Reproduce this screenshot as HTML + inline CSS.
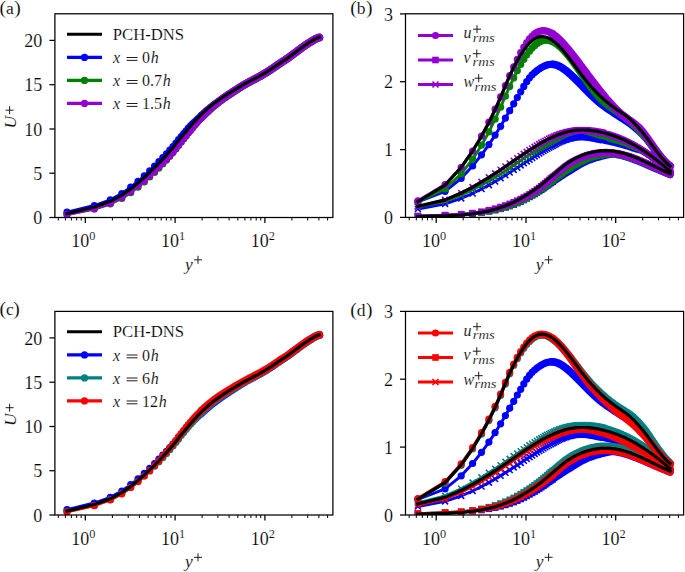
<!DOCTYPE html>
<html><head><meta charset="utf-8"><style>
html,body{margin:0;padding:0;background:#fff;}
svg{display:block;}

text { font-family: "Liberation Serif", serif; fill: #000; stroke: #fff; stroke-width: 0.15px; }
.tk { font-size: 18px; }
.sup { font-size: 12.3px; }
.sup2 { font-size: 12.5px; }
.sub { font-size: 12px; }
.it { font-style: italic; }
.lab { font-size: 17.5px; }
.lg { font-size: 16px; }
.pl { font-size: 17.5px; }
.pp { font-size: 19.6px; }

</style></head><body>
<svg width="685" height="572" viewBox="0 0 685 572">
<defs><clipPath id="ca"><rect x="54.9" y="13.8" width="278" height="203.7"/></clipPath>
<clipPath id="cb"><rect x="405.5" y="13.8" width="278.1" height="203.6"/></clipPath>
<clipPath id="cc"><rect x="54.9" y="311.4" width="278" height="203.7"/></clipPath>
<clipPath id="cd"><rect x="405.5" y="311.4" width="278.1" height="203.6"/></clipPath></defs>
<rect width="685" height="572" fill="#fff"/>
<g clip-path="url(#ca)">
<path d="M67 212.2l27.3 -6.7l16 -5.7l11.5 -6.3l8.9 -6.3l7.3 -5.9l6.3 -5.5l5.4 -5l4.9 -4.7l4.3 -4.4l3.9 -4l3.7 -3.9l3.3 -3.7l3.2 -3.6l2.9 -3.5l2.7 -3.3l2.6 -3.1l2.5 -3l2.4 -2.8l2.2 -2.6l2.2 -2.3l2 -2.1l2 -1.8l1.9 -1.7l1.8 -1.6l1.8 -1.7l1.7 -1.6l1.7 -1.5l1.6 -1.5l1.6 -1.4l1.5 -1.3l1.5 -1.2l1.4 -1.2l1.4 -1.1l1.4 -1.1l1.3 -1l1.4 -1l1.3 -0.9l1.2 -0.9l1.3 -0.9l1.2 -0.9l1.2 -0.8l1.1 -0.8l1.2 -0.8l1.1 -0.7l1.1 -0.8l1.1 -0.7l1.1 -0.7l1 -0.7l1.1 -0.7l1 -0.6l1 -0.7l1 -0.6l1 -0.7l1 -0.6l0.9 -0.6l1 -0.6l0.9 -0.6l0.9 -0.6l1 -0.6l0.9 -0.5l0.9 -0.6l0.8 -0.5l0.9 -0.5l0.9 -0.5l1.7 -1l1.7 -0.9l1.6 -0.8l1.6 -0.9l1.6 -0.8l1.6 -0.9l1.5 -0.8l1.5 -0.8l1.5 -0.8l1.5 -0.9l1.4 -0.8l1.5 -0.9l1.4 -0.8l1.4 -0.9l1.3 -0.9l1.4 -0.8l1.4 -0.9l1.3 -0.9l1.3 -0.9l1.3 -0.9l1.3 -0.9l1.3 -0.9l1.3 -0.8l1.2 -0.9l1.3 -0.9l1.2 -0.8l1.3 -0.8l1.2 -0.8l1.2 -0.8l1.2 -0.8l1.2 -0.8l1.2 -0.9l1.2 -0.9l1.1 -0.9l1.2 -0.8l1.2 -0.9l1.1 -0.9l1.2 -0.8l1.1 -0.9l1.1 -0.8l1.2 -0.9l1.1 -0.8l1.1 -0.8l1.1 -0.8l1.1 -0.8l1.1 -0.7l1.1 -0.8l1.1 -0.7l1.1 -0.7l1.1 -0.6l1.1 -0.7l1 -0.7l1.1 -0.6l1.1 -0.6l1 -0.6l1.1 -0.5l1 -0.4l1.1 -0.4l0.5 -0.1" fill="none" stroke="#0000ff" stroke-width="2.9" stroke-linejoin="round"/>
<circle cx="67" cy="212.2" r="3.6" fill="#0000ff"/>
<circle cx="94.3" cy="205.5" r="3.6" fill="#0000ff"/>
<circle cx="110.3" cy="199.8" r="3.6" fill="#0000ff"/>
<circle cx="121.8" cy="193.5" r="3.6" fill="#0000ff"/>
<circle cx="130.7" cy="187.2" r="3.6" fill="#0000ff"/>
<circle cx="138" cy="181.3" r="3.6" fill="#0000ff"/>
<circle cx="144.3" cy="175.8" r="3.6" fill="#0000ff"/>
<circle cx="149.7" cy="170.8" r="3.6" fill="#0000ff"/>
<circle cx="154.6" cy="166.1" r="3.6" fill="#0000ff"/>
<circle cx="158.9" cy="161.7" r="3.6" fill="#0000ff"/>
<circle cx="162.8" cy="157.7" r="3.6" fill="#0000ff"/>
<circle cx="166.5" cy="153.8" r="3.6" fill="#0000ff"/>
<circle cx="169.8" cy="150.1" r="3.6" fill="#0000ff"/>
<circle cx="173" cy="146.5" r="3.6" fill="#0000ff"/>
<circle cx="175.9" cy="143" r="3.6" fill="#0000ff"/>
<circle cx="178.6" cy="139.7" r="3.6" fill="#0000ff"/>
<circle cx="181.2" cy="136.6" r="3.6" fill="#0000ff"/>
<circle cx="183.7" cy="133.6" r="3.6" fill="#0000ff"/>
<circle cx="186.1" cy="130.8" r="3.6" fill="#0000ff"/>
<circle cx="188.3" cy="128.2" r="3.6" fill="#0000ff"/>
<circle cx="190.5" cy="125.9" r="3.6" fill="#0000ff"/>
<circle cx="192.5" cy="123.8" r="3.6" fill="#0000ff"/>
<circle cx="194.5" cy="122" r="3.6" fill="#0000ff"/>
<circle cx="196.4" cy="120.3" r="3.6" fill="#0000ff"/>
<circle cx="198.2" cy="118.7" r="3.6" fill="#0000ff"/>
<circle cx="200" cy="117" r="3.6" fill="#0000ff"/>
<circle cx="201.7" cy="115.4" r="3.6" fill="#0000ff"/>
<path d="M201.7 115.4l1.7 -1.5l1.6 -1.5l1.6 -1.4l1.5 -1.3l1.5 -1.2l1.4 -1.2l1.4 -1.1l1.4 -1.1l1.3 -1l1.4 -1l1.3 -0.9l1.2 -0.9l1.3 -0.9l1.2 -0.9l1.2 -0.8l1.1 -0.8l1.2 -0.8l1.1 -0.7l1.1 -0.8l1.1 -0.7l1.1 -0.7l1 -0.7l1.1 -0.7l1 -0.6l1 -0.7l1 -0.6l1 -0.7l1 -0.6l0.9 -0.6l1 -0.6l0.9 -0.6l0.9 -0.6l1 -0.6l0.9 -0.5l0.9 -0.6l0.8 -0.5l0.9 -0.5l0.9 -0.5l1.7 -1l1.7 -0.9l1.6 -0.8l1.6 -0.9l1.6 -0.8l1.6 -0.9l1.5 -0.8l1.5 -0.8l1.5 -0.8l1.5 -0.9l1.4 -0.8l1.5 -0.9l1.4 -0.8l1.4 -0.9l1.3 -0.9l1.4 -0.8l1.4 -0.9l1.3 -0.9l1.3 -0.9l1.3 -0.9l1.3 -0.9l1.3 -0.9l1.3 -0.8l1.2 -0.9l1.3 -0.9l1.2 -0.8l1.3 -0.8l1.2 -0.8l1.2 -0.8l1.2 -0.8l1.2 -0.8l1.2 -0.9l1.2 -0.9l1.1 -0.9l1.2 -0.8l1.2 -0.9l1.1 -0.9l1.2 -0.8l1.1 -0.9l1.1 -0.8l1.2 -0.9l1.1 -0.8l1.1 -0.8l1.1 -0.8l1.1 -0.8l1.1 -0.7l1.1 -0.8l1.1 -0.7l1.1 -0.7l1.1 -0.6l1.1 -0.7l1 -0.7l1.1 -0.6l1.1 -0.6l1 -0.6l1.1 -0.5l1 -0.4l1.1 -0.4l0.5 -0.1" fill="none" stroke="#0000ff" stroke-width="7.8" stroke-linejoin="round" stroke-linecap="round"/>
<path d="M67 214.6l27.3 -5.6l16 -5l11.5 -5.5l8.9 -5.8l7.3 -5.5l6.3 -5.3l5.4 -4.9l4.9 -4.6l4.3 -4.3l3.9 -4.1l3.7 -3.9l3.3 -3.8l3.2 -3.7l2.9 -3.6l2.7 -3.5l2.6 -3.3l2.5 -3.2l2.4 -3.1l2.2 -2.9l2.2 -2.6l2 -2.5l2 -2.4l1.9 -2.2l1.8 -2l1.8 -2l1.7 -1.8l1.7 -1.7l1.6 -1.6l1.6 -1.5l1.5 -1.4l1.5 -1.4l1.4 -1.3l1.4 -1.3l1.4 -1.1l1.3 -1.2l1.4 -1l1.3 -1.1l1.2 -0.9l1.3 -1l1.2 -0.9l1.2 -0.9l1.1 -0.8l1.2 -0.8l1.1 -0.8l1.1 -0.8l1.1 -0.7l1.1 -0.7l1 -0.7l1.1 -0.7l1 -0.7l1 -0.7l1 -0.7l1 -0.6l1 -0.7l0.9 -0.6l1 -0.6l0.9 -0.6l0.9 -0.6l1 -0.6l0.9 -0.6l0.9 -0.5l0.8 -0.5l0.9 -0.6l0.9 -0.5l1.7 -1l1.7 -0.9l1.6 -0.8l1.6 -0.9l1.6 -0.8l1.6 -0.8l1.5 -0.9l1.5 -0.8l1.5 -0.8l1.5 -0.9l1.4 -0.8l1.5 -0.8l1.4 -0.9l1.4 -0.8l1.3 -0.9l1.4 -0.9l1.4 -0.9l1.3 -0.9l1.3 -0.9l1.3 -0.9l1.3 -0.8l1.3 -0.9l1.3 -0.9l1.2 -0.9l1.3 -0.8l1.2 -0.9l1.3 -0.8l1.2 -0.8l1.2 -0.8l1.2 -0.8l1.2 -0.8l1.2 -0.9l1.2 -0.8l1.1 -0.9l1.2 -0.9l1.2 -0.9l1.1 -0.8l1.2 -0.9l1.1 -0.9l1.1 -0.8l1.2 -0.8l1.1 -0.9l1.1 -0.8l1.1 -0.8l1.1 -0.8l1.1 -0.7l1.1 -0.8l1.1 -0.7l1.1 -0.7l1.1 -0.6l1.1 -0.7l1 -0.7l1.1 -0.6l1.1 -0.6l1 -0.6l1.1 -0.5l1 -0.4l1.1 -0.4l0.5 -0.1" fill="none" stroke="#008000" stroke-width="2.9" stroke-linejoin="round"/>
<circle cx="67" cy="214.6" r="3.6" fill="#008000"/>
<circle cx="94.3" cy="209" r="3.6" fill="#008000"/>
<circle cx="110.3" cy="204" r="3.6" fill="#008000"/>
<circle cx="121.8" cy="198.5" r="3.6" fill="#008000"/>
<circle cx="130.7" cy="192.7" r="3.6" fill="#008000"/>
<circle cx="138" cy="187.2" r="3.6" fill="#008000"/>
<circle cx="144.3" cy="181.9" r="3.6" fill="#008000"/>
<circle cx="149.7" cy="177" r="3.6" fill="#008000"/>
<circle cx="154.6" cy="172.4" r="3.6" fill="#008000"/>
<circle cx="158.9" cy="168.1" r="3.6" fill="#008000"/>
<circle cx="162.8" cy="164" r="3.6" fill="#008000"/>
<circle cx="166.5" cy="160.1" r="3.6" fill="#008000"/>
<circle cx="169.8" cy="156.3" r="3.6" fill="#008000"/>
<circle cx="173" cy="152.6" r="3.6" fill="#008000"/>
<circle cx="175.9" cy="149" r="3.6" fill="#008000"/>
<circle cx="178.6" cy="145.5" r="3.6" fill="#008000"/>
<circle cx="181.2" cy="142.2" r="3.6" fill="#008000"/>
<circle cx="183.7" cy="139" r="3.6" fill="#008000"/>
<circle cx="186.1" cy="135.9" r="3.6" fill="#008000"/>
<circle cx="188.3" cy="133" r="3.6" fill="#008000"/>
<circle cx="190.5" cy="130.4" r="3.6" fill="#008000"/>
<circle cx="192.5" cy="127.9" r="3.6" fill="#008000"/>
<circle cx="194.5" cy="125.5" r="3.6" fill="#008000"/>
<circle cx="196.4" cy="123.3" r="3.6" fill="#008000"/>
<circle cx="198.2" cy="121.3" r="3.6" fill="#008000"/>
<circle cx="200" cy="119.3" r="3.6" fill="#008000"/>
<circle cx="201.7" cy="117.5" r="3.6" fill="#008000"/>
<path d="M201.7 117.5l1.7 -1.7l1.6 -1.6l1.6 -1.5l1.5 -1.4l1.5 -1.4l1.4 -1.3l1.4 -1.3l1.4 -1.1l1.3 -1.2l1.4 -1l1.3 -1.1l1.2 -0.9l1.3 -1l1.2 -0.9l1.2 -0.9l1.1 -0.8l1.2 -0.8l1.1 -0.8l1.1 -0.8l1.1 -0.7l1.1 -0.7l1 -0.7l1.1 -0.7l1 -0.7l1 -0.7l1 -0.7l1 -0.6l1 -0.7l0.9 -0.6l1 -0.6l0.9 -0.6l0.9 -0.6l1 -0.6l0.9 -0.6l0.9 -0.5l0.8 -0.5l0.9 -0.6l0.9 -0.5l1.7 -1l1.7 -0.9l1.6 -0.8l1.6 -0.9l1.6 -0.8l1.6 -0.8l1.5 -0.9l1.5 -0.8l1.5 -0.8l1.5 -0.9l1.4 -0.8l1.5 -0.8l1.4 -0.9l1.4 -0.8l1.3 -0.9l1.4 -0.9l1.4 -0.9l1.3 -0.9l1.3 -0.9l1.3 -0.9l1.3 -0.8l1.3 -0.9l1.3 -0.9l1.2 -0.9l1.3 -0.8l1.2 -0.9l1.3 -0.8l1.2 -0.8l1.2 -0.8l1.2 -0.8l1.2 -0.8l1.2 -0.9l1.2 -0.8l1.1 -0.9l1.2 -0.9l1.2 -0.9l1.1 -0.8l1.2 -0.9l1.1 -0.9l1.1 -0.8l1.2 -0.8l1.1 -0.9l1.1 -0.8l1.1 -0.8l1.1 -0.8l1.1 -0.7l1.1 -0.8l1.1 -0.7l1.1 -0.7l1.1 -0.6l1.1 -0.7l1 -0.7l1.1 -0.6l1.1 -0.6l1 -0.6l1.1 -0.5l1 -0.4l1.1 -0.4l0.5 -0.1" fill="none" stroke="#008000" stroke-width="7.8" stroke-linejoin="round" stroke-linecap="round"/>
<path d="M67 214.5l27.3 -5.7l16 -5.5l11.5 -5.7l8.9 -6l7.3 -5.6l6.3 -5.2l5.4 -5l4.9 -4.5l4.3 -4.3l3.9 -4l3.7 -3.7l3.3 -3.6l3.2 -3.6l2.9 -3.6l2.7 -3.5l2.6 -3.3l2.5 -3.2l2.4 -2.9l2.2 -2.9l2.2 -2.6l2 -2.5l2 -2.4l1.9 -2.3l1.8 -2.1l1.8 -2l1.7 -1.8l1.7 -1.7l1.6 -1.6l1.6 -1.5l1.5 -1.5l1.5 -1.3l1.4 -1.3l1.4 -1.2l1.4 -1.2l1.3 -1.1l1.4 -1.1l1.3 -1l1.2 -1l1.3 -1l1.2 -0.9l1.2 -0.9l1.1 -0.8l1.2 -0.8l1.1 -0.8l1.1 -0.8l1.1 -0.7l1.1 -0.7l1 -0.7l1.1 -0.7l1 -0.7l1 -0.6l1 -0.7l1 -0.6l1 -0.7l0.9 -0.6l1 -0.6l0.9 -0.6l0.9 -0.5l1 -0.6l0.9 -0.5l0.9 -0.6l0.8 -0.5l0.9 -0.5l1.7 -1l1.7 -0.9l1.7 -0.9l1.6 -0.9l1.6 -0.8l1.6 -0.8l1.5 -0.9l1.6 -0.8l1.5 -0.8l1.4 -0.8l1.5 -0.9l1.4 -0.8l1.5 -0.8l1.4 -0.9l1.4 -0.9l1.3 -0.8l1.4 -0.9l1.3 -0.9l1.4 -0.9l1.3 -0.9l1.3 -0.9l1.3 -0.9l1.2 -0.8l1.3 -0.9l1.3 -0.9l1.2 -0.8l1.2 -0.8l1.3 -0.8l1.2 -0.8l1.2 -0.8l1.2 -0.8l1.2 -0.9l1.2 -0.9l1.2 -0.8l1.1 -0.9l1.2 -0.9l1.1 -0.8l1.2 -0.9l1.1 -0.9l1.2 -0.8l1.1 -0.8l1.1 -0.9l1.1 -0.8l1.2 -0.8l1.1 -0.8l1.1 -0.8l1.1 -0.7l1.1 -0.7l1 -0.7l1.1 -0.7l1.1 -0.7l1.1 -0.6l1.1 -0.7l1 -0.6l1.1 -0.6l1.1 -0.6l1 -0.4l1.1 -0.4l1 -0.3" fill="none" stroke="#9400d3" stroke-width="2.9" stroke-linejoin="round"/>
<circle cx="67" cy="214.5" r="3.6" fill="#9400d3"/>
<circle cx="94.3" cy="208.8" r="3.6" fill="#9400d3"/>
<circle cx="110.3" cy="203.3" r="3.6" fill="#9400d3"/>
<circle cx="121.8" cy="197.6" r="3.6" fill="#9400d3"/>
<circle cx="130.7" cy="191.6" r="3.6" fill="#9400d3"/>
<circle cx="138" cy="186" r="3.6" fill="#9400d3"/>
<circle cx="144.3" cy="180.8" r="3.6" fill="#9400d3"/>
<circle cx="149.7" cy="175.8" r="3.6" fill="#9400d3"/>
<circle cx="154.6" cy="171.3" r="3.6" fill="#9400d3"/>
<circle cx="158.9" cy="167" r="3.6" fill="#9400d3"/>
<circle cx="162.8" cy="163" r="3.6" fill="#9400d3"/>
<circle cx="166.5" cy="159.3" r="3.6" fill="#9400d3"/>
<circle cx="169.8" cy="155.7" r="3.6" fill="#9400d3"/>
<circle cx="173" cy="152.1" r="3.6" fill="#9400d3"/>
<circle cx="175.9" cy="148.5" r="3.6" fill="#9400d3"/>
<circle cx="178.6" cy="145" r="3.6" fill="#9400d3"/>
<circle cx="181.2" cy="141.7" r="3.6" fill="#9400d3"/>
<circle cx="183.7" cy="138.5" r="3.6" fill="#9400d3"/>
<circle cx="186.1" cy="135.6" r="3.6" fill="#9400d3"/>
<circle cx="188.3" cy="132.7" r="3.6" fill="#9400d3"/>
<circle cx="190.5" cy="130.1" r="3.6" fill="#9400d3"/>
<circle cx="192.5" cy="127.6" r="3.6" fill="#9400d3"/>
<circle cx="194.5" cy="125.2" r="3.6" fill="#9400d3"/>
<circle cx="196.4" cy="122.9" r="3.6" fill="#9400d3"/>
<circle cx="198.2" cy="120.8" r="3.6" fill="#9400d3"/>
<circle cx="200" cy="118.8" r="3.6" fill="#9400d3"/>
<circle cx="201.7" cy="117" r="3.6" fill="#9400d3"/>
<path d="M201.7 117l1.7 -1.7l1.6 -1.6l1.6 -1.5l1.5 -1.5l1.5 -1.3l1.4 -1.3l1.4 -1.2l1.4 -1.2l1.3 -1.1l1.4 -1.1l1.3 -1l1.2 -1l1.3 -1l1.2 -0.9l1.2 -0.9l1.1 -0.8l1.2 -0.8l1.1 -0.8l1.1 -0.8l1.1 -0.7l1.1 -0.7l1 -0.7l1.1 -0.7l1 -0.7l1 -0.6l1 -0.7l1 -0.6l1 -0.7l0.9 -0.6l1 -0.6l0.9 -0.6l0.9 -0.5l1 -0.6l0.9 -0.5l0.9 -0.6l0.8 -0.5l0.9 -0.5l1.7 -1l1.7 -0.9l1.7 -0.9l1.6 -0.9l1.6 -0.8l1.6 -0.8l1.5 -0.9l1.6 -0.8l1.5 -0.8l1.4 -0.8l1.5 -0.9l1.4 -0.8l1.5 -0.8l1.4 -0.9l1.4 -0.9l1.3 -0.8l1.4 -0.9l1.3 -0.9l1.4 -0.9l1.3 -0.9l1.3 -0.9l1.3 -0.9l1.2 -0.8l1.3 -0.9l1.3 -0.9l1.2 -0.8l1.2 -0.8l1.3 -0.8l1.2 -0.8l1.2 -0.8l1.2 -0.8l1.2 -0.9l1.2 -0.9l1.2 -0.8l1.1 -0.9l1.2 -0.9l1.1 -0.8l1.2 -0.9l1.1 -0.9l1.2 -0.8l1.1 -0.8l1.1 -0.9l1.1 -0.8l1.2 -0.8l1.1 -0.8l1.1 -0.8l1.1 -0.7l1.1 -0.7l1 -0.7l1.1 -0.7l1.1 -0.7l1.1 -0.6l1.1 -0.7l1 -0.6l1.1 -0.6l1.1 -0.6l1 -0.4l1.1 -0.4l1 -0.3" fill="none" stroke="#9400d3" stroke-width="7.8" stroke-linejoin="round" stroke-linecap="round"/>
<path d="M67 213.5l27.3 -6.5l16 -5.7l11.5 -6.2l8.9 -6.2l7.3 -5.9l6.3 -5.5l5.4 -5.1l4.9 -4.7l4.3 -4.4l3.9 -4.2l3.7 -4l3.3 -3.8l3.2 -3.7l2.9 -3.6l2.7 -3.4l2.6 -3.3l2.5 -3.1l2.4 -2.8l2.2 -2.7l2.2 -2.5l2 -2.4l2 -2.2l1.9 -2l1.8 -2l1.8 -1.8l1.7 -1.7l1.7 -1.6l1.6 -1.4l1.6 -1.5l1.5 -1.3l1.5 -1.3l1.4 -1.2l1.4 -1.1l1.4 -1.1l1.3 -1l1.4 -1l1.3 -0.9l1.2 -0.9l1.3 -0.9l1.2 -0.8l1.2 -0.8l1.1 -0.8l1.2 -0.7l1.1 -0.7l1.1 -0.7l1.1 -0.7l1.1 -0.7l1 -0.6l1.1 -0.7l1 -0.6l1 -0.6l1 -0.6l1 -0.6l1 -0.6l0.9 -0.6l1 -0.5l0.9 -0.6l0.9 -0.5l1 -0.6l0.9 -0.5l0.9 -0.5l0.8 -0.5l0.9 -0.5l1.7 -0.9l1.7 -0.9l1.7 -0.9l1.6 -0.9l1.6 -0.8l1.6 -0.8l1.5 -0.8l1.6 -0.8l1.5 -0.8l1.4 -0.9l1.5 -0.8l1.4 -0.8l1.5 -0.8l1.4 -0.9l1.4 -0.9l1.3 -0.8l1.4 -0.9l1.3 -0.9l1.4 -0.9l1.3 -0.8l1.3 -0.9l1.3 -0.9l1.2 -0.9l1.3 -0.8l1.3 -0.9l1.2 -0.8l1.2 -0.9l1.3 -0.7l1.2 -0.8l1.2 -0.8l1.2 -0.8l1.2 -0.9l1.2 -0.9l1.2 -0.8l1.1 -0.9l1.2 -0.9l1.1 -0.8l1.2 -0.9l1.1 -0.9l1.2 -0.8l1.1 -0.8l1.1 -0.9l1.1 -0.8l1.2 -0.8l1.1 -0.8l1.1 -0.8l1.1 -0.7l1.1 -0.7l1 -0.7l1.1 -0.7l1.1 -0.7l1.1 -0.6l1.1 -0.7l1 -0.6l1.1 -0.6l1.1 -0.6l1 -0.4l1.1 -0.4l1 -0.3" fill="none" stroke="#000" stroke-width="3.2" stroke-linejoin="round" stroke-linecap="square"/>
</g>
<g clip-path="url(#cc)">
<path d="M67 509.7l27.3 -6.7l16 -5.7l11.5 -6.3l8.9 -6.3l7.3 -5.9l6.3 -5.5l5.4 -5l4.9 -4.7l4.3 -4.4l3.9 -4l3.7 -3.9l3.3 -3.7l3.2 -3.6l2.9 -3.5l2.7 -3.3l2.6 -3.1l2.5 -3l2.4 -2.8l2.2 -2.6l2.2 -2.3l2 -2.1l2 -1.8l1.9 -1.7l1.8 -1.6l1.8 -1.7l1.7 -1.6l1.7 -1.5l1.6 -1.5l1.6 -1.4l1.5 -1.3l1.5 -1.2l1.4 -1.2l1.4 -1.1l1.4 -1.1l1.3 -1l1.4 -1l1.3 -0.9l1.2 -0.9l1.3 -0.9l1.2 -0.9l1.2 -0.8l1.1 -0.8l1.2 -0.8l1.1 -0.7l1.1 -0.8l1.1 -0.7l1.1 -0.7l1 -0.7l1.1 -0.7l1 -0.6l1 -0.7l1 -0.6l1 -0.7l1 -0.6l0.9 -0.6l1 -0.6l0.9 -0.6l0.9 -0.6l1 -0.6l0.9 -0.5l0.9 -0.6l0.8 -0.5l0.9 -0.5l0.9 -0.5l1.7 -1l1.7 -0.9l1.6 -0.8l1.6 -0.9l1.6 -0.8l1.6 -0.9l1.5 -0.8l1.5 -0.8l1.5 -0.8l1.5 -0.9l1.4 -0.8l1.5 -0.9l1.4 -0.8l1.4 -0.9l1.3 -0.9l1.4 -0.8l1.4 -0.9l1.3 -0.9l1.3 -0.9l1.3 -0.9l1.3 -0.9l1.3 -0.9l1.3 -0.8l1.2 -0.9l1.3 -0.9l1.2 -0.8l1.3 -0.8l1.2 -0.8l1.2 -0.8l1.2 -0.8l1.2 -0.8l1.2 -0.9l1.2 -0.9l1.1 -0.9l1.2 -0.8l1.2 -0.9l1.1 -0.9l1.2 -0.8l1.1 -0.9l1.1 -0.8l1.2 -0.9l1.1 -0.8l1.1 -0.8l1.1 -0.8l1.1 -0.8l1.1 -0.7l1.1 -0.8l1.1 -0.7l1.1 -0.7l1.1 -0.6l1.1 -0.7l1 -0.7l1.1 -0.6l1.1 -0.6l1 -0.6l1.1 -0.5l1 -0.4l1.1 -0.4l0.5 -0.1" fill="none" stroke="#0000ff" stroke-width="2.9" stroke-linejoin="round"/>
<circle cx="67" cy="509.7" r="3.6" fill="#0000ff"/>
<circle cx="94.3" cy="503" r="3.6" fill="#0000ff"/>
<circle cx="110.3" cy="497.3" r="3.6" fill="#0000ff"/>
<circle cx="121.8" cy="491" r="3.6" fill="#0000ff"/>
<circle cx="130.7" cy="484.7" r="3.6" fill="#0000ff"/>
<circle cx="138" cy="478.8" r="3.6" fill="#0000ff"/>
<circle cx="144.3" cy="473.3" r="3.6" fill="#0000ff"/>
<circle cx="149.7" cy="468.3" r="3.6" fill="#0000ff"/>
<circle cx="154.6" cy="463.6" r="3.6" fill="#0000ff"/>
<circle cx="158.9" cy="459.2" r="3.6" fill="#0000ff"/>
<circle cx="162.8" cy="455.2" r="3.6" fill="#0000ff"/>
<circle cx="166.5" cy="451.3" r="3.6" fill="#0000ff"/>
<circle cx="169.8" cy="447.6" r="3.6" fill="#0000ff"/>
<circle cx="173" cy="444" r="3.6" fill="#0000ff"/>
<circle cx="175.9" cy="440.5" r="3.6" fill="#0000ff"/>
<circle cx="178.6" cy="437.2" r="3.6" fill="#0000ff"/>
<circle cx="181.2" cy="434.1" r="3.6" fill="#0000ff"/>
<circle cx="183.7" cy="431.1" r="3.6" fill="#0000ff"/>
<circle cx="186.1" cy="428.3" r="3.6" fill="#0000ff"/>
<circle cx="188.3" cy="425.7" r="3.6" fill="#0000ff"/>
<circle cx="190.5" cy="423.4" r="3.6" fill="#0000ff"/>
<circle cx="192.5" cy="421.3" r="3.6" fill="#0000ff"/>
<circle cx="194.5" cy="419.5" r="3.6" fill="#0000ff"/>
<circle cx="196.4" cy="417.8" r="3.6" fill="#0000ff"/>
<circle cx="198.2" cy="416.2" r="3.6" fill="#0000ff"/>
<circle cx="200" cy="414.5" r="3.6" fill="#0000ff"/>
<circle cx="201.7" cy="412.9" r="3.6" fill="#0000ff"/>
<path d="M201.7 412.9l1.7 -1.5l1.6 -1.5l1.6 -1.4l1.5 -1.3l1.5 -1.2l1.4 -1.2l1.4 -1.1l1.4 -1.1l1.3 -1l1.4 -1l1.3 -0.9l1.2 -0.9l1.3 -0.9l1.2 -0.9l1.2 -0.8l1.1 -0.8l1.2 -0.8l1.1 -0.7l1.1 -0.8l1.1 -0.7l1.1 -0.7l1 -0.7l1.1 -0.7l1 -0.6l1 -0.7l1 -0.6l1 -0.7l1 -0.6l0.9 -0.6l1 -0.6l0.9 -0.6l0.9 -0.6l1 -0.6l0.9 -0.5l0.9 -0.6l0.8 -0.5l0.9 -0.5l0.9 -0.5l1.7 -1l1.7 -0.9l1.6 -0.8l1.6 -0.9l1.6 -0.8l1.6 -0.9l1.5 -0.8l1.5 -0.8l1.5 -0.8l1.5 -0.9l1.4 -0.8l1.5 -0.9l1.4 -0.8l1.4 -0.9l1.3 -0.9l1.4 -0.8l1.4 -0.9l1.3 -0.9l1.3 -0.9l1.3 -0.9l1.3 -0.9l1.3 -0.9l1.3 -0.8l1.2 -0.9l1.3 -0.9l1.2 -0.8l1.3 -0.8l1.2 -0.8l1.2 -0.8l1.2 -0.8l1.2 -0.8l1.2 -0.9l1.2 -0.9l1.1 -0.9l1.2 -0.8l1.2 -0.9l1.1 -0.9l1.2 -0.8l1.1 -0.9l1.1 -0.8l1.2 -0.9l1.1 -0.8l1.1 -0.8l1.1 -0.8l1.1 -0.8l1.1 -0.7l1.1 -0.8l1.1 -0.7l1.1 -0.7l1.1 -0.6l1.1 -0.7l1 -0.7l1.1 -0.6l1.1 -0.6l1 -0.6l1.1 -0.5l1 -0.4l1.1 -0.4l0.5 -0.1" fill="none" stroke="#0000ff" stroke-width="7.8" stroke-linejoin="round" stroke-linecap="round"/>
<path d="M67 511.6l27.3 -6.2l16 -5.7l11.5 -6.1l8.9 -6.2l7.3 -5.9l6.3 -5.5l5.4 -5.1l4.9 -4.7l4.3 -4.4l3.9 -4.2l3.7 -4l3.3 -3.9l3.2 -3.7l2.9 -3.7l2.7 -3.4l2.6 -3.4l2.5 -3.1l2.4 -2.9l2.2 -2.7l2.2 -2.6l2 -2.3l2 -2.2l1.9 -2.1l1.8 -2l1.8 -1.8l1.7 -1.7l1.7 -1.6l1.6 -1.5l1.6 -1.4l1.5 -1.3l1.5 -1.3l1.4 -1.2l1.4 -1.1l1.4 -1.1l1.3 -1.1l1.4 -0.9l1.3 -1l1.2 -0.9l1.3 -0.8l1.2 -0.9l1.2 -0.8l1.1 -0.7l1.2 -0.8l1.1 -0.7l1.1 -0.7l1.1 -0.7l1.1 -0.7l1 -0.6l1.1 -0.6l1 -0.7l1 -0.6l1 -0.6l1 -0.6l1 -0.6l0.9 -0.6l1 -0.5l0.9 -0.6l0.9 -0.5l1 -0.6l0.9 -0.5l0.9 -0.5l0.8 -0.5l0.9 -0.5l1.7 -1l1.7 -0.9l1.7 -0.8l1.6 -0.9l1.6 -0.8l1.6 -0.8l1.5 -0.9l1.6 -0.8l1.5 -0.8l1.4 -0.8l1.5 -0.8l1.4 -0.9l1.5 -0.8l1.4 -0.8l1.4 -0.9l1.3 -0.9l1.4 -0.9l1.3 -0.9l1.4 -0.8l1.3 -0.9l1.3 -0.9l1.3 -0.9l1.2 -0.8l1.3 -0.9l1.3 -0.9l1.2 -0.8l1.2 -0.8l1.3 -0.8l1.2 -0.8l1.2 -0.8l1.2 -0.8l1.2 -0.9l1.2 -0.8l1.2 -0.9l1.1 -0.9l1.2 -0.9l1.1 -0.8l1.2 -0.9l1.1 -0.9l1.2 -0.8l1.1 -0.8l1.1 -0.9l1.1 -0.8l1.2 -0.8l1.1 -0.8l1.1 -0.8l1.1 -0.7l1.1 -0.7l1 -0.7l1.1 -0.7l1.1 -0.7l1.1 -0.6l1.1 -0.7l1 -0.6l1.1 -0.6l1.1 -0.6l1 -0.4l1.1 -0.4l1 -0.3" fill="none" stroke="#008080" stroke-width="2.9" stroke-linejoin="round"/>
<circle cx="67" cy="511.6" r="3.6" fill="#008080"/>
<circle cx="94.3" cy="505.4" r="3.6" fill="#008080"/>
<circle cx="110.3" cy="499.7" r="3.6" fill="#008080"/>
<circle cx="121.8" cy="493.6" r="3.6" fill="#008080"/>
<circle cx="130.7" cy="487.4" r="3.6" fill="#008080"/>
<circle cx="138" cy="481.5" r="3.6" fill="#008080"/>
<circle cx="144.3" cy="476" r="3.6" fill="#008080"/>
<circle cx="149.7" cy="470.9" r="3.6" fill="#008080"/>
<circle cx="154.6" cy="466.2" r="3.6" fill="#008080"/>
<circle cx="158.9" cy="461.8" r="3.6" fill="#008080"/>
<circle cx="162.8" cy="457.6" r="3.6" fill="#008080"/>
<circle cx="166.5" cy="453.6" r="3.6" fill="#008080"/>
<circle cx="169.8" cy="449.7" r="3.6" fill="#008080"/>
<circle cx="173" cy="446" r="3.6" fill="#008080"/>
<circle cx="175.9" cy="442.3" r="3.6" fill="#008080"/>
<circle cx="178.6" cy="438.9" r="3.6" fill="#008080"/>
<circle cx="181.2" cy="435.5" r="3.6" fill="#008080"/>
<circle cx="183.7" cy="432.4" r="3.6" fill="#008080"/>
<circle cx="186.1" cy="429.5" r="3.6" fill="#008080"/>
<circle cx="188.3" cy="426.8" r="3.6" fill="#008080"/>
<circle cx="190.5" cy="424.2" r="3.6" fill="#008080"/>
<circle cx="192.5" cy="421.9" r="3.6" fill="#008080"/>
<circle cx="194.5" cy="419.7" r="3.6" fill="#008080"/>
<circle cx="196.4" cy="417.6" r="3.6" fill="#008080"/>
<circle cx="198.2" cy="415.6" r="3.6" fill="#008080"/>
<circle cx="200" cy="413.8" r="3.6" fill="#008080"/>
<circle cx="201.7" cy="412.1" r="3.6" fill="#008080"/>
<path d="M201.7 412.1l1.7 -1.6l1.6 -1.5l1.6 -1.4l1.5 -1.3l1.5 -1.3l1.4 -1.2l1.4 -1.1l1.4 -1.1l1.3 -1.1l1.4 -0.9l1.3 -1l1.2 -0.9l1.3 -0.8l1.2 -0.9l1.2 -0.8l1.1 -0.7l1.2 -0.8l1.1 -0.7l1.1 -0.7l1.1 -0.7l1.1 -0.7l1 -0.6l1.1 -0.6l1 -0.7l1 -0.6l1 -0.6l1 -0.6l1 -0.6l0.9 -0.6l1 -0.5l0.9 -0.6l0.9 -0.5l1 -0.6l0.9 -0.5l0.9 -0.5l0.8 -0.5l0.9 -0.5l1.7 -1l1.7 -0.9l1.7 -0.8l1.6 -0.9l1.6 -0.8l1.6 -0.8l1.5 -0.9l1.6 -0.8l1.5 -0.8l1.4 -0.8l1.5 -0.8l1.4 -0.9l1.5 -0.8l1.4 -0.8l1.4 -0.9l1.3 -0.9l1.4 -0.9l1.3 -0.9l1.4 -0.8l1.3 -0.9l1.3 -0.9l1.3 -0.9l1.2 -0.8l1.3 -0.9l1.3 -0.9l1.2 -0.8l1.2 -0.8l1.3 -0.8l1.2 -0.8l1.2 -0.8l1.2 -0.8l1.2 -0.9l1.2 -0.8l1.2 -0.9l1.1 -0.9l1.2 -0.9l1.1 -0.8l1.2 -0.9l1.1 -0.9l1.2 -0.8l1.1 -0.8l1.1 -0.9l1.1 -0.8l1.2 -0.8l1.1 -0.8l1.1 -0.8l1.1 -0.7l1.1 -0.7l1 -0.7l1.1 -0.7l1.1 -0.7l1.1 -0.6l1.1 -0.7l1 -0.6l1.1 -0.6l1.1 -0.6l1 -0.4l1.1 -0.4l1 -0.3" fill="none" stroke="#008080" stroke-width="7.8" stroke-linejoin="round" stroke-linecap="round"/>
<path d="M67 511.9l27.3 -6.2l16 -5.7l11.5 -6.2l8.9 -6.3l7.3 -5.9l6.3 -5.6l5.4 -5.3l4.9 -5.1l4.3 -4.8l3.9 -4.4l3.7 -4.2l3.3 -4.1l3.2 -3.9l2.9 -3.7l2.7 -3.6l2.6 -3.4l2.5 -3.1l2.4 -3l2.2 -2.7l2.2 -2.5l2 -2.4l2 -2.1l1.9 -2l1.8 -1.9l1.8 -1.8l1.7 -1.6l1.7 -1.5l1.6 -1.5l1.6 -1.3l1.5 -1.3l1.5 -1.3l1.4 -1.1l1.4 -1.2l1.4 -1l1.3 -1l1.4 -1l1.3 -0.9l1.2 -0.9l1.3 -0.8l1.2 -0.8l1.2 -0.8l1.1 -0.7l1.2 -0.8l1.1 -0.7l1.1 -0.7l1.1 -0.6l1.1 -0.7l1 -0.6l1.1 -0.6l1 -0.7l1 -0.6l1 -0.6l1 -0.6l1 -0.5l0.9 -0.6l1 -0.5l0.9 -0.6l0.9 -0.5l1 -0.6l0.9 -0.5l0.9 -0.5l0.8 -0.5l1.8 -0.9l1.7 -0.9l1.7 -0.9l1.6 -0.8l1.6 -0.8l1.6 -0.9l1.6 -0.8l1.5 -0.8l1.5 -0.8l1.5 -0.8l1.5 -0.8l1.4 -0.8l1.5 -0.8l1.4 -0.8l1.4 -0.9l1.3 -0.8l1.4 -0.9l1.4 -0.9l1.3 -0.8l1.3 -0.9l1.3 -0.9l1.3 -0.8l1.3 -0.9l1.3 -0.9l1.2 -0.8l1.3 -0.9l1.2 -0.8l1.3 -0.8l1.2 -0.7l1.2 -0.8l1.2 -0.8l1.2 -0.8l1.2 -0.9l1.2 -0.9l1.1 -0.8l1.2 -0.9l1.2 -0.9l1.1 -0.8l1.2 -0.9l1.1 -0.8l1.1 -0.8l1.2 -0.9l1.1 -0.8l1.1 -0.8l1.1 -0.8l1.1 -0.8l1.1 -0.7l1.1 -0.8l1.1 -0.7l1.1 -0.6l1.1 -0.7l1.1 -0.6l1 -0.7l1.1 -0.7l1.1 -0.6l1 -0.5l1.1 -0.5l1 -0.5l1.1 -0.3l0.5 -0.1" fill="none" stroke="#ff0000" stroke-width="2.9" stroke-linejoin="round"/>
<circle cx="67" cy="511.9" r="3.6" fill="#ff0000"/>
<circle cx="94.3" cy="505.7" r="3.6" fill="#ff0000"/>
<circle cx="110.3" cy="500" r="3.6" fill="#ff0000"/>
<circle cx="121.8" cy="493.8" r="3.6" fill="#ff0000"/>
<circle cx="130.7" cy="487.5" r="3.6" fill="#ff0000"/>
<circle cx="138" cy="481.6" r="3.6" fill="#ff0000"/>
<circle cx="144.3" cy="476" r="3.6" fill="#ff0000"/>
<circle cx="149.7" cy="470.7" r="3.6" fill="#ff0000"/>
<circle cx="154.6" cy="465.6" r="3.6" fill="#ff0000"/>
<circle cx="158.9" cy="460.8" r="3.6" fill="#ff0000"/>
<circle cx="162.8" cy="456.4" r="3.6" fill="#ff0000"/>
<circle cx="166.5" cy="452.2" r="3.6" fill="#ff0000"/>
<circle cx="169.8" cy="448.1" r="3.6" fill="#ff0000"/>
<circle cx="173" cy="444.2" r="3.6" fill="#ff0000"/>
<circle cx="175.9" cy="440.5" r="3.6" fill="#ff0000"/>
<circle cx="178.6" cy="436.9" r="3.6" fill="#ff0000"/>
<circle cx="181.2" cy="433.5" r="3.6" fill="#ff0000"/>
<circle cx="183.7" cy="430.4" r="3.6" fill="#ff0000"/>
<circle cx="186.1" cy="427.4" r="3.6" fill="#ff0000"/>
<circle cx="188.3" cy="424.7" r="3.6" fill="#ff0000"/>
<circle cx="190.5" cy="422.2" r="3.6" fill="#ff0000"/>
<circle cx="192.5" cy="419.8" r="3.6" fill="#ff0000"/>
<circle cx="194.5" cy="417.7" r="3.6" fill="#ff0000"/>
<circle cx="196.4" cy="415.7" r="3.6" fill="#ff0000"/>
<circle cx="198.2" cy="413.8" r="3.6" fill="#ff0000"/>
<circle cx="200" cy="412" r="3.6" fill="#ff0000"/>
<circle cx="201.7" cy="410.4" r="3.6" fill="#ff0000"/>
<path d="M201.7 410.4l1.7 -1.5l1.6 -1.5l1.6 -1.3l1.5 -1.3l1.5 -1.3l1.4 -1.1l1.4 -1.2l1.4 -1l1.3 -1l1.4 -1l1.3 -0.9l1.2 -0.9l1.3 -0.8l1.2 -0.8l1.2 -0.8l1.1 -0.7l1.2 -0.8l1.1 -0.7l1.1 -0.7l1.1 -0.6l1.1 -0.7l1 -0.6l1.1 -0.6l1 -0.7l1 -0.6l1 -0.6l1 -0.6l1 -0.5l0.9 -0.6l1 -0.5l0.9 -0.6l0.9 -0.5l1 -0.6l0.9 -0.5l0.9 -0.5l0.8 -0.5l1.8 -0.9l1.7 -0.9l1.7 -0.9l1.6 -0.8l1.6 -0.8l1.6 -0.9l1.6 -0.8l1.5 -0.8l1.5 -0.8l1.5 -0.8l1.5 -0.8l1.4 -0.8l1.5 -0.8l1.4 -0.8l1.4 -0.9l1.3 -0.8l1.4 -0.9l1.4 -0.9l1.3 -0.8l1.3 -0.9l1.3 -0.9l1.3 -0.8l1.3 -0.9l1.3 -0.9l1.2 -0.8l1.3 -0.9l1.2 -0.8l1.3 -0.8l1.2 -0.7l1.2 -0.8l1.2 -0.8l1.2 -0.8l1.2 -0.9l1.2 -0.9l1.1 -0.8l1.2 -0.9l1.2 -0.9l1.1 -0.8l1.2 -0.9l1.1 -0.8l1.1 -0.8l1.2 -0.9l1.1 -0.8l1.1 -0.8l1.1 -0.8l1.1 -0.8l1.1 -0.7l1.1 -0.8l1.1 -0.7l1.1 -0.6l1.1 -0.7l1.1 -0.6l1 -0.7l1.1 -0.7l1.1 -0.6l1 -0.5l1.1 -0.5l1 -0.5l1.1 -0.3l0.5 -0.1" fill="none" stroke="#ff0000" stroke-width="7.8" stroke-linejoin="round" stroke-linecap="round"/>
<path d="M67 511l27.3 -6.5l16 -5.7l11.5 -6.2l8.9 -6.2l7.3 -5.9l6.3 -5.5l5.4 -5.1l4.9 -4.7l4.3 -4.4l3.9 -4.2l3.7 -4l3.3 -3.8l3.2 -3.7l2.9 -3.6l2.7 -3.4l2.6 -3.3l2.5 -3.1l2.4 -2.8l2.2 -2.7l2.2 -2.5l2 -2.4l2 -2.2l1.9 -2l1.8 -2l1.8 -1.8l1.7 -1.7l1.7 -1.6l1.6 -1.4l1.6 -1.5l1.5 -1.3l1.5 -1.3l1.4 -1.2l1.4 -1.1l1.4 -1.1l1.3 -1l1.4 -1l1.3 -0.9l1.2 -0.9l1.3 -0.9l1.2 -0.8l1.2 -0.8l1.1 -0.8l1.2 -0.7l1.1 -0.7l1.1 -0.7l1.1 -0.7l1.1 -0.7l1 -0.6l1.1 -0.7l1 -0.6l1 -0.6l1 -0.6l1 -0.6l1 -0.6l0.9 -0.6l1 -0.5l0.9 -0.6l0.9 -0.5l1 -0.6l0.9 -0.5l0.9 -0.5l0.8 -0.5l0.9 -0.5l1.7 -0.9l1.7 -0.9l1.7 -0.9l1.6 -0.9l1.6 -0.8l1.6 -0.8l1.5 -0.8l1.6 -0.8l1.5 -0.8l1.4 -0.9l1.5 -0.8l1.4 -0.8l1.5 -0.8l1.4 -0.9l1.4 -0.9l1.3 -0.8l1.4 -0.9l1.3 -0.9l1.4 -0.9l1.3 -0.8l1.3 -0.9l1.3 -0.9l1.2 -0.9l1.3 -0.8l1.3 -0.9l1.2 -0.8l1.2 -0.9l1.3 -0.7l1.2 -0.8l1.2 -0.8l1.2 -0.8l1.2 -0.9l1.2 -0.9l1.2 -0.8l1.1 -0.9l1.2 -0.9l1.1 -0.8l1.2 -0.9l1.1 -0.9l1.2 -0.8l1.1 -0.8l1.1 -0.9l1.1 -0.8l1.2 -0.8l1.1 -0.8l1.1 -0.8l1.1 -0.7l1.1 -0.7l1 -0.7l1.1 -0.7l1.1 -0.7l1.1 -0.6l1.1 -0.7l1 -0.6l1.1 -0.6l1.1 -0.6l1 -0.4l1.1 -0.4l1 -0.3" fill="none" stroke="#000" stroke-width="3.2" stroke-linejoin="round" stroke-linecap="square"/>
</g>
<g clip-path="url(#cb)">
<path d="M417.9 202l27.2 -10.7l16.1 -13l11.4 -12.3l8.9 -11.2l7.4 -10.2l6.2 -9.5l5.5 -8.8l4.8 -8.2l4.3 -7.4l4 -6.9l3.6 -6.3l3.4 -5.7l3.1 -5.4l2.9 -4.7l2.8 -3.9l2.6 -3l2.5 -2.3l2.3 -1.9l2.3 -1.6l2.1 -1.4l2.1 -1.1l1.9 -0.9l1.9 -0.7l1.9 -0.4l1.7 -0.2l1.8 0l1.6 0.2l1.6 0.4l1.6 0.5l1.5 0.7l1.5 0.7l1.5 0.9l1.4 0.9l1.3 1l1.4 1l1.3 1.1l1.3 1.1l1.3 1.1l1.2 1.1l1.2 1.2l1.2 1.1l1.2 1.1l1.1 1.2l1.2 1.1l1.1 1.1l1.1 1.1l1 1.1l1.1 1.1l1 1l1.1 1.1l1 1l1 1l1 1l0.9 1l1 0.9l0.9 1l1 0.9l0.9 0.9l0.9 0.9l0.9 0.8l0.9 0.9l0.9 0.8l0.9 0.8l0.8 0.8l0.9 0.7l0.8 0.8l0.9 0.7l0.8 0.7l0.8 0.7l0.9 0.6l0.8 0.7l0.8 0.6l0.8 0.6l1.5 1.1l1.6 1.2l1.5 1l1.5 1l1.5 1l1.5 1l1.4 0.9l1.4 0.9l1.4 0.9l1.4 0.9l1.4 0.9l1.3 0.9l1.4 0.8l1.3 0.9l1.3 0.9l1.3 0.8l1.3 0.9l1.3 0.9l1.3 0.9l1.2 1l1.3 0.9l1.2 1l1.2 1l1.2 1l1.2 1.1l1.2 1.1l1.2 1.1l1.2 1.2l1.2 1.1l1.2 1.3l1.1 1.2l1.2 1.3l1.1 1.4l1.2 1.4l1.1 1.4l1.1 1.5l1.2 1.6l1.1 1.5l1.1 1.6l1.1 1.6l1.1 1.5l1.1 1.6l1.1 1.5l1.1 1.5l1.1 1.4l1.1 1.3l1 1.3l1.1 1.2l1.1 1.2l1 1l1.1 0.9l1.1 0.7l1 0.7l1 0.5" fill="none" stroke="#0000ff" stroke-width="2.9" stroke-linejoin="round"/>
<circle cx="417.9" cy="202" r="3.6" fill="#0000ff"/>
<circle cx="445.1" cy="191.3" r="3.6" fill="#0000ff"/>
<circle cx="461.2" cy="178.3" r="3.6" fill="#0000ff"/>
<circle cx="472.6" cy="166" r="3.6" fill="#0000ff"/>
<circle cx="481.5" cy="154.8" r="3.6" fill="#0000ff"/>
<circle cx="488.9" cy="144.6" r="3.6" fill="#0000ff"/>
<circle cx="495.1" cy="135.1" r="3.6" fill="#0000ff"/>
<circle cx="500.6" cy="126.3" r="3.6" fill="#0000ff"/>
<circle cx="505.4" cy="118.1" r="3.6" fill="#0000ff"/>
<circle cx="509.7" cy="110.7" r="3.6" fill="#0000ff"/>
<circle cx="513.7" cy="103.8" r="3.6" fill="#0000ff"/>
<circle cx="517.3" cy="97.5" r="3.6" fill="#0000ff"/>
<circle cx="520.7" cy="91.8" r="3.6" fill="#0000ff"/>
<circle cx="523.8" cy="86.4" r="3.6" fill="#0000ff"/>
<circle cx="526.7" cy="81.7" r="3.6" fill="#0000ff"/>
<circle cx="529.5" cy="77.8" r="3.6" fill="#0000ff"/>
<circle cx="532.1" cy="74.8" r="3.6" fill="#0000ff"/>
<circle cx="534.6" cy="72.5" r="3.6" fill="#0000ff"/>
<circle cx="536.9" cy="70.6" r="3.6" fill="#0000ff"/>
<circle cx="539.2" cy="69" r="3.6" fill="#0000ff"/>
<circle cx="541.3" cy="67.6" r="3.6" fill="#0000ff"/>
<circle cx="543.4" cy="66.5" r="3.6" fill="#0000ff"/>
<circle cx="545.3" cy="65.6" r="3.6" fill="#0000ff"/>
<circle cx="547.2" cy="64.9" r="3.6" fill="#0000ff"/>
<circle cx="549.1" cy="64.5" r="3.6" fill="#0000ff"/>
<circle cx="550.8" cy="64.3" r="3.6" fill="#0000ff"/>
<circle cx="552.6" cy="64.3" r="3.6" fill="#0000ff"/>
<path d="M552.6 64.3l1.6 0.2l1.6 0.4l1.6 0.5l1.5 0.7l1.5 0.7l1.5 0.9l1.4 0.9l1.3 1l1.4 1l1.3 1.1l1.3 1.1l1.3 1.1l1.2 1.1l1.2 1.2l1.2 1.1l1.2 1.1l1.1 1.2l1.2 1.1l1.1 1.1l1.1 1.1l1 1.1l1.1 1.1l1 1l1.1 1.1l1 1l1 1l1 1l0.9 1l1 0.9l0.9 1l1 0.9l0.9 0.9l0.9 0.9l0.9 0.8l0.9 0.9l0.9 0.8l0.9 0.8l0.8 0.8l0.9 0.7l0.8 0.8l0.9 0.7l0.8 0.7l0.8 0.7l0.9 0.6l0.8 0.7l0.8 0.6l0.8 0.6l1.5 1.1l1.6 1.2l1.5 1l1.5 1l1.5 1l1.5 1l1.4 0.9l1.4 0.9l1.4 0.9l1.4 0.9l1.4 0.9l1.3 0.9l1.4 0.8l1.3 0.9l1.3 0.9l1.3 0.8l1.3 0.9l1.3 0.9l1.3 0.9l1.2 1l1.3 0.9l1.2 1l1.2 1l1.2 1l1.2 1.1l1.2 1.1l1.2 1.1l1.2 1.2l1.2 1.1l1.2 1.3l1.1 1.2l1.2 1.3l1.1 1.4l1.2 1.4l1.1 1.4l1.1 1.5l1.2 1.6l1.1 1.5l1.1 1.6l1.1 1.6l1.1 1.5l1.1 1.6l1.1 1.5l1.1 1.5l1.1 1.4l1.1 1.3l1 1.3l1.1 1.2l1.1 1.2l1 1l1.1 0.9l1.1 0.7l1 0.7l1 0.5" fill="none" stroke="#0000ff" stroke-width="7.8" stroke-linejoin="round" stroke-linecap="round"/>
<path d="M417.9 216.3l27.2 -0.8l16.1 -0.8l11.4 -1.1l8.9 -1.1l7.4 -1.2l6.2 -1.2l5.5 -1.3l4.8 -1.4l4.3 -1.4l4 -1.4l3.6 -1.5l3.4 -1.6l3.1 -1.5l2.9 -1.6l2.8 -1.5l2.6 -1.5l2.5 -1.4l2.3 -1.5l2.3 -1.4l2.1 -1.4l2.1 -1.4l1.9 -1.4l1.9 -1.4l1.9 -1.3l1.7 -1.3l1.8 -1.1l1.6 -1.2l1.6 -1.1l1.6 -1l1.5 -1l1.5 -1l1.5 -0.9l1.4 -0.9l1.3 -0.9l1.4 -0.8l1.3 -0.9l1.3 -0.8l1.3 -0.7l1.2 -0.8l1.2 -0.8l1.2 -0.7l1.2 -0.8l1.1 -0.7l1.2 -0.7l1.1 -0.6l1.1 -0.7l1 -0.6l1.1 -0.6l1 -0.5l1.1 -0.6l1 -0.5l1 -0.4l1 -0.5l0.9 -0.4l1 -0.4l0.9 -0.4l1 -0.3l1.8 -0.7l1.8 -0.6l1.8 -0.6l1.7 -0.5l1.7 -0.4l1.6 -0.5l1.7 -0.4l1.6 -0.4l1.5 -0.4l1.6 -0.4l1.5 -0.3l1.5 -0.3l1.5 -0.1l1.5 -0.1l1.4 0.1l1.4 0.2l1.4 0.2l1.4 0.3l1.4 0.3l1.3 0.3l1.4 0.3l1.3 0.4l1.3 0.4l1.3 0.4l1.3 0.4l1.3 0.4l1.3 0.4l1.2 0.5l1.3 0.4l1.2 0.5l1.2 0.5l1.2 0.4l1.2 0.5l1.2 0.5l1.2 0.5l1.2 0.5l1.2 0.5l1.2 0.5l1.1 0.5l1.2 0.5l1.1 0.5l1.2 0.4l1.1 0.5l1.1 0.5l1.2 0.5l1.1 0.5l1.1 0.5l1.1 0.5l1.1 0.5l1.1 0.4l1.1 0.5l1.1 0.5l1.1 0.4l1.1 0.5l1 0.4l1.1 0.5l1.1 0.4l1 0.4l1.1 0.5l1.1 0.4l1 0.4l1 0.4" fill="none" stroke="#0000ff" stroke-width="2.9" stroke-linejoin="round"/>
<rect x="414.6" y="213" width="6.6" height="6.6" fill="#0000ff"/>
<rect x="441.8" y="212.2" width="6.6" height="6.6" fill="#0000ff"/>
<rect x="457.9" y="211.4" width="6.6" height="6.6" fill="#0000ff"/>
<rect x="469.3" y="210.3" width="6.6" height="6.6" fill="#0000ff"/>
<rect x="478.2" y="209.2" width="6.6" height="6.6" fill="#0000ff"/>
<rect x="485.6" y="208" width="6.6" height="6.6" fill="#0000ff"/>
<rect x="491.8" y="206.8" width="6.6" height="6.6" fill="#0000ff"/>
<rect x="497.3" y="205.5" width="6.6" height="6.6" fill="#0000ff"/>
<rect x="502.1" y="204.1" width="6.6" height="6.6" fill="#0000ff"/>
<rect x="506.4" y="202.7" width="6.6" height="6.6" fill="#0000ff"/>
<rect x="510.4" y="201.3" width="6.6" height="6.6" fill="#0000ff"/>
<rect x="514" y="199.8" width="6.6" height="6.6" fill="#0000ff"/>
<rect x="517.4" y="198.2" width="6.6" height="6.6" fill="#0000ff"/>
<rect x="520.5" y="196.7" width="6.6" height="6.6" fill="#0000ff"/>
<rect x="523.4" y="195.1" width="6.6" height="6.6" fill="#0000ff"/>
<rect x="526.2" y="193.6" width="6.6" height="6.6" fill="#0000ff"/>
<rect x="528.8" y="192.1" width="6.6" height="6.6" fill="#0000ff"/>
<rect x="531.3" y="190.7" width="6.6" height="6.6" fill="#0000ff"/>
<rect x="533.6" y="189.2" width="6.6" height="6.6" fill="#0000ff"/>
<rect x="535.9" y="187.8" width="6.6" height="6.6" fill="#0000ff"/>
<rect x="538" y="186.4" width="6.6" height="6.6" fill="#0000ff"/>
<rect x="540.1" y="185" width="6.6" height="6.6" fill="#0000ff"/>
<rect x="542" y="183.6" width="6.6" height="6.6" fill="#0000ff"/>
<rect x="543.9" y="182.2" width="6.6" height="6.6" fill="#0000ff"/>
<rect x="545.8" y="180.9" width="6.6" height="6.6" fill="#0000ff"/>
<rect x="547.5" y="179.6" width="6.6" height="6.6" fill="#0000ff"/>
<rect x="549.3" y="178.5" width="6.6" height="6.6" fill="#0000ff"/>
<path d="M552.6 181.8l1.6 -1.2l1.6 -1.1l1.6 -1l1.5 -1l1.5 -1l1.5 -0.9l1.4 -0.9l1.3 -0.9l1.4 -0.8l1.3 -0.9l1.3 -0.8l1.3 -0.7l1.2 -0.8l1.2 -0.8l1.2 -0.7l1.2 -0.8l1.1 -0.7l1.2 -0.7l1.1 -0.6l1.1 -0.7l1 -0.6l1.1 -0.6l1 -0.5l1.1 -0.6l1 -0.5l1 -0.4l1 -0.5l0.9 -0.4l1 -0.4l0.9 -0.4l1 -0.3l1.8 -0.7l1.8 -0.6l1.8 -0.6l1.7 -0.5l1.7 -0.4l1.6 -0.5l1.7 -0.4l1.6 -0.4l1.5 -0.4l1.6 -0.4l1.5 -0.3l1.5 -0.3l1.5 -0.1l1.5 -0.1l1.4 0.1l1.4 0.2l1.4 0.2l1.4 0.3l1.4 0.3l1.3 0.3l1.4 0.3l1.3 0.4l1.3 0.4l1.3 0.4l1.3 0.4l1.3 0.4l1.3 0.4l1.2 0.5l1.3 0.4l1.2 0.5l1.2 0.5l1.2 0.4l1.2 0.5l1.2 0.5l1.2 0.5l1.2 0.5l1.2 0.5l1.2 0.5l1.1 0.5l1.2 0.5l1.1 0.5l1.2 0.4l1.1 0.5l1.1 0.5l1.2 0.5l1.1 0.5l1.1 0.5l1.1 0.5l1.1 0.5l1.1 0.4l1.1 0.5l1.1 0.5l1.1 0.4l1.1 0.5l1 0.4l1.1 0.5l1.1 0.4l1 0.4l1.1 0.5l1.1 0.4l1 0.4l1 0.4" fill="none" stroke="#0000ff" stroke-width="7.6" stroke-linejoin="round" stroke-linecap="round"/>
<path d="M417.9 209l27.2 -5.1l16.1 -5.5l11.4 -4.9l8.9 -4.5l7.4 -3.9l6.2 -3.6l5.5 -3.2l4.8 -3l4.3 -2.8l4 -2.6l3.6 -2.3l3.4 -2.2l3.1 -2.1l2.9 -1.9l2.8 -1.8l2.6 -1.6l2.5 -1.6l2.3 -1.5l2.3 -1.4l2.1 -1.3l2.1 -1.2l1.9 -1.2l1.9 -1l1.9 -1l1.7 -1l1.8 -0.9l1.6 -0.9l1.6 -0.9l1.6 -0.8l1.5 -0.8l1.5 -0.7l1.5 -0.7l1.4 -0.5l1.3 -0.6l1.4 -0.4l1.3 -0.4l1.3 -0.4l1.3 -0.3l1.2 -0.3l1.2 -0.3l1.2 -0.2l1.2 -0.2l1.1 -0.2l1.2 -0.1l1.1 -0.1l1.1 -0.1l1 0l1.1 0l1 0l1.1 0l1 0l1 0.1l1.9 0.2l1.9 0.2l1.9 0.3l1.8 0.3l1.8 0.3l1.7 0.3l1.7 0.4l1.7 0.3l1.7 0.4l1.6 0.3l1.6 0.3l1.5 0.3l1.6 0.3l1.5 0.4l1.5 0.3l1.4 0.3l1.5 0.4l1.4 0.3l1.4 0.4l1.4 0.4l1.4 0.3l1.4 0.4l1.3 0.3l1.3 0.4l1.4 0.4l1.3 0.4l1.3 0.3l1.3 0.5l1.2 0.4l1.3 0.4l1.2 0.5l1.3 0.4l1.2 0.4l1.2 0.4l1.2 0.4l1.3 0.2l1.1 0.3l1.2 0.3l1.2 0.5l1.2 0.7l1.2 0.6l1.1 0.7l1.2 0.7l1.1 0.7l1.1 0.8l1.2 0.8l1.1 0.8l1.1 0.8l1.1 0.9l1.2 0.8l1.1 0.8l1.1 0.9l1.1 0.8l1.1 0.9l1 0.8l1.1 0.9l1.1 0.8l1.1 0.9l1 0.9l1.1 0.9l1.1 0.8l1 0.9l1.1 0.9l1 0.9l0.5 0.4" fill="none" stroke="#0000ff" stroke-width="2.9" stroke-linejoin="round"/>
<path d="M414.9 206l6 6M414.9 212l6 -6" stroke="#0000ff" stroke-width="1.6"/>
<path d="M442.1 200.9l6 6M442.1 206.9l6 -6" stroke="#0000ff" stroke-width="1.6"/>
<path d="M458.2 195.4l6 6M458.2 201.4l6 -6" stroke="#0000ff" stroke-width="1.6"/>
<path d="M469.6 190.5l6 6M469.6 196.5l6 -6" stroke="#0000ff" stroke-width="1.6"/>
<path d="M478.5 186l6 6M478.5 192l6 -6" stroke="#0000ff" stroke-width="1.6"/>
<path d="M485.9 182.1l6 6M485.9 188.1l6 -6" stroke="#0000ff" stroke-width="1.6"/>
<path d="M492.1 178.5l6 6M492.1 184.5l6 -6" stroke="#0000ff" stroke-width="1.6"/>
<path d="M497.6 175.3l6 6M497.6 181.3l6 -6" stroke="#0000ff" stroke-width="1.6"/>
<path d="M502.4 172.3l6 6M502.4 178.3l6 -6" stroke="#0000ff" stroke-width="1.6"/>
<path d="M506.7 169.5l6 6M506.7 175.5l6 -6" stroke="#0000ff" stroke-width="1.6"/>
<path d="M510.7 166.9l6 6M510.7 172.9l6 -6" stroke="#0000ff" stroke-width="1.6"/>
<path d="M514.3 164.6l6 6M514.3 170.6l6 -6" stroke="#0000ff" stroke-width="1.6"/>
<path d="M517.7 162.4l6 6M517.7 168.4l6 -6" stroke="#0000ff" stroke-width="1.6"/>
<path d="M520.8 160.3l6 6M520.8 166.3l6 -6" stroke="#0000ff" stroke-width="1.6"/>
<path d="M523.7 158.4l6 6M523.7 164.4l6 -6" stroke="#0000ff" stroke-width="1.6"/>
<path d="M526.5 156.6l6 6M526.5 162.6l6 -6" stroke="#0000ff" stroke-width="1.6"/>
<path d="M529.1 155l6 6M529.1 161l6 -6" stroke="#0000ff" stroke-width="1.6"/>
<path d="M531.6 153.4l6 6M531.6 159.4l6 -6" stroke="#0000ff" stroke-width="1.6"/>
<path d="M533.9 151.9l6 6M533.9 157.9l6 -6" stroke="#0000ff" stroke-width="1.6"/>
<path d="M536.2 150.5l6 6M536.2 156.5l6 -6" stroke="#0000ff" stroke-width="1.6"/>
<path d="M538.3 149.2l6 6M538.3 155.2l6 -6" stroke="#0000ff" stroke-width="1.6"/>
<path d="M540.4 148l6 6M540.4 154l6 -6" stroke="#0000ff" stroke-width="1.6"/>
<path d="M542.3 146.8l6 6M542.3 152.8l6 -6" stroke="#0000ff" stroke-width="1.6"/>
<path d="M544.2 145.8l6 6M544.2 151.8l6 -6" stroke="#0000ff" stroke-width="1.6"/>
<path d="M546.1 144.8l6 6M546.1 150.8l6 -6" stroke="#0000ff" stroke-width="1.6"/>
<path d="M547.8 143.8l6 6M547.8 149.8l6 -6" stroke="#0000ff" stroke-width="1.6"/>
<path d="M549.6 142.9l6 6M549.6 148.9l6 -6" stroke="#0000ff" stroke-width="1.6"/>
<path d="M551.2 142l6 6M551.2 148l6 -6" stroke="#0000ff" stroke-width="1.6"/>
<path d="M552.8 141.1l6 6M552.8 147.1l6 -6" stroke="#0000ff" stroke-width="1.6"/>
<path d="M554.4 140.3l6 6M554.4 146.3l6 -6" stroke="#0000ff" stroke-width="1.6"/>
<path d="M555.9 139.5l6 6M555.9 145.5l6 -6" stroke="#0000ff" stroke-width="1.6"/>
<path d="M557.4 138.8l6 6M557.4 144.8l6 -6" stroke="#0000ff" stroke-width="1.6"/>
<path d="M558.9 138.1l6 6M558.9 144.1l6 -6" stroke="#0000ff" stroke-width="1.6"/>
<path d="M560.3 137.6l6 6M560.3 143.6l6 -6" stroke="#0000ff" stroke-width="1.6"/>
<path d="M561.6 137l6 6M561.6 143l6 -6" stroke="#0000ff" stroke-width="1.6"/>
<path d="M563 136.6l6 6M563 142.6l6 -6" stroke="#0000ff" stroke-width="1.6"/>
<path d="M564.3 136.2l6 6M564.3 142.2l6 -6" stroke="#0000ff" stroke-width="1.6"/>
<path d="M565.6 135.8l6 6M565.6 141.8l6 -6" stroke="#0000ff" stroke-width="1.6"/>
<path d="M566.9 135.5l6 6M566.9 141.5l6 -6" stroke="#0000ff" stroke-width="1.6"/>
<path d="M568.1 135.2l6 6M568.1 141.2l6 -6" stroke="#0000ff" stroke-width="1.6"/>
<path d="M569.3 134.9l6 6M569.3 140.9l6 -6" stroke="#0000ff" stroke-width="1.6"/>
<path d="M570.5 134.7l6 6M570.5 140.7l6 -6" stroke="#0000ff" stroke-width="1.6"/>
<path d="M571.7 134.5l6 6M571.7 140.5l6 -6" stroke="#0000ff" stroke-width="1.6"/>
<path d="M572.8 134.3l6 6M572.8 140.3l6 -6" stroke="#0000ff" stroke-width="1.6"/>
<path d="M574 134.2l6 6M574 140.2l6 -6" stroke="#0000ff" stroke-width="1.6"/>
<path d="M575.1 134.1l6 6M575.1 140.1l6 -6" stroke="#0000ff" stroke-width="1.6"/>
<path d="M576.2 134l6 6M576.2 140l6 -6" stroke="#0000ff" stroke-width="1.6"/>
<path d="M577.2 134l6 6M577.2 140l6 -6" stroke="#0000ff" stroke-width="1.6"/>
<path d="M578.3 134l6 6M578.3 140l6 -6" stroke="#0000ff" stroke-width="1.6"/>
<path d="M579.3 134l6 6M579.3 140l6 -6" stroke="#0000ff" stroke-width="1.6"/>
<path d="M580.4 134l6 6M580.4 140l6 -6" stroke="#0000ff" stroke-width="1.6"/>
<path d="M581.4 134l6 6M581.4 140l6 -6" stroke="#0000ff" stroke-width="1.6"/>
<path d="M582.4 134.1l6 6M582.4 140.1l6 -6" stroke="#0000ff" stroke-width="1.6"/>
<path d="M583.4 134.2l6 6M583.4 140.2l6 -6" stroke="#0000ff" stroke-width="1.6"/>
<path d="M584.3 134.3l6 6M584.3 140.3l6 -6" stroke="#0000ff" stroke-width="1.6"/>
<path d="M585.3 134.4l6 6M585.3 140.4l6 -6" stroke="#0000ff" stroke-width="1.6"/>
<path d="M586.2 134.5l6 6M586.2 140.5l6 -6" stroke="#0000ff" stroke-width="1.6"/>
<path d="M587.2 134.6l6 6M587.2 140.6l6 -6" stroke="#0000ff" stroke-width="1.6"/>
<path d="M588.1 134.8l6 6M588.1 140.8l6 -6" stroke="#0000ff" stroke-width="1.6"/>
<path d="M589 134.9l6 6M589 140.9l6 -6" stroke="#0000ff" stroke-width="1.6"/>
<path d="M589.9 135.1l6 6M589.9 141.1l6 -6" stroke="#0000ff" stroke-width="1.6"/>
<path d="M590.8 135.2l6 6M590.8 141.2l6 -6" stroke="#0000ff" stroke-width="1.6"/>
<path d="M591.7 135.4l6 6M591.7 141.4l6 -6" stroke="#0000ff" stroke-width="1.6"/>
<path d="M592.6 135.5l6 6M592.6 141.5l6 -6" stroke="#0000ff" stroke-width="1.6"/>
<path d="M593.4 135.7l6 6M593.4 141.7l6 -6" stroke="#0000ff" stroke-width="1.6"/>
<path d="M594.3 135.9l6 6M594.3 141.9l6 -6" stroke="#0000ff" stroke-width="1.6"/>
<path d="M595.1 136.1l6 6M595.1 142.1l6 -6" stroke="#0000ff" stroke-width="1.6"/>
<path d="M596 136.2l6 6M596 142.2l6 -6" stroke="#0000ff" stroke-width="1.6"/>
<path d="M596.8 136.4l6 6M596.8 142.4l6 -6" stroke="#0000ff" stroke-width="1.6"/>
<path d="M597.6 136.6l6 6M597.6 142.6l6 -6" stroke="#0000ff" stroke-width="1.6"/>
<path d="M598.5 136.8l6 6M598.5 142.8l6 -6" stroke="#0000ff" stroke-width="1.6"/>
<path d="M599.3 136.9l6 6M599.3 142.9l6 -6" stroke="#0000ff" stroke-width="1.6"/>
<path d="M600.1 137.1l6 6M600.1 143.1l6 -6" stroke="#0000ff" stroke-width="1.6"/>
<path d="M603.1 140.1l1.6 0.3l1.5 0.3l1.6 0.3l1.5 0.4l1.5 0.3l1.4 0.3l1.5 0.4l1.4 0.3l1.4 0.4l1.4 0.4l1.4 0.3l1.4 0.4l1.3 0.3l1.3 0.4l1.4 0.4l1.3 0.4l1.3 0.3l1.3 0.5l1.2 0.4l1.3 0.4l1.2 0.5l1.3 0.4l1.2 0.4l1.2 0.4l1.2 0.4l1.3 0.2l1.1 0.3l1.2 0.3l1.2 0.5l1.2 0.7l1.2 0.6l1.1 0.7l1.2 0.7l1.1 0.7l1.1 0.8l1.2 0.8l1.1 0.8l1.1 0.8l1.1 0.9l1.2 0.8l1.1 0.8l1.1 0.9l1.1 0.8l1.1 0.9l1 0.8l1.1 0.9l1.1 0.8l1.1 0.9l1 0.9l1.1 0.9l1.1 0.8l1 0.9l1.1 0.9l1 0.9l0.5 0.4" fill="none" stroke="#0000ff" stroke-width="7.0" stroke-linejoin="round" stroke-linecap="round"/>
<path d="M417.9 201.8l27.2 -12.9l16.1 -15l11.4 -14.7l8.9 -14l7.4 -13.3l6.2 -12.7l5.5 -12l4.8 -11l4.3 -9.8l4 -8.5l3.6 -7.2l3.4 -6.2l3.1 -5.2l2.9 -4.5l2.8 -3.6l2.6 -3.1l2.5 -2.4l2.3 -2l2.3 -1.5l2.1 -1l2.1 -0.7l1.9 -0.4l1.9 0l1.9 0.3l1.7 0.4l1.8 0.7l1.6 0.8l1.6 1l1.6 1.1l1.5 1.2l1.5 1.3l1.5 1.3l1.4 1.5l1.3 1.4l1.4 1.5l1.3 1.6l1.3 1.5l1.3 1.6l1.2 1.6l1.2 1.6l1.2 1.6l1.2 1.7l1.1 1.6l1.2 1.6l1.1 1.5l1.1 1.6l1 1.6l1.1 1.5l1 1.5l1.1 1.5l1 1.5l1 1.4l1 1.4l0.9 1.4l1 1.4l0.9 1.3l1 1.3l0.9 1.2l0.9 1.2l0.9 1.2l0.9 1.2l0.9 1.1l0.9 1.1l0.8 1l0.9 1l0.8 1l0.9 1l0.8 0.9l0.8 0.8l0.9 0.8l0.8 0.8l0.8 0.8l0.8 0.7l0.8 0.7l0.7 0.7l0.8 0.6l1.6 1.3l1.5 1.1l1.5 1.1l1.4 1.1l1.5 1l1.4 1l1.4 0.9l1.4 1l1.4 0.9l1.4 1l1.3 0.9l1.3 1l1.4 0.9l1.3 1l1.3 1l1.3 1.1l1.2 1.1l1.3 1.1l1.2 1.1l1.3 1.1l1.2 1.2l1.2 1.2l1.2 1.2l1.3 1.2l1.1 1.3l1.2 1.2l1.2 1.3l1.2 1.4l1.2 1.3l1.1 1.4l1.2 1.4l1.1 1.4l1.1 1.4l1.2 1.4l1.1 1.5l1.1 1.5l1.1 1.5l1.2 1.5l1.1 1.4l1.1 1.5l1.1 1.5l1.1 1.4l1 1.3l1.1 1.4l1.1 1.3l1.1 1.2l1 1.2l1.1 1.1l1.1 1.1l1 0.9l1.1 0.9l1 0.8l0.5 0.4" fill="none" stroke="#008000" stroke-width="2.9" stroke-linejoin="round"/>
<circle cx="417.9" cy="201.8" r="3.6" fill="#008000"/>
<circle cx="445.1" cy="188.9" r="3.6" fill="#008000"/>
<circle cx="461.2" cy="173.9" r="3.6" fill="#008000"/>
<circle cx="472.6" cy="159.2" r="3.6" fill="#008000"/>
<circle cx="481.5" cy="145.2" r="3.6" fill="#008000"/>
<circle cx="488.9" cy="131.9" r="3.6" fill="#008000"/>
<circle cx="495.1" cy="119.2" r="3.6" fill="#008000"/>
<circle cx="500.6" cy="107.2" r="3.6" fill="#008000"/>
<circle cx="505.4" cy="96.2" r="3.6" fill="#008000"/>
<circle cx="509.7" cy="86.4" r="3.6" fill="#008000"/>
<circle cx="513.7" cy="77.9" r="3.6" fill="#008000"/>
<circle cx="517.3" cy="70.7" r="3.6" fill="#008000"/>
<circle cx="520.7" cy="64.5" r="3.6" fill="#008000"/>
<circle cx="523.8" cy="59.3" r="3.6" fill="#008000"/>
<circle cx="526.7" cy="54.8" r="3.6" fill="#008000"/>
<circle cx="529.5" cy="51.2" r="3.6" fill="#008000"/>
<circle cx="532.1" cy="48.1" r="3.6" fill="#008000"/>
<circle cx="534.6" cy="45.7" r="3.6" fill="#008000"/>
<circle cx="536.9" cy="43.7" r="3.6" fill="#008000"/>
<circle cx="539.2" cy="42.2" r="3.6" fill="#008000"/>
<circle cx="541.3" cy="41.2" r="3.6" fill="#008000"/>
<circle cx="543.4" cy="40.5" r="3.6" fill="#008000"/>
<circle cx="545.3" cy="40.1" r="3.6" fill="#008000"/>
<circle cx="547.2" cy="40.1" r="3.6" fill="#008000"/>
<circle cx="549.1" cy="40.4" r="3.6" fill="#008000"/>
<circle cx="550.8" cy="40.8" r="3.6" fill="#008000"/>
<circle cx="552.6" cy="41.5" r="3.6" fill="#008000"/>
<path d="M552.6 41.5l1.6 0.8l1.6 1l1.6 1.1l1.5 1.2l1.5 1.3l1.5 1.3l1.4 1.5l1.3 1.4l1.4 1.5l1.3 1.6l1.3 1.5l1.3 1.6l1.2 1.6l1.2 1.6l1.2 1.6l1.2 1.7l1.1 1.6l1.2 1.6l1.1 1.5l1.1 1.6l1 1.6l1.1 1.5l1 1.5l1.1 1.5l1 1.5l1 1.4l1 1.4l0.9 1.4l1 1.4l0.9 1.3l1 1.3l0.9 1.2l0.9 1.2l0.9 1.2l0.9 1.2l0.9 1.1l0.9 1.1l0.8 1l0.9 1l0.8 1l0.9 1l0.8 0.9l0.8 0.8l0.9 0.8l0.8 0.8l0.8 0.8l0.8 0.7l0.8 0.7l0.7 0.7l0.8 0.6l1.6 1.3l1.5 1.1l1.5 1.1l1.4 1.1l1.5 1l1.4 1l1.4 0.9l1.4 1l1.4 0.9l1.4 1l1.3 0.9l1.3 1l1.4 0.9l1.3 1l1.3 1l1.3 1.1l1.2 1.1l1.3 1.1l1.2 1.1l1.3 1.1l1.2 1.2l1.2 1.2l1.2 1.2l1.3 1.2l1.1 1.3l1.2 1.2l1.2 1.3l1.2 1.4l1.2 1.3l1.1 1.4l1.2 1.4l1.1 1.4l1.1 1.4l1.2 1.4l1.1 1.5l1.1 1.5l1.1 1.5l1.2 1.5l1.1 1.4l1.1 1.5l1.1 1.5l1.1 1.4l1 1.3l1.1 1.4l1.1 1.3l1.1 1.2l1 1.2l1.1 1.1l1.1 1.1l1 0.9l1.1 0.9l1 0.8l0.5 0.4" fill="none" stroke="#008000" stroke-width="7.8" stroke-linejoin="round" stroke-linecap="round"/>
<path d="M417.9 216.1l27.2 -0.8l16.1 -0.8l11.4 -1.1l8.9 -1.1l7.4 -1.2l6.2 -1.2l5.5 -1.3l4.8 -1.4l4.3 -1.4l4 -1.5l3.6 -1.6l3.4 -1.6l3.1 -1.6l2.9 -1.6l2.8 -1.6l2.6 -1.5l2.5 -1.5l2.3 -1.5l2.3 -1.5l2.1 -1.5l2.1 -1.5l1.9 -1.4l1.9 -1.5l1.9 -1.4l1.7 -1.3l1.8 -1.3l1.6 -1.3l1.6 -1.2l1.6 -1.1l1.5 -1.2l1.5 -1.1l1.5 -1l1.4 -1l1.3 -1l1.4 -0.9l1.3 -0.9l1.3 -0.8l1.3 -0.8l1.2 -0.8l1.2 -0.8l1.2 -0.7l1.2 -0.7l1.1 -0.7l1.2 -0.6l1.1 -0.6l1.1 -0.6l1 -0.6l1.1 -0.5l1 -0.5l1.1 -0.5l1 -0.5l1 -0.4l1 -0.4l0.9 -0.4l1 -0.4l0.9 -0.4l1.9 -0.6l1.8 -0.6l1.8 -0.5l1.7 -0.5l1.7 -0.4l1.7 -0.4l1.7 -0.3l1.6 -0.2l1.6 -0.3l1.5 -0.1l1.6 -0.2l1.5 -0.1l1.5 0l1.4 0l1.5 0.1l1.4 0.1l1.4 0.2l1.4 0.2l1.4 0.2l1.4 0.3l1.3 0.3l1.3 0.3l1.4 0.3l1.3 0.4l1.3 0.3l1.3 0.4l1.2 0.4l1.3 0.4l1.2 0.5l1.3 0.4l1.2 0.4l1.2 0.5l1.2 0.4l1.3 0.5l1.1 0.5l1.2 0.5l1.2 0.5l1.2 0.5l1.2 0.5l1.1 0.5l1.2 0.5l1.1 0.5l1.1 0.5l1.2 0.5l1.1 0.5l1.1 0.5l1.1 0.5l1.2 0.5l1.1 0.5l1.1 0.5l1.1 0.5l1.1 0.5l1 0.5l1.1 0.5l1.1 0.5l1.1 0.5l1 0.4l1.1 0.5l1.1 0.5l1 0.4l1.1 0.4l1 0.5l0.5 0.2" fill="none" stroke="#008000" stroke-width="2.9" stroke-linejoin="round"/>
<rect x="414.6" y="212.8" width="6.6" height="6.6" fill="#008000"/>
<rect x="441.8" y="212" width="6.6" height="6.6" fill="#008000"/>
<rect x="457.9" y="211.2" width="6.6" height="6.6" fill="#008000"/>
<rect x="469.3" y="210.1" width="6.6" height="6.6" fill="#008000"/>
<rect x="478.2" y="209" width="6.6" height="6.6" fill="#008000"/>
<rect x="485.6" y="207.8" width="6.6" height="6.6" fill="#008000"/>
<rect x="491.8" y="206.6" width="6.6" height="6.6" fill="#008000"/>
<rect x="497.3" y="205.3" width="6.6" height="6.6" fill="#008000"/>
<rect x="502.1" y="203.9" width="6.6" height="6.6" fill="#008000"/>
<rect x="506.4" y="202.5" width="6.6" height="6.6" fill="#008000"/>
<rect x="510.4" y="201" width="6.6" height="6.6" fill="#008000"/>
<rect x="514" y="199.4" width="6.6" height="6.6" fill="#008000"/>
<rect x="517.4" y="197.8" width="6.6" height="6.6" fill="#008000"/>
<rect x="520.5" y="196.2" width="6.6" height="6.6" fill="#008000"/>
<rect x="523.4" y="194.6" width="6.6" height="6.6" fill="#008000"/>
<rect x="526.2" y="193" width="6.6" height="6.6" fill="#008000"/>
<rect x="528.8" y="191.5" width="6.6" height="6.6" fill="#008000"/>
<rect x="531.3" y="190" width="6.6" height="6.6" fill="#008000"/>
<rect x="533.6" y="188.5" width="6.6" height="6.6" fill="#008000"/>
<rect x="535.9" y="187" width="6.6" height="6.6" fill="#008000"/>
<rect x="538" y="185.5" width="6.6" height="6.6" fill="#008000"/>
<rect x="540.1" y="184" width="6.6" height="6.6" fill="#008000"/>
<rect x="542" y="182.6" width="6.6" height="6.6" fill="#008000"/>
<rect x="543.9" y="181.1" width="6.6" height="6.6" fill="#008000"/>
<rect x="545.8" y="179.7" width="6.6" height="6.6" fill="#008000"/>
<rect x="547.5" y="178.4" width="6.6" height="6.6" fill="#008000"/>
<rect x="549.3" y="177.1" width="6.6" height="6.6" fill="#008000"/>
<path d="M552.6 180.4l1.6 -1.3l1.6 -1.2l1.6 -1.1l1.5 -1.2l1.5 -1.1l1.5 -1l1.4 -1l1.3 -1l1.4 -0.9l1.3 -0.9l1.3 -0.8l1.3 -0.8l1.2 -0.8l1.2 -0.8l1.2 -0.7l1.2 -0.7l1.1 -0.7l1.2 -0.6l1.1 -0.6l1.1 -0.6l1 -0.6l1.1 -0.5l1 -0.5l1.1 -0.5l1 -0.5l1 -0.4l1 -0.4l0.9 -0.4l1 -0.4l0.9 -0.4l1.9 -0.6l1.8 -0.6l1.8 -0.5l1.7 -0.5l1.7 -0.4l1.7 -0.4l1.7 -0.3l1.6 -0.2l1.6 -0.3l1.5 -0.1l1.6 -0.2l1.5 -0.1l1.5 0l1.4 0l1.5 0.1l1.4 0.1l1.4 0.2l1.4 0.2l1.4 0.2l1.4 0.3l1.3 0.3l1.3 0.3l1.4 0.3l1.3 0.4l1.3 0.3l1.3 0.4l1.2 0.4l1.3 0.4l1.2 0.5l1.3 0.4l1.2 0.4l1.2 0.5l1.2 0.4l1.3 0.5l1.1 0.5l1.2 0.5l1.2 0.5l1.2 0.5l1.2 0.5l1.1 0.5l1.2 0.5l1.1 0.5l1.1 0.5l1.2 0.5l1.1 0.5l1.1 0.5l1.1 0.5l1.2 0.5l1.1 0.5l1.1 0.5l1.1 0.5l1.1 0.5l1 0.5l1.1 0.5l1.1 0.5l1.1 0.5l1 0.4l1.1 0.5l1.1 0.5l1 0.4l1.1 0.4l1 0.5l0.5 0.2" fill="none" stroke="#008000" stroke-width="7.6" stroke-linejoin="round" stroke-linecap="round"/>
<path d="M417.9 207l27.2 -5.6l16.1 -6.2l11.4 -5.5l8.9 -4.7l7.4 -4.1l6.2 -3.6l5.5 -3.3l4.8 -3.1l4.3 -2.9l4 -2.7l3.6 -2.5l3.4 -2.3l3.1 -2.2l2.9 -1.9l2.8 -1.9l2.6 -1.7l2.5 -1.6l2.3 -1.4l2.3 -1.4l2.1 -1.3l2.1 -1.2l1.9 -1.1l1.9 -1.1l1.9 -0.9l1.7 -1l1.8 -0.9l1.6 -1l1.6 -1l1.6 -1l1.5 -0.9l1.5 -0.8l1.5 -0.8l1.4 -0.7l1.3 -0.6l1.4 -0.6l1.3 -0.5l1.3 -0.4l1.3 -0.4l1.2 -0.4l1.2 -0.3l1.2 -0.3l1.2 -0.3l1.1 -0.2l1.2 -0.1l1.1 -0.2l1.1 -0.1l1 0l1.1 0l1 0l1.1 0.1l1 0.2l1 0.1l1 0.2l1.9 0.4l1.9 0.5l1.8 0.6l1.8 0.6l1.8 0.5l1.7 0.6l1.7 0.5l1.6 0.5l1.7 0.6l1.6 0.5l1.5 0.5l1.6 0.6l1.5 0.5l1.5 0.5l1.5 0.5l1.5 0.5l1.4 0.4l1.4 0.4l1.4 0.3l1.4 0.4l1.4 0.4l1.3 0.4l1.4 0.5l1.3 0.5l1.3 0.5l1.3 0.6l1.3 0.5l1.3 0.6l1.3 0.5l1.2 0.6l1.3 0.5l1.2 0.4l1.2 0.5l1.2 0.4l1.2 0.5l1.2 0.5l1.2 0.7l1.2 0.7l1.2 0.7l1.2 0.7l1.1 0.7l1.2 0.8l1.1 0.7l1.2 0.8l1.1 0.8l1.1 0.8l1.2 0.8l1.1 0.8l1.1 0.9l1.1 0.8l1.1 0.8l1.1 0.9l1.1 0.8l1.1 0.9l1.1 0.9l1.1 0.8l1 0.9l1.1 0.9l1.1 0.8l1 0.9l1.1 0.9l1.1 0.9l1 0.9l1 0.8" fill="none" stroke="#008000" stroke-width="2.9" stroke-linejoin="round"/>
<path d="M414.9 204l6 6M414.9 210l6 -6" stroke="#008000" stroke-width="1.6"/>
<path d="M442.1 198.4l6 6M442.1 204.4l6 -6" stroke="#008000" stroke-width="1.6"/>
<path d="M458.2 192.2l6 6M458.2 198.2l6 -6" stroke="#008000" stroke-width="1.6"/>
<path d="M469.6 186.7l6 6M469.6 192.7l6 -6" stroke="#008000" stroke-width="1.6"/>
<path d="M478.5 182l6 6M478.5 188l6 -6" stroke="#008000" stroke-width="1.6"/>
<path d="M485.9 177.9l6 6M485.9 183.9l6 -6" stroke="#008000" stroke-width="1.6"/>
<path d="M492.1 174.3l6 6M492.1 180.3l6 -6" stroke="#008000" stroke-width="1.6"/>
<path d="M497.6 171l6 6M497.6 177l6 -6" stroke="#008000" stroke-width="1.6"/>
<path d="M502.4 167.9l6 6M502.4 173.9l6 -6" stroke="#008000" stroke-width="1.6"/>
<path d="M506.7 165l6 6M506.7 171l6 -6" stroke="#008000" stroke-width="1.6"/>
<path d="M510.7 162.3l6 6M510.7 168.3l6 -6" stroke="#008000" stroke-width="1.6"/>
<path d="M514.3 159.8l6 6M514.3 165.8l6 -6" stroke="#008000" stroke-width="1.6"/>
<path d="M517.7 157.5l6 6M517.7 163.5l6 -6" stroke="#008000" stroke-width="1.6"/>
<path d="M520.8 155.3l6 6M520.8 161.3l6 -6" stroke="#008000" stroke-width="1.6"/>
<path d="M523.7 153.4l6 6M523.7 159.4l6 -6" stroke="#008000" stroke-width="1.6"/>
<path d="M526.5 151.5l6 6M526.5 157.5l6 -6" stroke="#008000" stroke-width="1.6"/>
<path d="M529.1 149.8l6 6M529.1 155.8l6 -6" stroke="#008000" stroke-width="1.6"/>
<path d="M531.6 148.2l6 6M531.6 154.2l6 -6" stroke="#008000" stroke-width="1.6"/>
<path d="M533.9 146.8l6 6M533.9 152.8l6 -6" stroke="#008000" stroke-width="1.6"/>
<path d="M536.2 145.4l6 6M536.2 151.4l6 -6" stroke="#008000" stroke-width="1.6"/>
<path d="M538.3 144.1l6 6M538.3 150.1l6 -6" stroke="#008000" stroke-width="1.6"/>
<path d="M540.4 142.9l6 6M540.4 148.9l6 -6" stroke="#008000" stroke-width="1.6"/>
<path d="M542.3 141.8l6 6M542.3 147.8l6 -6" stroke="#008000" stroke-width="1.6"/>
<path d="M544.2 140.7l6 6M544.2 146.7l6 -6" stroke="#008000" stroke-width="1.6"/>
<path d="M546.1 139.8l6 6M546.1 145.8l6 -6" stroke="#008000" stroke-width="1.6"/>
<path d="M547.8 138.8l6 6M547.8 144.8l6 -6" stroke="#008000" stroke-width="1.6"/>
<path d="M549.6 137.9l6 6M549.6 143.9l6 -6" stroke="#008000" stroke-width="1.6"/>
<path d="M551.2 136.9l6 6M551.2 142.9l6 -6" stroke="#008000" stroke-width="1.6"/>
<path d="M552.8 135.9l6 6M552.8 141.9l6 -6" stroke="#008000" stroke-width="1.6"/>
<path d="M554.4 134.9l6 6M554.4 140.9l6 -6" stroke="#008000" stroke-width="1.6"/>
<path d="M555.9 134l6 6M555.9 140l6 -6" stroke="#008000" stroke-width="1.6"/>
<path d="M557.4 133.2l6 6M557.4 139.2l6 -6" stroke="#008000" stroke-width="1.6"/>
<path d="M558.9 132.4l6 6M558.9 138.4l6 -6" stroke="#008000" stroke-width="1.6"/>
<path d="M560.3 131.7l6 6M560.3 137.7l6 -6" stroke="#008000" stroke-width="1.6"/>
<path d="M561.6 131.1l6 6M561.6 137.1l6 -6" stroke="#008000" stroke-width="1.6"/>
<path d="M563 130.5l6 6M563 136.5l6 -6" stroke="#008000" stroke-width="1.6"/>
<path d="M564.3 130l6 6M564.3 136l6 -6" stroke="#008000" stroke-width="1.6"/>
<path d="M565.6 129.6l6 6M565.6 135.6l6 -6" stroke="#008000" stroke-width="1.6"/>
<path d="M566.9 129.2l6 6M566.9 135.2l6 -6" stroke="#008000" stroke-width="1.6"/>
<path d="M568.1 128.8l6 6M568.1 134.8l6 -6" stroke="#008000" stroke-width="1.6"/>
<path d="M569.3 128.5l6 6M569.3 134.5l6 -6" stroke="#008000" stroke-width="1.6"/>
<path d="M570.5 128.2l6 6M570.5 134.2l6 -6" stroke="#008000" stroke-width="1.6"/>
<path d="M571.7 127.9l6 6M571.7 133.9l6 -6" stroke="#008000" stroke-width="1.6"/>
<path d="M572.8 127.7l6 6M572.8 133.7l6 -6" stroke="#008000" stroke-width="1.6"/>
<path d="M574 127.6l6 6M574 133.6l6 -6" stroke="#008000" stroke-width="1.6"/>
<path d="M575.1 127.4l6 6M575.1 133.4l6 -6" stroke="#008000" stroke-width="1.6"/>
<path d="M576.2 127.3l6 6M576.2 133.3l6 -6" stroke="#008000" stroke-width="1.6"/>
<path d="M577.2 127.3l6 6M577.2 133.3l6 -6" stroke="#008000" stroke-width="1.6"/>
<path d="M578.3 127.3l6 6M578.3 133.3l6 -6" stroke="#008000" stroke-width="1.6"/>
<path d="M579.3 127.3l6 6M579.3 133.3l6 -6" stroke="#008000" stroke-width="1.6"/>
<path d="M580.4 127.4l6 6M580.4 133.4l6 -6" stroke="#008000" stroke-width="1.6"/>
<path d="M581.4 127.6l6 6M581.4 133.6l6 -6" stroke="#008000" stroke-width="1.6"/>
<path d="M582.4 127.7l6 6M582.4 133.7l6 -6" stroke="#008000" stroke-width="1.6"/>
<path d="M583.4 127.9l6 6M583.4 133.9l6 -6" stroke="#008000" stroke-width="1.6"/>
<path d="M584.3 128.1l6 6M584.3 134.1l6 -6" stroke="#008000" stroke-width="1.6"/>
<path d="M585.3 128.3l6 6M585.3 134.3l6 -6" stroke="#008000" stroke-width="1.6"/>
<path d="M586.2 128.6l6 6M586.2 134.6l6 -6" stroke="#008000" stroke-width="1.6"/>
<path d="M587.2 128.8l6 6M587.2 134.8l6 -6" stroke="#008000" stroke-width="1.6"/>
<path d="M588.1 129.1l6 6M588.1 135.1l6 -6" stroke="#008000" stroke-width="1.6"/>
<path d="M589 129.4l6 6M589 135.4l6 -6" stroke="#008000" stroke-width="1.6"/>
<path d="M589.9 129.7l6 6M589.9 135.7l6 -6" stroke="#008000" stroke-width="1.6"/>
<path d="M590.8 130l6 6M590.8 136l6 -6" stroke="#008000" stroke-width="1.6"/>
<path d="M591.7 130.3l6 6M591.7 136.3l6 -6" stroke="#008000" stroke-width="1.6"/>
<path d="M592.6 130.5l6 6M592.6 136.5l6 -6" stroke="#008000" stroke-width="1.6"/>
<path d="M593.4 130.8l6 6M593.4 136.8l6 -6" stroke="#008000" stroke-width="1.6"/>
<path d="M594.3 131.1l6 6M594.3 137.1l6 -6" stroke="#008000" stroke-width="1.6"/>
<path d="M595.1 131.4l6 6M595.1 137.4l6 -6" stroke="#008000" stroke-width="1.6"/>
<path d="M596 131.6l6 6M596 137.6l6 -6" stroke="#008000" stroke-width="1.6"/>
<path d="M596.8 131.9l6 6M596.8 137.9l6 -6" stroke="#008000" stroke-width="1.6"/>
<path d="M597.6 132.1l6 6M597.6 138.1l6 -6" stroke="#008000" stroke-width="1.6"/>
<path d="M598.5 132.4l6 6M598.5 138.4l6 -6" stroke="#008000" stroke-width="1.6"/>
<path d="M599.3 132.7l6 6M599.3 138.7l6 -6" stroke="#008000" stroke-width="1.6"/>
<path d="M600.1 132.9l6 6M600.1 138.9l6 -6" stroke="#008000" stroke-width="1.6"/>
<path d="M603.1 135.9l1.6 0.6l1.5 0.5l1.6 0.5l1.5 0.6l1.5 0.5l1.4 0.5l1.5 0.4l1.4 0.4l1.4 0.4l1.4 0.3l1.4 0.4l1.4 0.4l1.3 0.5l1.3 0.4l1.4 0.5l1.3 0.6l1.3 0.5l1.3 0.6l1.2 0.5l1.3 0.6l1.2 0.5l1.3 0.5l1.2 0.5l1.2 0.4l1.2 0.5l1.3 0.5l1.1 0.6l1.2 0.6l1.2 0.7l1.2 0.7l1.2 0.8l1.1 0.7l1.2 0.8l1.1 0.7l1.1 0.8l1.2 0.8l1.1 0.8l1.1 0.8l1.1 0.9l1.2 0.8l1.1 0.8l1.1 0.9l1.1 0.8l1.1 0.9l1 0.8l1.1 0.9l1.1 0.8l1.1 0.9l1 0.9l1.1 0.9l1.1 0.8l1 0.9l1.1 0.9l1 0.9l0.5 0.4" fill="none" stroke="#008000" stroke-width="7.0" stroke-linejoin="round" stroke-linecap="round"/>
<path d="M417.9 200.8l27.2 -16.2l16.1 -17.2l11.4 -16.2l8.9 -15l7.4 -14l6.2 -13.1l5.5 -12.2l4.8 -11.2l4.3 -10l4 -8.8l3.6 -7.6l3.4 -6.6l3.1 -5.5l2.9 -4.6l2.8 -3.7l2.6 -2.9l2.5 -2.1l2.3 -1.6l2.3 -0.9l2.1 -0.5l2.1 -0.2l1.9 0.2l1.9 0.4l1.9 0.7l1.7 0.9l1.8 1l1.6 1.2l1.6 1.2l1.6 1.4l1.5 1.4l1.5 1.4l1.5 1.5l1.4 1.6l1.3 1.5l1.4 1.6l1.3 1.6l1.3 1.5l1.3 1.6l1.2 1.5l1.2 1.6l1.2 1.5l1.2 1.5l1.1 1.5l1.2 1.5l1.1 1.4l1.1 1.5l1 1.4l1.1 1.4l1 1.4l1.1 1.4l1 1.3l1 1.4l1 1.3l0.9 1.3l1 1.3l0.9 1.2l1 1.3l0.9 1.2l0.9 1.2l0.9 1.2l0.9 1.2l0.9 1.1l0.9 1.2l0.8 1.1l0.9 1.1l0.8 1.1l0.9 1.1l0.8 1l0.8 1.1l0.9 1l0.8 1l0.8 1l0.8 0.9l0.8 1l0.7 0.9l0.8 1l0.8 0.9l0.8 0.8l0.7 0.9l0.8 0.9l0.7 0.8l0.8 0.8l0.7 0.8l0.7 0.8l0.8 0.8l0.7 0.7l0.7 0.8l0.7 0.7l0.7 0.7l1.4 1.4l1.4 1.3l1.4 1.2l1.3 1.2l1.4 1.2l1.3 1l1.3 1l1.3 1l1.3 0.9l1.3 0.9l1.3 0.8l1.2 0.9l1.3 0.9l1.2 0.9l1.2 1l1.2 1l1.2 1.1l1.2 1.1l1.2 1.3l1.2 1.3l1.2 1.4l1.2 1.5l1.1 1.5l1.2 1.6l1.1 1.6l1.2 1.6l1.1 1.7l1.1 1.6l1.2 1.6l1.1 1.7l1.1 1.6l1.1 1.5l1.1 1.6l1.1 1.5l1.1 1.5l1.1 1.4l1.1 1.4l1.1 1.3l1 1.3l1.1 1.2l1.1 1.1l1 1l1.1 1l1.1 0.9l1 0.8l1 0.7" fill="none" stroke="#9400d3" stroke-width="2.9" stroke-linejoin="round"/>
<circle cx="417.9" cy="200.8" r="3.6" fill="#9400d3"/>
<circle cx="445.1" cy="184.6" r="3.6" fill="#9400d3"/>
<circle cx="461.2" cy="167.4" r="3.6" fill="#9400d3"/>
<circle cx="472.6" cy="151.2" r="3.6" fill="#9400d3"/>
<circle cx="481.5" cy="136.2" r="3.6" fill="#9400d3"/>
<circle cx="488.9" cy="122.2" r="3.6" fill="#9400d3"/>
<circle cx="495.1" cy="109.1" r="3.6" fill="#9400d3"/>
<circle cx="500.6" cy="96.9" r="3.6" fill="#9400d3"/>
<circle cx="505.4" cy="85.7" r="3.6" fill="#9400d3"/>
<circle cx="509.7" cy="75.7" r="3.6" fill="#9400d3"/>
<circle cx="513.7" cy="66.9" r="3.6" fill="#9400d3"/>
<circle cx="517.3" cy="59.3" r="3.6" fill="#9400d3"/>
<circle cx="520.7" cy="52.7" r="3.6" fill="#9400d3"/>
<circle cx="523.8" cy="47.2" r="3.6" fill="#9400d3"/>
<circle cx="526.7" cy="42.6" r="3.6" fill="#9400d3"/>
<circle cx="529.5" cy="38.9" r="3.6" fill="#9400d3"/>
<circle cx="532.1" cy="36" r="3.6" fill="#9400d3"/>
<circle cx="534.6" cy="33.9" r="3.6" fill="#9400d3"/>
<circle cx="536.9" cy="32.3" r="3.6" fill="#9400d3"/>
<circle cx="539.2" cy="31.4" r="3.6" fill="#9400d3"/>
<circle cx="541.3" cy="30.9" r="3.6" fill="#9400d3"/>
<circle cx="543.4" cy="30.7" r="3.6" fill="#9400d3"/>
<circle cx="545.3" cy="30.9" r="3.6" fill="#9400d3"/>
<circle cx="547.2" cy="31.3" r="3.6" fill="#9400d3"/>
<circle cx="549.1" cy="32" r="3.6" fill="#9400d3"/>
<circle cx="550.8" cy="32.9" r="3.6" fill="#9400d3"/>
<circle cx="552.6" cy="33.9" r="3.6" fill="#9400d3"/>
<path d="M552.6 33.9l1.6 1.2l1.6 1.2l1.6 1.4l1.5 1.4l1.5 1.4l1.5 1.5l1.4 1.6l1.3 1.5l1.4 1.6l1.3 1.6l1.3 1.5l1.3 1.6l1.2 1.5l1.2 1.6l1.2 1.5l1.2 1.5l1.1 1.5l1.2 1.5l1.1 1.4l1.1 1.5l1 1.4l1.1 1.4l1 1.4l1.1 1.4l1 1.3l1 1.4l1 1.3l0.9 1.3l1 1.3l0.9 1.2l1 1.3l0.9 1.2l0.9 1.2l0.9 1.2l0.9 1.2l0.9 1.1l0.9 1.2l0.8 1.1l0.9 1.1l0.8 1.1l0.9 1.1l0.8 1l0.8 1.1l0.9 1l0.8 1l0.8 1l0.8 0.9l0.8 1l0.7 0.9l0.8 1l0.8 0.9l0.8 0.8l0.7 0.9l0.8 0.9l0.7 0.8l0.8 0.8l0.7 0.8l0.7 0.8l0.8 0.8l0.7 0.7l0.7 0.8l0.7 0.7l0.7 0.7l1.4 1.4l1.4 1.3l1.4 1.2l1.3 1.2l1.4 1.2l1.3 1l1.3 1l1.3 1l1.3 0.9l1.3 0.9l1.3 0.8l1.2 0.9l1.3 0.9l1.2 0.9l1.2 1l1.2 1l1.2 1.1l1.2 1.1l1.2 1.3l1.2 1.3l1.2 1.4l1.2 1.5l1.1 1.5l1.2 1.6l1.1 1.6l1.2 1.6l1.1 1.7l1.1 1.6l1.2 1.6l1.1 1.7l1.1 1.6l1.1 1.5l1.1 1.6l1.1 1.5l1.1 1.5l1.1 1.4l1.1 1.4l1.1 1.3l1 1.3l1.1 1.2l1.1 1.1l1 1l1.1 1l1.1 0.9l1 0.8l1 0.7" fill="none" stroke="#9400d3" stroke-width="7.8" stroke-linejoin="round" stroke-linecap="round"/>
<path d="M417.9 216.1l27.2 -1l16.1 -0.9l11.4 -1.1l8.9 -1.4l7.4 -1.5l6.2 -1.5l5.5 -1.7l4.8 -1.5l4.3 -1.6l4 -1.6l3.6 -1.6l3.4 -1.6l3.1 -1.6l2.9 -1.5l2.8 -1.6l2.6 -1.7l2.5 -1.5l2.3 -1.6l2.3 -1.6l2.1 -1.7l2.1 -1.6l1.9 -1.6l1.9 -1.6l1.9 -1.5l1.7 -1.5l1.8 -1.5l1.6 -1.4l1.6 -1.4l1.6 -1.3l1.5 -1.3l1.5 -1.3l1.5 -1.2l1.4 -1.1l1.3 -1.1l1.4 -1l1.3 -0.9l1.3 -0.9l1.3 -0.8l1.2 -0.7l1.2 -0.7l1.2 -0.7l1.2 -0.6l1.1 -0.6l1.2 -0.6l1.1 -0.5l1.1 -0.5l1 -0.5l1.1 -0.4l1 -0.4l1.1 -0.4l1 -0.4l1 -0.3l1 -0.4l0.9 -0.3l1 -0.2l1.9 -0.5l1.8 -0.5l1.8 -0.3l1.8 -0.4l1.7 -0.2l1.7 -0.2l1.6 -0.2l1.7 -0.1l1.6 0l1.5 -0.1l1.6 0l1.5 0.1l1.5 0.1l1.5 0.1l1.5 0.1l1.4 0.2l1.4 0.2l1.4 0.2l1.4 0.2l1.4 0.3l1.3 0.3l1.4 0.3l1.3 0.4l1.3 0.3l1.3 0.4l1.3 0.4l1.3 0.4l1.3 0.4l1.2 0.5l1.3 0.4l1.2 0.5l1.2 0.4l1.2 0.5l1.2 0.5l1.2 0.5l1.2 0.5l1.2 0.4l1.2 0.5l1.2 0.6l1.1 0.5l1.2 0.5l1.1 0.5l1.2 0.5l1.1 0.5l1.1 0.6l1.2 0.5l1.1 0.5l1.1 0.5l1.1 0.5l1.1 0.5l1.1 0.6l1.1 0.5l1.1 0.5l1.1 0.5l1.1 0.5l1 0.5l1.1 0.5l1.1 0.5l1 0.4l1.1 0.5l1.1 0.5l1 0.4l1 0.4" fill="none" stroke="#9400d3" stroke-width="2.9" stroke-linejoin="round"/>
<rect x="414.6" y="212.8" width="6.6" height="6.6" fill="#9400d3"/>
<rect x="441.8" y="211.8" width="6.6" height="6.6" fill="#9400d3"/>
<rect x="457.9" y="210.9" width="6.6" height="6.6" fill="#9400d3"/>
<rect x="469.3" y="209.8" width="6.6" height="6.6" fill="#9400d3"/>
<rect x="478.2" y="208.4" width="6.6" height="6.6" fill="#9400d3"/>
<rect x="485.6" y="206.9" width="6.6" height="6.6" fill="#9400d3"/>
<rect x="491.8" y="205.4" width="6.6" height="6.6" fill="#9400d3"/>
<rect x="497.3" y="203.7" width="6.6" height="6.6" fill="#9400d3"/>
<rect x="502.1" y="202.2" width="6.6" height="6.6" fill="#9400d3"/>
<rect x="506.4" y="200.6" width="6.6" height="6.6" fill="#9400d3"/>
<rect x="510.4" y="199" width="6.6" height="6.6" fill="#9400d3"/>
<rect x="514" y="197.4" width="6.6" height="6.6" fill="#9400d3"/>
<rect x="517.4" y="195.8" width="6.6" height="6.6" fill="#9400d3"/>
<rect x="520.5" y="194.2" width="6.6" height="6.6" fill="#9400d3"/>
<rect x="523.4" y="192.7" width="6.6" height="6.6" fill="#9400d3"/>
<rect x="526.2" y="191.1" width="6.6" height="6.6" fill="#9400d3"/>
<rect x="528.8" y="189.4" width="6.6" height="6.6" fill="#9400d3"/>
<rect x="531.3" y="187.9" width="6.6" height="6.6" fill="#9400d3"/>
<rect x="533.6" y="186.3" width="6.6" height="6.6" fill="#9400d3"/>
<rect x="535.9" y="184.7" width="6.6" height="6.6" fill="#9400d3"/>
<rect x="538" y="183" width="6.6" height="6.6" fill="#9400d3"/>
<rect x="540.1" y="181.4" width="6.6" height="6.6" fill="#9400d3"/>
<rect x="542" y="179.8" width="6.6" height="6.6" fill="#9400d3"/>
<rect x="543.9" y="178.2" width="6.6" height="6.6" fill="#9400d3"/>
<rect x="545.8" y="176.7" width="6.6" height="6.6" fill="#9400d3"/>
<rect x="547.5" y="175.2" width="6.6" height="6.6" fill="#9400d3"/>
<rect x="549.3" y="173.7" width="6.6" height="6.6" fill="#9400d3"/>
<path d="M552.6 177l1.6 -1.4l1.6 -1.4l1.6 -1.3l1.5 -1.3l1.5 -1.3l1.5 -1.2l1.4 -1.1l1.3 -1.1l1.4 -1l1.3 -0.9l1.3 -0.9l1.3 -0.8l1.2 -0.7l1.2 -0.7l1.2 -0.7l1.2 -0.6l1.1 -0.6l1.2 -0.6l1.1 -0.5l1.1 -0.5l1 -0.5l1.1 -0.4l1 -0.4l1.1 -0.4l1 -0.4l1 -0.3l1 -0.4l0.9 -0.3l1 -0.2l1.9 -0.5l1.8 -0.5l1.8 -0.3l1.8 -0.4l1.7 -0.2l1.7 -0.2l1.6 -0.2l1.7 -0.1l1.6 0l1.5 -0.1l1.6 0l1.5 0.1l1.5 0.1l1.5 0.1l1.5 0.1l1.4 0.2l1.4 0.2l1.4 0.2l1.4 0.2l1.4 0.3l1.3 0.3l1.4 0.3l1.3 0.4l1.3 0.3l1.3 0.4l1.3 0.4l1.3 0.4l1.3 0.4l1.2 0.5l1.3 0.4l1.2 0.5l1.2 0.4l1.2 0.5l1.2 0.5l1.2 0.5l1.2 0.5l1.2 0.4l1.2 0.5l1.2 0.6l1.1 0.5l1.2 0.5l1.1 0.5l1.2 0.5l1.1 0.5l1.1 0.6l1.2 0.5l1.1 0.5l1.1 0.5l1.1 0.5l1.1 0.5l1.1 0.6l1.1 0.5l1.1 0.5l1.1 0.5l1.1 0.5l1 0.5l1.1 0.5l1.1 0.5l1 0.4l1.1 0.5l1.1 0.5l1 0.4l1 0.4" fill="none" stroke="#9400d3" stroke-width="7.6" stroke-linejoin="round" stroke-linecap="round"/>
<path d="M417.9 206.4l27.2 -6.5l16.1 -6.9l11.4 -5.9l8.9 -5.2l7.4 -4.5l6.2 -4l5.5 -3.6l4.8 -3.3l4.3 -3l4 -2.7l3.6 -2.5l3.4 -2.3l3.1 -2.1l2.9 -2l2.8 -1.8l2.6 -1.6l2.5 -1.6l2.3 -1.4l2.3 -1.4l2.1 -1.2l2.1 -1.2l1.9 -1l1.9 -1l1.9 -0.9l1.7 -0.9l1.8 -0.7l1.6 -0.8l1.6 -0.6l1.6 -0.7l1.5 -0.5l1.5 -0.6l1.5 -0.4l1.4 -0.5l1.3 -0.4l1.4 -0.3l1.3 -0.4l1.3 -0.3l1.3 -0.2l1.2 -0.3l1.2 -0.2l1.2 -0.1l1.2 -0.2l1.1 -0.1l1.2 -0.1l1.1 -0.1l1.1 -0.1l1 0l1.1 0l1 0l1.1 0l1 0l2 0.1l1.9 0.1l1.9 0.2l1.8 0.2l1.8 0.2l1.8 0.3l1.7 0.3l1.7 0.3l1.6 0.4l1.7 0.4l1.6 0.3l1.5 0.5l1.6 0.4l1.5 0.4l1.5 0.5l1.5 0.4l1.5 0.5l1.4 0.5l1.4 0.5l1.4 0.5l1.4 0.6l1.4 0.5l1.3 0.6l1.4 0.5l1.3 0.6l1.3 0.6l1.3 0.6l1.3 0.7l1.3 0.6l1.3 0.7l1.2 0.6l1.3 0.7l1.2 0.7l1.2 0.7l1.2 0.7l1.2 0.7l1.2 0.7l1.2 0.7l1.2 0.8l1.2 0.7l1.2 0.8l1.1 0.8l1.2 0.7l1.1 0.8l1.2 0.8l1.1 0.8l1.1 0.8l1.2 0.8l1.1 0.8l1.1 0.8l1.1 0.9l1.1 0.8l1.1 0.8l1.1 0.9l1.1 0.8l1.1 0.9l1.1 0.8l1 0.9l1.1 0.8l1.1 0.9l1 0.9l1.1 0.8l1.1 0.9l1 0.9l1 0.8" fill="none" stroke="#9400d3" stroke-width="2.9" stroke-linejoin="round"/>
<path d="M414.9 203.4l6 6M414.9 209.4l6 -6" stroke="#9400d3" stroke-width="1.6"/>
<path d="M442.1 196.9l6 6M442.1 202.9l6 -6" stroke="#9400d3" stroke-width="1.6"/>
<path d="M458.2 190l6 6M458.2 196l6 -6" stroke="#9400d3" stroke-width="1.6"/>
<path d="M469.6 184.1l6 6M469.6 190.1l6 -6" stroke="#9400d3" stroke-width="1.6"/>
<path d="M478.5 178.9l6 6M478.5 184.9l6 -6" stroke="#9400d3" stroke-width="1.6"/>
<path d="M485.9 174.4l6 6M485.9 180.4l6 -6" stroke="#9400d3" stroke-width="1.6"/>
<path d="M492.1 170.4l6 6M492.1 176.4l6 -6" stroke="#9400d3" stroke-width="1.6"/>
<path d="M497.6 166.8l6 6M497.6 172.8l6 -6" stroke="#9400d3" stroke-width="1.6"/>
<path d="M502.4 163.5l6 6M502.4 169.5l6 -6" stroke="#9400d3" stroke-width="1.6"/>
<path d="M506.7 160.5l6 6M506.7 166.5l6 -6" stroke="#9400d3" stroke-width="1.6"/>
<path d="M510.7 157.8l6 6M510.7 163.8l6 -6" stroke="#9400d3" stroke-width="1.6"/>
<path d="M514.3 155.3l6 6M514.3 161.3l6 -6" stroke="#9400d3" stroke-width="1.6"/>
<path d="M517.7 153l6 6M517.7 159l6 -6" stroke="#9400d3" stroke-width="1.6"/>
<path d="M520.8 150.9l6 6M520.8 156.9l6 -6" stroke="#9400d3" stroke-width="1.6"/>
<path d="M523.7 148.9l6 6M523.7 154.9l6 -6" stroke="#9400d3" stroke-width="1.6"/>
<path d="M526.5 147.1l6 6M526.5 153.1l6 -6" stroke="#9400d3" stroke-width="1.6"/>
<path d="M529.1 145.5l6 6M529.1 151.5l6 -6" stroke="#9400d3" stroke-width="1.6"/>
<path d="M531.6 143.9l6 6M531.6 149.9l6 -6" stroke="#9400d3" stroke-width="1.6"/>
<path d="M533.9 142.5l6 6M533.9 148.5l6 -6" stroke="#9400d3" stroke-width="1.6"/>
<path d="M536.2 141.1l6 6M536.2 147.1l6 -6" stroke="#9400d3" stroke-width="1.6"/>
<path d="M538.3 139.9l6 6M538.3 145.9l6 -6" stroke="#9400d3" stroke-width="1.6"/>
<path d="M540.4 138.7l6 6M540.4 144.7l6 -6" stroke="#9400d3" stroke-width="1.6"/>
<path d="M542.3 137.7l6 6M542.3 143.7l6 -6" stroke="#9400d3" stroke-width="1.6"/>
<path d="M544.2 136.7l6 6M544.2 142.7l6 -6" stroke="#9400d3" stroke-width="1.6"/>
<path d="M546.1 135.8l6 6M546.1 141.8l6 -6" stroke="#9400d3" stroke-width="1.6"/>
<path d="M547.8 134.9l6 6M547.8 140.9l6 -6" stroke="#9400d3" stroke-width="1.6"/>
<path d="M549.6 134.2l6 6M549.6 140.2l6 -6" stroke="#9400d3" stroke-width="1.6"/>
<path d="M551.2 133.4l6 6M551.2 139.4l6 -6" stroke="#9400d3" stroke-width="1.6"/>
<path d="M552.8 132.8l6 6M552.8 138.8l6 -6" stroke="#9400d3" stroke-width="1.6"/>
<path d="M554.4 132.1l6 6M554.4 138.1l6 -6" stroke="#9400d3" stroke-width="1.6"/>
<path d="M555.9 131.6l6 6M555.9 137.6l6 -6" stroke="#9400d3" stroke-width="1.6"/>
<path d="M557.4 131l6 6M557.4 137l6 -6" stroke="#9400d3" stroke-width="1.6"/>
<path d="M558.9 130.6l6 6M558.9 136.6l6 -6" stroke="#9400d3" stroke-width="1.6"/>
<path d="M560.3 130.1l6 6M560.3 136.1l6 -6" stroke="#9400d3" stroke-width="1.6"/>
<path d="M561.6 129.7l6 6M561.6 135.7l6 -6" stroke="#9400d3" stroke-width="1.6"/>
<path d="M563 129.4l6 6M563 135.4l6 -6" stroke="#9400d3" stroke-width="1.6"/>
<path d="M564.3 129l6 6M564.3 135l6 -6" stroke="#9400d3" stroke-width="1.6"/>
<path d="M565.6 128.7l6 6M565.6 134.7l6 -6" stroke="#9400d3" stroke-width="1.6"/>
<path d="M566.9 128.5l6 6M566.9 134.5l6 -6" stroke="#9400d3" stroke-width="1.6"/>
<path d="M568.1 128.2l6 6M568.1 134.2l6 -6" stroke="#9400d3" stroke-width="1.6"/>
<path d="M569.3 128l6 6M569.3 134l6 -6" stroke="#9400d3" stroke-width="1.6"/>
<path d="M570.5 127.9l6 6M570.5 133.9l6 -6" stroke="#9400d3" stroke-width="1.6"/>
<path d="M571.7 127.7l6 6M571.7 133.7l6 -6" stroke="#9400d3" stroke-width="1.6"/>
<path d="M572.8 127.6l6 6M572.8 133.6l6 -6" stroke="#9400d3" stroke-width="1.6"/>
<path d="M574 127.5l6 6M574 133.5l6 -6" stroke="#9400d3" stroke-width="1.6"/>
<path d="M575.1 127.4l6 6M575.1 133.4l6 -6" stroke="#9400d3" stroke-width="1.6"/>
<path d="M576.2 127.3l6 6M576.2 133.3l6 -6" stroke="#9400d3" stroke-width="1.6"/>
<path d="M577.2 127.3l6 6M577.2 133.3l6 -6" stroke="#9400d3" stroke-width="1.6"/>
<path d="M578.3 127.3l6 6M578.3 133.3l6 -6" stroke="#9400d3" stroke-width="1.6"/>
<path d="M579.3 127.3l6 6M579.3 133.3l6 -6" stroke="#9400d3" stroke-width="1.6"/>
<path d="M580.4 127.3l6 6M580.4 133.3l6 -6" stroke="#9400d3" stroke-width="1.6"/>
<path d="M581.4 127.3l6 6M581.4 133.3l6 -6" stroke="#9400d3" stroke-width="1.6"/>
<path d="M582.4 127.3l6 6M582.4 133.3l6 -6" stroke="#9400d3" stroke-width="1.6"/>
<path d="M583.4 127.4l6 6M583.4 133.4l6 -6" stroke="#9400d3" stroke-width="1.6"/>
<path d="M584.3 127.4l6 6M584.3 133.4l6 -6" stroke="#9400d3" stroke-width="1.6"/>
<path d="M585.3 127.5l6 6M585.3 133.5l6 -6" stroke="#9400d3" stroke-width="1.6"/>
<path d="M586.2 127.6l6 6M586.2 133.6l6 -6" stroke="#9400d3" stroke-width="1.6"/>
<path d="M587.2 127.7l6 6M587.2 133.7l6 -6" stroke="#9400d3" stroke-width="1.6"/>
<path d="M588.1 127.8l6 6M588.1 133.8l6 -6" stroke="#9400d3" stroke-width="1.6"/>
<path d="M589 127.9l6 6M589 133.9l6 -6" stroke="#9400d3" stroke-width="1.6"/>
<path d="M589.9 128l6 6M589.9 134l6 -6" stroke="#9400d3" stroke-width="1.6"/>
<path d="M590.8 128.1l6 6M590.8 134.1l6 -6" stroke="#9400d3" stroke-width="1.6"/>
<path d="M591.7 128.3l6 6M591.7 134.3l6 -6" stroke="#9400d3" stroke-width="1.6"/>
<path d="M592.6 128.4l6 6M592.6 134.4l6 -6" stroke="#9400d3" stroke-width="1.6"/>
<path d="M593.4 128.6l6 6M593.4 134.6l6 -6" stroke="#9400d3" stroke-width="1.6"/>
<path d="M594.3 128.7l6 6M594.3 134.7l6 -6" stroke="#9400d3" stroke-width="1.6"/>
<path d="M595.1 128.9l6 6M595.1 134.9l6 -6" stroke="#9400d3" stroke-width="1.6"/>
<path d="M596 129l6 6M596 135l6 -6" stroke="#9400d3" stroke-width="1.6"/>
<path d="M596.8 129.2l6 6M596.8 135.2l6 -6" stroke="#9400d3" stroke-width="1.6"/>
<path d="M597.6 129.4l6 6M597.6 135.4l6 -6" stroke="#9400d3" stroke-width="1.6"/>
<path d="M598.5 129.6l6 6M598.5 135.6l6 -6" stroke="#9400d3" stroke-width="1.6"/>
<path d="M599.3 129.8l6 6M599.3 135.8l6 -6" stroke="#9400d3" stroke-width="1.6"/>
<path d="M600.1 130l6 6M600.1 136l6 -6" stroke="#9400d3" stroke-width="1.6"/>
<path d="M603.1 133l1.6 0.3l1.5 0.5l1.6 0.4l1.5 0.4l1.5 0.5l1.4 0.5l1.5 0.4l1.4 0.5l1.4 0.6l1.4 0.5l1.4 0.5l1.4 0.6l1.3 0.6l1.3 0.5l1.4 0.6l1.3 0.6l1.3 0.7l1.3 0.6l1.2 0.6l1.3 0.7l1.2 0.6l1.3 0.7l1.2 0.7l1.2 0.7l1.2 0.7l1.3 0.7l1.1 0.8l1.2 0.7l1.2 0.8l1.2 0.7l1.2 0.8l1.1 0.7l1.2 0.8l1.1 0.8l1.1 0.8l1.2 0.8l1.1 0.8l1.1 0.8l1.1 0.8l1.2 0.8l1.1 0.9l1.1 0.8l1.1 0.8l1.1 0.9l1 0.8l1.1 0.9l1.1 0.8l1.1 0.9l1 0.9l1.1 0.8l1.1 0.9l1 0.9l1.1 0.9l1 0.8l0.5 0.4" fill="none" stroke="#9400d3" stroke-width="7.0" stroke-linejoin="round" stroke-linecap="round"/>
<path d="M417.9 201.6l27.2 -16.5l16.1 -17.8l11.4 -16.3l8.9 -14.8l7.4 -13.6l6.2 -12.8l5.5 -12.3l4.8 -11.7l4.3 -10.1l4 -8.3l3.6 -6.9l3.4 -5.7l3.1 -4.8l2.9 -3.9l2.8 -3.1l2.6 -2.4l2.5 -1.8l2.3 -1.2l2.3 -0.7l2.1 -0.3l2.1 0.1l1.9 0.3l1.9 0.6l1.9 0.8l1.7 1l1.8 1.1l1.6 1.3l1.6 1.3l1.6 1.4l1.5 1.5l1.5 1.6l1.5 1.5l1.4 1.6l1.3 1.7l1.4 1.6l1.3 1.7l1.3 1.6l1.3 1.7l1.2 1.6l1.2 1.6l1.2 1.6l1.2 1.6l1.1 1.6l1.2 1.5l1.1 1.5l1.1 1.5l1 1.4l1.1 1.5l1 1.3l1.1 1.4l1 1.3l1 1.2l1 1.3l0.9 1.1l1 1.2l0.9 1.1l1 1.1l0.9 1.1l0.9 1l0.9 1l0.9 1l0.9 0.9l0.9 0.9l0.8 0.9l0.9 0.9l0.8 0.9l0.9 0.8l0.8 0.8l0.8 0.8l0.9 0.8l0.8 0.7l0.8 0.8l0.8 0.7l0.8 0.7l0.7 0.6l0.8 0.7l0.8 0.7l1.5 1.2l1.5 1.2l1.5 1.2l1.5 1.1l1.4 1l1.4 1l1.4 1l1.4 0.9l1.4 0.9l1.3 1l1.4 0.9l1.3 0.9l1.3 0.9l1.3 1l1.3 1l1.3 1.1l1.3 1.1l1.2 1.1l1.3 1.2l1.2 1.2l1.2 1.3l1.2 1.3l1.2 1.3l1.2 1.4l1.2 1.4l1.2 1.4l1.2 1.4l1.2 1.5l1.1 1.5l1.2 1.5l1.1 1.5l1.2 1.6l1.1 1.5l1.1 1.6l1.2 1.5l1.1 1.5l1.1 1.6l1.1 1.5l1.1 1.4l1.1 1.5l1.1 1.4l1.1 1.4l1.1 1.3l1.1 1.3l1 1.3l1.1 1.2l1.1 1.1l1 1.1l1.1 1l1.1 1l1 0.9l1 0.8" fill="none" stroke="#000" stroke-width="3.2" stroke-linejoin="round" stroke-linecap="square"/>
<path d="M417.9 216.6l27.2 -0.8l16.1 -0.8l11.4 -1.1l8.9 -1.5l7.4 -1.5l6.2 -1.7l5.5 -1.7l4.8 -1.7l4.3 -1.8l4 -1.8l3.6 -1.8l3.4 -1.9l3.1 -1.8l2.9 -1.8l2.8 -1.7l2.6 -1.8l2.5 -1.7l2.3 -1.7l2.3 -1.6l2.1 -1.7l2.1 -1.6l1.9 -1.6l1.9 -1.6l1.9 -1.6l1.7 -1.5l1.8 -1.4l1.6 -1.5l1.6 -1.4l1.6 -1.3l1.5 -1.3l1.5 -1.3l1.5 -1.2l1.4 -1.1l1.3 -1.1l1.4 -1l1.3 -0.9l1.3 -0.9l1.3 -0.8l1.2 -0.8l1.2 -0.7l1.2 -0.7l1.2 -0.6l1.1 -0.6l1.2 -0.6l1.1 -0.5l1.1 -0.5l1 -0.5l1.1 -0.5l1 -0.4l1.1 -0.4l1 -0.3l1 -0.4l1 -0.3l0.9 -0.3l1 -0.3l1.9 -0.5l1.8 -0.5l1.8 -0.3l1.8 -0.3l1.7 -0.3l1.7 -0.2l1.6 -0.2l1.7 -0.1l1.6 0l1.5 0l1.6 0l1.5 0l1.5 0.1l1.5 0.2l1.5 0.1l1.4 0.2l1.4 0.2l1.4 0.3l1.4 0.2l1.4 0.3l1.3 0.3l1.4 0.4l1.3 0.4l1.3 0.3l1.3 0.4l1.3 0.5l1.3 0.4l1.3 0.4l1.2 0.5l1.3 0.5l1.2 0.5l1.2 0.4l1.2 0.5l1.2 0.6l1.2 0.5l1.2 0.5l1.2 0.5l1.2 0.6l1.2 0.5l1.1 0.5l1.2 0.6l1.1 0.5l1.2 0.6l1.1 0.5l1.1 0.6l1.2 0.5l1.1 0.6l1.1 0.5l1.1 0.6l1.1 0.5l1.1 0.5l1.1 0.6l1.1 0.5l1.1 0.5l1.1 0.6l1 0.5l1.1 0.5l1.1 0.5l1 0.5l1.1 0.5l1.1 0.5l1 0.5l1 0.4" fill="none" stroke="#000" stroke-width="3.2" stroke-linejoin="round" stroke-linecap="square"/>
<path d="M417.9 206.4l27.2 -6.5l16.1 -6.9l11.4 -5.9l8.9 -5.2l7.4 -4.5l6.2 -4l5.5 -3.6l4.8 -3.3l4.3 -3l4 -2.7l3.6 -2.5l3.4 -2.3l3.1 -2.1l2.9 -2l2.8 -1.8l2.6 -1.6l2.5 -1.6l2.3 -1.4l2.3 -1.4l2.1 -1.2l2.1 -1.2l1.9 -1l1.9 -1l1.9 -1l1.7 -0.8l1.8 -0.8l1.6 -0.8l1.6 -0.6l1.6 -0.7l1.5 -0.6l1.5 -0.5l1.5 -0.5l1.4 -0.5l1.3 -0.4l1.4 -0.4l1.3 -0.3l1.3 -0.3l1.3 -0.3l1.2 -0.2l1.2 -0.2l1.2 -0.2l1.2 -0.2l1.1 -0.1l1.2 -0.1l1.1 -0.1l1.1 -0.1l1 0l1.1 0l1 0l1.1 0l1 0l2 0.1l1.9 0.1l1.9 0.2l1.8 0.2l1.8 0.2l1.8 0.3l1.7 0.3l1.7 0.3l1.6 0.4l1.7 0.4l1.6 0.3l1.5 0.5l1.6 0.4l1.5 0.4l1.5 0.5l1.5 0.4l1.5 0.5l1.4 0.5l1.4 0.5l1.4 0.5l1.4 0.6l1.4 0.5l1.3 0.6l1.4 0.5l1.3 0.6l1.3 0.6l1.3 0.6l1.3 0.7l1.3 0.6l1.3 0.7l1.2 0.6l1.3 0.7l1.2 0.7l1.2 0.7l1.2 0.7l1.2 0.7l1.2 0.8l1.2 0.7l1.2 0.7l1.2 0.8l1.2 0.8l1.1 0.7l1.2 0.8l1.1 0.8l1.2 0.8l1.1 0.8l1.1 0.8l1.2 0.8l1.1 0.8l1.1 0.9l1.1 0.8l1.1 0.8l1.1 0.9l1.1 0.8l1.1 0.9l1.1 0.9l1.1 0.8l1 0.9l1.1 0.9l1.1 0.8l1 0.9l1.1 0.9l1.1 0.9l1 0.9l1 0.8" fill="none" stroke="#000" stroke-width="3.2" stroke-linejoin="round" stroke-linecap="square"/>
</g>
<g clip-path="url(#cd)">
<path d="M417.9 499.5l27.2 -10.7l16.1 -13l11.4 -12.3l8.9 -11.2l7.4 -10.2l6.2 -9.5l5.5 -8.8l4.8 -8.2l4.3 -7.4l4 -6.9l3.6 -6.3l3.4 -5.7l3.1 -5.4l2.9 -4.7l2.8 -3.9l2.6 -3l2.5 -2.3l2.3 -1.9l2.3 -1.6l2.1 -1.4l2.1 -1.1l1.9 -0.9l1.9 -0.7l1.9 -0.4l1.7 -0.2l1.8 0l1.6 0.2l1.6 0.4l1.6 0.5l1.5 0.7l1.5 0.7l1.5 0.9l1.4 0.9l1.3 1l1.4 1l1.3 1.1l1.3 1.1l1.3 1.1l1.2 1.1l1.2 1.2l1.2 1.1l1.2 1.1l1.1 1.2l1.2 1.1l1.1 1.1l1.1 1.1l1 1.1l1.1 1.1l1 1l1.1 1.1l1 1l1 1l1 1l0.9 1l1 0.9l0.9 1l1 0.9l0.9 0.9l0.9 0.9l0.9 0.8l0.9 0.9l0.9 0.8l0.9 0.8l0.8 0.8l0.9 0.7l0.8 0.8l0.9 0.7l0.8 0.7l0.8 0.7l0.9 0.6l0.8 0.7l0.8 0.6l0.8 0.6l1.5 1.1l1.6 1.2l1.5 1l1.5 1l1.5 1l1.5 1l1.4 0.9l1.4 0.9l1.4 0.9l1.4 0.9l1.4 0.9l1.3 0.9l1.4 0.8l1.3 0.9l1.3 0.9l1.3 0.8l1.3 0.9l1.3 0.9l1.3 0.9l1.2 1l1.3 0.9l1.2 1l1.2 1l1.2 1l1.2 1.1l1.2 1.1l1.2 1.1l1.2 1.2l1.2 1.1l1.2 1.3l1.1 1.2l1.2 1.3l1.1 1.4l1.2 1.4l1.1 1.4l1.1 1.5l1.2 1.6l1.1 1.5l1.1 1.6l1.1 1.6l1.1 1.5l1.1 1.6l1.1 1.5l1.1 1.5l1.1 1.4l1.1 1.3l1 1.3l1.1 1.2l1.1 1.2l1 1l1.1 0.9l1.1 0.7l1 0.7l1 0.5" fill="none" stroke="#0000ff" stroke-width="2.9" stroke-linejoin="round"/>
<circle cx="417.9" cy="499.5" r="3.6" fill="#0000ff"/>
<circle cx="445.1" cy="488.8" r="3.6" fill="#0000ff"/>
<circle cx="461.2" cy="475.8" r="3.6" fill="#0000ff"/>
<circle cx="472.6" cy="463.5" r="3.6" fill="#0000ff"/>
<circle cx="481.5" cy="452.3" r="3.6" fill="#0000ff"/>
<circle cx="488.9" cy="442.1" r="3.6" fill="#0000ff"/>
<circle cx="495.1" cy="432.6" r="3.6" fill="#0000ff"/>
<circle cx="500.6" cy="423.8" r="3.6" fill="#0000ff"/>
<circle cx="505.4" cy="415.6" r="3.6" fill="#0000ff"/>
<circle cx="509.7" cy="408.2" r="3.6" fill="#0000ff"/>
<circle cx="513.7" cy="401.3" r="3.6" fill="#0000ff"/>
<circle cx="517.3" cy="395" r="3.6" fill="#0000ff"/>
<circle cx="520.7" cy="389.3" r="3.6" fill="#0000ff"/>
<circle cx="523.8" cy="383.9" r="3.6" fill="#0000ff"/>
<circle cx="526.7" cy="379.2" r="3.6" fill="#0000ff"/>
<circle cx="529.5" cy="375.3" r="3.6" fill="#0000ff"/>
<circle cx="532.1" cy="372.3" r="3.6" fill="#0000ff"/>
<circle cx="534.6" cy="370" r="3.6" fill="#0000ff"/>
<circle cx="536.9" cy="368.1" r="3.6" fill="#0000ff"/>
<circle cx="539.2" cy="366.5" r="3.6" fill="#0000ff"/>
<circle cx="541.3" cy="365.1" r="3.6" fill="#0000ff"/>
<circle cx="543.4" cy="364" r="3.6" fill="#0000ff"/>
<circle cx="545.3" cy="363.1" r="3.6" fill="#0000ff"/>
<circle cx="547.2" cy="362.4" r="3.6" fill="#0000ff"/>
<circle cx="549.1" cy="362" r="3.6" fill="#0000ff"/>
<circle cx="550.8" cy="361.8" r="3.6" fill="#0000ff"/>
<circle cx="552.6" cy="361.8" r="3.6" fill="#0000ff"/>
<path d="M552.6 361.8l1.6 0.2l1.6 0.4l1.6 0.5l1.5 0.7l1.5 0.7l1.5 0.9l1.4 0.9l1.3 1l1.4 1l1.3 1.1l1.3 1.1l1.3 1.1l1.2 1.1l1.2 1.2l1.2 1.1l1.2 1.1l1.1 1.2l1.2 1.1l1.1 1.1l1.1 1.1l1 1.1l1.1 1.1l1 1l1.1 1.1l1 1l1 1l1 1l0.9 1l1 0.9l0.9 1l1 0.9l0.9 0.9l0.9 0.9l0.9 0.8l0.9 0.9l0.9 0.8l0.9 0.8l0.8 0.8l0.9 0.7l0.8 0.8l0.9 0.7l0.8 0.7l0.8 0.7l0.9 0.6l0.8 0.7l0.8 0.6l0.8 0.6l1.5 1.1l1.6 1.2l1.5 1l1.5 1l1.5 1l1.5 1l1.4 0.9l1.4 0.9l1.4 0.9l1.4 0.9l1.4 0.9l1.3 0.9l1.4 0.8l1.3 0.9l1.3 0.9l1.3 0.8l1.3 0.9l1.3 0.9l1.3 0.9l1.2 1l1.3 0.9l1.2 1l1.2 1l1.2 1l1.2 1.1l1.2 1.1l1.2 1.1l1.2 1.2l1.2 1.1l1.2 1.3l1.1 1.2l1.2 1.3l1.1 1.4l1.2 1.4l1.1 1.4l1.1 1.5l1.2 1.6l1.1 1.5l1.1 1.6l1.1 1.6l1.1 1.5l1.1 1.6l1.1 1.5l1.1 1.5l1.1 1.4l1.1 1.3l1 1.3l1.1 1.2l1.1 1.2l1 1l1.1 0.9l1.1 0.7l1 0.7l1 0.5" fill="none" stroke="#0000ff" stroke-width="7.8" stroke-linejoin="round" stroke-linecap="round"/>
<path d="M417.9 513.8l27.2 -0.8l16.1 -0.8l11.4 -1.1l8.9 -1.1l7.4 -1.2l6.2 -1.2l5.5 -1.3l4.8 -1.4l4.3 -1.4l4 -1.4l3.6 -1.5l3.4 -1.6l3.1 -1.5l2.9 -1.6l2.8 -1.5l2.6 -1.5l2.5 -1.4l2.3 -1.5l2.3 -1.4l2.1 -1.4l2.1 -1.4l1.9 -1.4l1.9 -1.4l1.9 -1.3l1.7 -1.3l1.8 -1.1l1.6 -1.2l1.6 -1.1l1.6 -1l1.5 -1l1.5 -1l1.5 -0.9l1.4 -0.9l1.3 -0.9l1.4 -0.8l1.3 -0.9l1.3 -0.8l1.3 -0.7l1.2 -0.8l1.2 -0.8l1.2 -0.7l1.2 -0.8l1.1 -0.7l1.2 -0.7l1.1 -0.6l1.1 -0.7l1 -0.6l1.1 -0.6l1 -0.5l1.1 -0.6l1 -0.5l1 -0.4l1 -0.5l0.9 -0.4l1 -0.4l0.9 -0.4l1 -0.3l1.8 -0.7l1.8 -0.6l1.8 -0.6l1.7 -0.5l1.7 -0.4l1.6 -0.5l1.7 -0.4l1.6 -0.4l1.5 -0.4l1.6 -0.4l1.5 -0.3l1.5 -0.3l1.5 -0.1l1.5 -0.1l1.4 0.1l1.4 0.2l1.4 0.2l1.4 0.3l1.4 0.3l1.3 0.3l1.4 0.3l1.3 0.4l1.3 0.4l1.3 0.4l1.3 0.4l1.3 0.4l1.3 0.4l1.2 0.5l1.3 0.4l1.2 0.5l1.2 0.5l1.2 0.4l1.2 0.5l1.2 0.5l1.2 0.5l1.2 0.5l1.2 0.5l1.2 0.5l1.1 0.5l1.2 0.5l1.1 0.5l1.2 0.4l1.1 0.5l1.1 0.5l1.2 0.5l1.1 0.5l1.1 0.5l1.1 0.5l1.1 0.5l1.1 0.4l1.1 0.5l1.1 0.5l1.1 0.4l1.1 0.5l1 0.4l1.1 0.5l1.1 0.4l1 0.4l1.1 0.5l1.1 0.4l1 0.4l1 0.4" fill="none" stroke="#0000ff" stroke-width="2.9" stroke-linejoin="round"/>
<rect x="414.6" y="510.5" width="6.6" height="6.6" fill="#0000ff"/>
<rect x="441.8" y="509.7" width="6.6" height="6.6" fill="#0000ff"/>
<rect x="457.9" y="508.9" width="6.6" height="6.6" fill="#0000ff"/>
<rect x="469.3" y="507.8" width="6.6" height="6.6" fill="#0000ff"/>
<rect x="478.2" y="506.7" width="6.6" height="6.6" fill="#0000ff"/>
<rect x="485.6" y="505.5" width="6.6" height="6.6" fill="#0000ff"/>
<rect x="491.8" y="504.3" width="6.6" height="6.6" fill="#0000ff"/>
<rect x="497.3" y="503" width="6.6" height="6.6" fill="#0000ff"/>
<rect x="502.1" y="501.6" width="6.6" height="6.6" fill="#0000ff"/>
<rect x="506.4" y="500.2" width="6.6" height="6.6" fill="#0000ff"/>
<rect x="510.4" y="498.8" width="6.6" height="6.6" fill="#0000ff"/>
<rect x="514" y="497.3" width="6.6" height="6.6" fill="#0000ff"/>
<rect x="517.4" y="495.7" width="6.6" height="6.6" fill="#0000ff"/>
<rect x="520.5" y="494.2" width="6.6" height="6.6" fill="#0000ff"/>
<rect x="523.4" y="492.6" width="6.6" height="6.6" fill="#0000ff"/>
<rect x="526.2" y="491.1" width="6.6" height="6.6" fill="#0000ff"/>
<rect x="528.8" y="489.6" width="6.6" height="6.6" fill="#0000ff"/>
<rect x="531.3" y="488.2" width="6.6" height="6.6" fill="#0000ff"/>
<rect x="533.6" y="486.7" width="6.6" height="6.6" fill="#0000ff"/>
<rect x="535.9" y="485.3" width="6.6" height="6.6" fill="#0000ff"/>
<rect x="538" y="483.9" width="6.6" height="6.6" fill="#0000ff"/>
<rect x="540.1" y="482.5" width="6.6" height="6.6" fill="#0000ff"/>
<rect x="542" y="481.1" width="6.6" height="6.6" fill="#0000ff"/>
<rect x="543.9" y="479.7" width="6.6" height="6.6" fill="#0000ff"/>
<rect x="545.8" y="478.4" width="6.6" height="6.6" fill="#0000ff"/>
<rect x="547.5" y="477.1" width="6.6" height="6.6" fill="#0000ff"/>
<rect x="549.3" y="476" width="6.6" height="6.6" fill="#0000ff"/>
<path d="M552.6 479.3l1.6 -1.2l1.6 -1.1l1.6 -1l1.5 -1l1.5 -1l1.5 -0.9l1.4 -0.9l1.3 -0.9l1.4 -0.8l1.3 -0.9l1.3 -0.8l1.3 -0.7l1.2 -0.8l1.2 -0.8l1.2 -0.7l1.2 -0.8l1.1 -0.7l1.2 -0.7l1.1 -0.6l1.1 -0.7l1 -0.6l1.1 -0.6l1 -0.5l1.1 -0.6l1 -0.5l1 -0.4l1 -0.5l0.9 -0.4l1 -0.4l0.9 -0.4l1 -0.3l1.8 -0.7l1.8 -0.6l1.8 -0.6l1.7 -0.5l1.7 -0.4l1.6 -0.5l1.7 -0.4l1.6 -0.4l1.5 -0.4l1.6 -0.4l1.5 -0.3l1.5 -0.3l1.5 -0.1l1.5 -0.1l1.4 0.1l1.4 0.2l1.4 0.2l1.4 0.3l1.4 0.3l1.3 0.3l1.4 0.3l1.3 0.4l1.3 0.4l1.3 0.4l1.3 0.4l1.3 0.4l1.3 0.4l1.2 0.5l1.3 0.4l1.2 0.5l1.2 0.5l1.2 0.4l1.2 0.5l1.2 0.5l1.2 0.5l1.2 0.5l1.2 0.5l1.2 0.5l1.1 0.5l1.2 0.5l1.1 0.5l1.2 0.4l1.1 0.5l1.1 0.5l1.2 0.5l1.1 0.5l1.1 0.5l1.1 0.5l1.1 0.5l1.1 0.4l1.1 0.5l1.1 0.5l1.1 0.4l1.1 0.5l1 0.4l1.1 0.5l1.1 0.4l1 0.4l1.1 0.5l1.1 0.4l1 0.4l1 0.4" fill="none" stroke="#0000ff" stroke-width="7.6" stroke-linejoin="round" stroke-linecap="round"/>
<path d="M417.9 506.5l27.2 -5.1l16.1 -5.5l11.4 -4.9l8.9 -4.5l7.4 -3.9l6.2 -3.6l5.5 -3.2l4.8 -3l4.3 -2.8l4 -2.6l3.6 -2.3l3.4 -2.2l3.1 -2.1l2.9 -1.9l2.8 -1.8l2.6 -1.6l2.5 -1.6l2.3 -1.5l2.3 -1.4l2.1 -1.3l2.1 -1.2l1.9 -1.2l1.9 -1l1.9 -1l1.7 -1l1.8 -0.9l1.6 -0.9l1.6 -0.9l1.6 -0.8l1.5 -0.8l1.5 -0.7l1.5 -0.7l1.4 -0.5l1.3 -0.6l1.4 -0.4l1.3 -0.4l1.3 -0.4l1.3 -0.3l1.2 -0.3l1.2 -0.3l1.2 -0.2l1.2 -0.2l1.1 -0.2l1.2 -0.1l1.1 -0.1l1.1 -0.1l1 0l1.1 0l1 0l1.1 0l1 0l1 0.1l1.9 0.2l1.9 0.2l1.9 0.3l1.8 0.3l1.8 0.3l1.7 0.3l1.7 0.4l1.7 0.3l1.7 0.4l1.6 0.3l1.6 0.3l1.5 0.3l1.6 0.3l1.5 0.4l1.5 0.3l1.4 0.3l1.5 0.4l1.4 0.3l1.4 0.4l1.4 0.4l1.4 0.3l1.4 0.4l1.3 0.3l1.3 0.4l1.4 0.4l1.3 0.4l1.3 0.3l1.3 0.5l1.2 0.4l1.3 0.4l1.2 0.5l1.3 0.4l1.2 0.4l1.2 0.4l1.2 0.4l1.3 0.2l1.1 0.3l1.2 0.3l1.2 0.5l1.2 0.7l1.2 0.6l1.1 0.7l1.2 0.7l1.1 0.7l1.1 0.8l1.2 0.8l1.1 0.8l1.1 0.8l1.1 0.9l1.2 0.8l1.1 0.8l1.1 0.9l1.1 0.8l1.1 0.9l1 0.8l1.1 0.9l1.1 0.8l1.1 0.9l1 0.9l1.1 0.9l1.1 0.8l1 0.9l1.1 0.9l1 0.9l0.5 0.4" fill="none" stroke="#0000ff" stroke-width="2.9" stroke-linejoin="round"/>
<path d="M414.9 503.5l6 6M414.9 509.5l6 -6" stroke="#0000ff" stroke-width="1.6"/>
<path d="M442.1 498.4l6 6M442.1 504.4l6 -6" stroke="#0000ff" stroke-width="1.6"/>
<path d="M458.2 492.9l6 6M458.2 498.9l6 -6" stroke="#0000ff" stroke-width="1.6"/>
<path d="M469.6 488l6 6M469.6 494l6 -6" stroke="#0000ff" stroke-width="1.6"/>
<path d="M478.5 483.5l6 6M478.5 489.5l6 -6" stroke="#0000ff" stroke-width="1.6"/>
<path d="M485.9 479.6l6 6M485.9 485.6l6 -6" stroke="#0000ff" stroke-width="1.6"/>
<path d="M492.1 476l6 6M492.1 482l6 -6" stroke="#0000ff" stroke-width="1.6"/>
<path d="M497.6 472.8l6 6M497.6 478.8l6 -6" stroke="#0000ff" stroke-width="1.6"/>
<path d="M502.4 469.8l6 6M502.4 475.8l6 -6" stroke="#0000ff" stroke-width="1.6"/>
<path d="M506.7 467l6 6M506.7 473l6 -6" stroke="#0000ff" stroke-width="1.6"/>
<path d="M510.7 464.4l6 6M510.7 470.4l6 -6" stroke="#0000ff" stroke-width="1.6"/>
<path d="M514.3 462.1l6 6M514.3 468.1l6 -6" stroke="#0000ff" stroke-width="1.6"/>
<path d="M517.7 459.9l6 6M517.7 465.9l6 -6" stroke="#0000ff" stroke-width="1.6"/>
<path d="M520.8 457.8l6 6M520.8 463.8l6 -6" stroke="#0000ff" stroke-width="1.6"/>
<path d="M523.7 455.9l6 6M523.7 461.9l6 -6" stroke="#0000ff" stroke-width="1.6"/>
<path d="M526.5 454.1l6 6M526.5 460.1l6 -6" stroke="#0000ff" stroke-width="1.6"/>
<path d="M529.1 452.5l6 6M529.1 458.5l6 -6" stroke="#0000ff" stroke-width="1.6"/>
<path d="M531.6 450.9l6 6M531.6 456.9l6 -6" stroke="#0000ff" stroke-width="1.6"/>
<path d="M533.9 449.4l6 6M533.9 455.4l6 -6" stroke="#0000ff" stroke-width="1.6"/>
<path d="M536.2 448l6 6M536.2 454l6 -6" stroke="#0000ff" stroke-width="1.6"/>
<path d="M538.3 446.7l6 6M538.3 452.7l6 -6" stroke="#0000ff" stroke-width="1.6"/>
<path d="M540.4 445.5l6 6M540.4 451.5l6 -6" stroke="#0000ff" stroke-width="1.6"/>
<path d="M542.3 444.3l6 6M542.3 450.3l6 -6" stroke="#0000ff" stroke-width="1.6"/>
<path d="M544.2 443.3l6 6M544.2 449.3l6 -6" stroke="#0000ff" stroke-width="1.6"/>
<path d="M546.1 442.3l6 6M546.1 448.3l6 -6" stroke="#0000ff" stroke-width="1.6"/>
<path d="M547.8 441.3l6 6M547.8 447.3l6 -6" stroke="#0000ff" stroke-width="1.6"/>
<path d="M549.6 440.4l6 6M549.6 446.4l6 -6" stroke="#0000ff" stroke-width="1.6"/>
<path d="M551.2 439.5l6 6M551.2 445.5l6 -6" stroke="#0000ff" stroke-width="1.6"/>
<path d="M552.8 438.6l6 6M552.8 444.6l6 -6" stroke="#0000ff" stroke-width="1.6"/>
<path d="M554.4 437.8l6 6M554.4 443.8l6 -6" stroke="#0000ff" stroke-width="1.6"/>
<path d="M555.9 437l6 6M555.9 443l6 -6" stroke="#0000ff" stroke-width="1.6"/>
<path d="M557.4 436.3l6 6M557.4 442.3l6 -6" stroke="#0000ff" stroke-width="1.6"/>
<path d="M558.9 435.6l6 6M558.9 441.6l6 -6" stroke="#0000ff" stroke-width="1.6"/>
<path d="M560.3 435.1l6 6M560.3 441.1l6 -6" stroke="#0000ff" stroke-width="1.6"/>
<path d="M561.6 434.5l6 6M561.6 440.5l6 -6" stroke="#0000ff" stroke-width="1.6"/>
<path d="M563 434.1l6 6M563 440.1l6 -6" stroke="#0000ff" stroke-width="1.6"/>
<path d="M564.3 433.7l6 6M564.3 439.7l6 -6" stroke="#0000ff" stroke-width="1.6"/>
<path d="M565.6 433.3l6 6M565.6 439.3l6 -6" stroke="#0000ff" stroke-width="1.6"/>
<path d="M566.9 433l6 6M566.9 439l6 -6" stroke="#0000ff" stroke-width="1.6"/>
<path d="M568.1 432.7l6 6M568.1 438.7l6 -6" stroke="#0000ff" stroke-width="1.6"/>
<path d="M569.3 432.4l6 6M569.3 438.4l6 -6" stroke="#0000ff" stroke-width="1.6"/>
<path d="M570.5 432.2l6 6M570.5 438.2l6 -6" stroke="#0000ff" stroke-width="1.6"/>
<path d="M571.7 432l6 6M571.7 438l6 -6" stroke="#0000ff" stroke-width="1.6"/>
<path d="M572.8 431.8l6 6M572.8 437.8l6 -6" stroke="#0000ff" stroke-width="1.6"/>
<path d="M574 431.7l6 6M574 437.7l6 -6" stroke="#0000ff" stroke-width="1.6"/>
<path d="M575.1 431.6l6 6M575.1 437.6l6 -6" stroke="#0000ff" stroke-width="1.6"/>
<path d="M576.2 431.5l6 6M576.2 437.5l6 -6" stroke="#0000ff" stroke-width="1.6"/>
<path d="M577.2 431.5l6 6M577.2 437.5l6 -6" stroke="#0000ff" stroke-width="1.6"/>
<path d="M578.3 431.5l6 6M578.3 437.5l6 -6" stroke="#0000ff" stroke-width="1.6"/>
<path d="M579.3 431.5l6 6M579.3 437.5l6 -6" stroke="#0000ff" stroke-width="1.6"/>
<path d="M580.4 431.5l6 6M580.4 437.5l6 -6" stroke="#0000ff" stroke-width="1.6"/>
<path d="M581.4 431.5l6 6M581.4 437.5l6 -6" stroke="#0000ff" stroke-width="1.6"/>
<path d="M582.4 431.6l6 6M582.4 437.6l6 -6" stroke="#0000ff" stroke-width="1.6"/>
<path d="M583.4 431.7l6 6M583.4 437.7l6 -6" stroke="#0000ff" stroke-width="1.6"/>
<path d="M584.3 431.8l6 6M584.3 437.8l6 -6" stroke="#0000ff" stroke-width="1.6"/>
<path d="M585.3 431.9l6 6M585.3 437.9l6 -6" stroke="#0000ff" stroke-width="1.6"/>
<path d="M586.2 432l6 6M586.2 438l6 -6" stroke="#0000ff" stroke-width="1.6"/>
<path d="M587.2 432.1l6 6M587.2 438.1l6 -6" stroke="#0000ff" stroke-width="1.6"/>
<path d="M588.1 432.3l6 6M588.1 438.3l6 -6" stroke="#0000ff" stroke-width="1.6"/>
<path d="M589 432.4l6 6M589 438.4l6 -6" stroke="#0000ff" stroke-width="1.6"/>
<path d="M589.9 432.6l6 6M589.9 438.6l6 -6" stroke="#0000ff" stroke-width="1.6"/>
<path d="M590.8 432.7l6 6M590.8 438.7l6 -6" stroke="#0000ff" stroke-width="1.6"/>
<path d="M591.7 432.9l6 6M591.7 438.9l6 -6" stroke="#0000ff" stroke-width="1.6"/>
<path d="M592.6 433l6 6M592.6 439l6 -6" stroke="#0000ff" stroke-width="1.6"/>
<path d="M593.4 433.2l6 6M593.4 439.2l6 -6" stroke="#0000ff" stroke-width="1.6"/>
<path d="M594.3 433.4l6 6M594.3 439.4l6 -6" stroke="#0000ff" stroke-width="1.6"/>
<path d="M595.1 433.6l6 6M595.1 439.6l6 -6" stroke="#0000ff" stroke-width="1.6"/>
<path d="M596 433.7l6 6M596 439.7l6 -6" stroke="#0000ff" stroke-width="1.6"/>
<path d="M596.8 433.9l6 6M596.8 439.9l6 -6" stroke="#0000ff" stroke-width="1.6"/>
<path d="M597.6 434.1l6 6M597.6 440.1l6 -6" stroke="#0000ff" stroke-width="1.6"/>
<path d="M598.5 434.3l6 6M598.5 440.3l6 -6" stroke="#0000ff" stroke-width="1.6"/>
<path d="M599.3 434.4l6 6M599.3 440.4l6 -6" stroke="#0000ff" stroke-width="1.6"/>
<path d="M600.1 434.6l6 6M600.1 440.6l6 -6" stroke="#0000ff" stroke-width="1.6"/>
<path d="M603.1 437.6l1.6 0.3l1.5 0.3l1.6 0.3l1.5 0.4l1.5 0.3l1.4 0.3l1.5 0.4l1.4 0.3l1.4 0.4l1.4 0.4l1.4 0.3l1.4 0.4l1.3 0.3l1.3 0.4l1.4 0.4l1.3 0.4l1.3 0.3l1.3 0.5l1.2 0.4l1.3 0.4l1.2 0.5l1.3 0.4l1.2 0.4l1.2 0.4l1.2 0.4l1.3 0.2l1.1 0.3l1.2 0.3l1.2 0.5l1.2 0.7l1.2 0.6l1.1 0.7l1.2 0.7l1.1 0.7l1.1 0.8l1.2 0.8l1.1 0.8l1.1 0.8l1.1 0.9l1.2 0.8l1.1 0.8l1.1 0.9l1.1 0.8l1.1 0.9l1 0.8l1.1 0.9l1.1 0.8l1.1 0.9l1 0.9l1.1 0.9l1.1 0.8l1 0.9l1.1 0.9l1 0.9l0.5 0.4" fill="none" stroke="#0000ff" stroke-width="7.0" stroke-linejoin="round" stroke-linecap="round"/>
<path d="M417.9 499.6l27.2 -16.5l16.1 -17.8l11.4 -16.3l8.9 -14.8l7.4 -13.6l6.2 -12.8l5.5 -12.3l4.8 -11.6l4.3 -10.1l4 -8.3l3.6 -6.8l3.4 -5.7l3.1 -4.7l2.9 -3.8l2.8 -3.1l2.6 -2.3l2.5 -1.8l2.3 -1.2l2.3 -0.7l2.1 -0.3l2.1 0.1l1.9 0.3l1.9 0.6l1.9 0.8l1.7 0.9l1.8 1.1l1.6 1.2l1.6 1.3l1.6 1.4l1.5 1.4l1.5 1.5l1.5 1.5l1.4 1.6l1.3 1.6l1.4 1.6l1.3 1.6l1.3 1.6l1.3 1.6l1.2 1.6l1.2 1.6l1.2 1.6l1.2 1.5l1.1 1.5l1.2 1.5l1.1 1.5l1.1 1.4l1 1.4l1.1 1.4l1 1.3l1.1 1.3l1 1.3l1 1.2l1 1.2l0.9 1.1l1 1.1l0.9 1.1l1 1.1l0.9 1l0.9 1l0.9 0.9l0.9 1l0.9 0.9l0.9 0.9l0.8 0.8l0.9 0.9l0.8 0.8l0.9 0.8l0.8 0.8l0.8 0.8l0.9 0.7l0.8 0.8l0.8 0.7l0.8 0.7l0.8 0.7l0.7 0.7l0.8 0.6l0.8 0.7l1.5 1.2l1.5 1.2l1.5 1.2l1.5 1l1.4 1.1l1.4 1l1.4 0.9l1.4 0.9l1.4 0.9l1.3 0.9l1.4 0.8l1.3 0.8l1.3 0.9l1.3 0.8l1.3 0.8l1.3 0.9l1.3 0.9l1.2 1l1.3 1l1.2 1.2l1.2 1.1l1.2 1.2l1.2 1.3l1.2 1.3l1.2 1.3l1.2 1.4l1.2 1.4l1.2 1.4l1.1 1.5l1.2 1.5l1.1 1.6l1.2 1.7l0.5 0.8l0.6 0.8l0.6 0.9l0.5 0.8l0.6 0.9l0.6 0.8l0.5 0.9l0.6 0.8l0.5 0.8l1.2 1.7l1.1 1.6l1.1 1.5l1.1 1.6l1.1 1.5l1 1.4l1.1 1.5l1.1 1.3l1.1 1.4l1 1.3l1.1 1.2l1.1 1.2l1 1.2l1.1 1l1 1.1l0.5 0.4" fill="none" stroke="#008080" stroke-width="2.9" stroke-linejoin="round"/>
<circle cx="417.9" cy="499.6" r="3.6" fill="#008080"/>
<circle cx="445.1" cy="483.1" r="3.6" fill="#008080"/>
<circle cx="461.2" cy="465.3" r="3.6" fill="#008080"/>
<circle cx="472.6" cy="449" r="3.6" fill="#008080"/>
<circle cx="481.5" cy="434.2" r="3.6" fill="#008080"/>
<circle cx="488.9" cy="420.6" r="3.6" fill="#008080"/>
<circle cx="495.1" cy="407.8" r="3.6" fill="#008080"/>
<circle cx="500.6" cy="395.5" r="3.6" fill="#008080"/>
<circle cx="505.4" cy="383.9" r="3.6" fill="#008080"/>
<circle cx="509.7" cy="373.8" r="3.6" fill="#008080"/>
<circle cx="513.7" cy="365.5" r="3.6" fill="#008080"/>
<circle cx="517.3" cy="358.7" r="3.6" fill="#008080"/>
<circle cx="520.7" cy="353" r="3.6" fill="#008080"/>
<circle cx="523.8" cy="348.3" r="3.6" fill="#008080"/>
<circle cx="526.7" cy="344.5" r="3.6" fill="#008080"/>
<circle cx="529.5" cy="341.4" r="3.6" fill="#008080"/>
<circle cx="532.1" cy="339.1" r="3.6" fill="#008080"/>
<circle cx="534.6" cy="337.3" r="3.6" fill="#008080"/>
<circle cx="536.9" cy="336.1" r="3.6" fill="#008080"/>
<circle cx="539.2" cy="335.4" r="3.6" fill="#008080"/>
<circle cx="541.3" cy="335.1" r="3.6" fill="#008080"/>
<circle cx="543.4" cy="335.2" r="3.6" fill="#008080"/>
<circle cx="545.3" cy="335.5" r="3.6" fill="#008080"/>
<circle cx="547.2" cy="336.1" r="3.6" fill="#008080"/>
<circle cx="549.1" cy="336.9" r="3.6" fill="#008080"/>
<circle cx="550.8" cy="337.8" r="3.6" fill="#008080"/>
<circle cx="552.6" cy="338.9" r="3.6" fill="#008080"/>
<path d="M552.6 338.9l1.6 1.2l1.6 1.3l1.6 1.4l1.5 1.4l1.5 1.5l1.5 1.5l1.4 1.6l1.3 1.6l1.4 1.6l1.3 1.6l1.3 1.6l1.3 1.6l1.2 1.6l1.2 1.6l1.2 1.6l1.2 1.5l1.1 1.5l1.2 1.5l1.1 1.5l1.1 1.4l1 1.4l1.1 1.4l1 1.3l1.1 1.3l1 1.3l1 1.2l1 1.2l0.9 1.1l1 1.1l0.9 1.1l1 1.1l0.9 1l0.9 1l0.9 0.9l0.9 1l0.9 0.9l0.9 0.9l0.8 0.8l0.9 0.9l0.8 0.8l0.9 0.8l0.8 0.8l0.8 0.8l0.9 0.7l0.8 0.8l0.8 0.7l0.8 0.7l0.8 0.7l0.7 0.7l0.8 0.6l0.8 0.7l1.5 1.2l1.5 1.2l1.5 1.2l1.5 1l1.4 1.1l1.4 1l1.4 0.9l1.4 0.9l1.4 0.9l1.3 0.9l1.4 0.8l1.3 0.8l1.3 0.9l1.3 0.8l1.3 0.8l1.3 0.9l1.3 0.9l1.2 1l1.3 1l1.2 1.2l1.2 1.1l1.2 1.2l1.2 1.3l1.2 1.3l1.2 1.3l1.2 1.4l1.2 1.4l1.2 1.4l1.1 1.5l1.2 1.5l1.1 1.6l1.2 1.7l0.5 0.8l0.6 0.8l0.6 0.9l0.5 0.8l0.6 0.9l0.6 0.8l0.5 0.9l0.6 0.8l0.5 0.8l1.2 1.7l1.1 1.6l1.1 1.5l1.1 1.6l1.1 1.5l1 1.4l1.1 1.5l1.1 1.3l1.1 1.4l1 1.3l1.1 1.2l1.1 1.2l1 1.2l1.1 1l1 1.1l0.5 0.4" fill="none" stroke="#008080" stroke-width="7.8" stroke-linejoin="round" stroke-linecap="round"/>
<path d="M417.9 513.6l27.2 -0.9l16.1 -0.9l11.4 -1.3l8.9 -1.6l7.4 -1.7l6.2 -1.8l5.5 -1.9l4.8 -1.8l4.3 -1.9l4 -1.9l3.6 -1.9l3.4 -1.9l3.1 -1.8l2.9 -1.8l2.8 -1.8l2.6 -1.8l2.5 -1.7l2.3 -1.7l2.3 -1.6l2.1 -1.7l2.1 -1.6l1.9 -1.6l1.9 -1.6l1.9 -1.6l1.7 -1.5l1.8 -1.4l1.6 -1.5l1.6 -1.4l1.6 -1.3l1.5 -1.3l1.5 -1.3l1.5 -1.2l1.4 -1.1l1.3 -1.1l1.4 -1l1.3 -0.9l1.3 -0.9l1.3 -0.8l1.2 -0.8l1.2 -0.7l1.2 -0.7l1.2 -0.6l1.1 -0.6l1.2 -0.6l1.1 -0.5l1.1 -0.5l1 -0.5l1.1 -0.5l1 -0.4l1.1 -0.4l1 -0.3l1 -0.4l1 -0.3l0.9 -0.3l1 -0.3l1.9 -0.5l1.8 -0.5l1.8 -0.3l1.8 -0.3l1.7 -0.3l1.7 -0.2l1.6 -0.2l1.7 -0.1l1.6 0l1.5 0l1.6 0l1.5 0l1.5 0.1l1.5 0.2l1.5 0.1l1.4 0.2l1.4 0.2l1.4 0.3l1.4 0.2l1.4 0.3l1.3 0.3l1.4 0.4l1.3 0.4l1.3 0.3l1.3 0.4l1.3 0.5l1.3 0.4l1.3 0.4l1.2 0.5l1.3 0.5l1.2 0.5l1.2 0.4l1.2 0.5l1.2 0.6l1.2 0.5l1.2 0.5l1.2 0.5l1.2 0.6l1.2 0.5l1.1 0.6l1.2 0.6l1.1 0.5l1.2 0.6l1.1 0.6l1.1 0.6l1.2 0.6l1.1 0.6l1.1 0.6l1.1 0.6l1.1 0.6l1.1 0.6l1.1 0.6l1.1 0.6l1.1 0.6l1.1 0.6l1 0.6l1.1 0.5l1.1 0.6l1 0.6l1.1 0.6l1.1 0.5l1 0.6l1 0.5" fill="none" stroke="#008080" stroke-width="2.9" stroke-linejoin="round"/>
<rect x="414.6" y="510.3" width="6.6" height="6.6" fill="#008080"/>
<rect x="441.8" y="509.4" width="6.6" height="6.6" fill="#008080"/>
<rect x="457.9" y="508.5" width="6.6" height="6.6" fill="#008080"/>
<rect x="469.3" y="507.2" width="6.6" height="6.6" fill="#008080"/>
<rect x="478.2" y="505.6" width="6.6" height="6.6" fill="#008080"/>
<rect x="485.6" y="503.9" width="6.6" height="6.6" fill="#008080"/>
<rect x="491.8" y="502.1" width="6.6" height="6.6" fill="#008080"/>
<rect x="497.3" y="500.2" width="6.6" height="6.6" fill="#008080"/>
<rect x="502.1" y="498.4" width="6.6" height="6.6" fill="#008080"/>
<rect x="506.4" y="496.5" width="6.6" height="6.6" fill="#008080"/>
<rect x="510.4" y="494.6" width="6.6" height="6.6" fill="#008080"/>
<rect x="514" y="492.7" width="6.6" height="6.6" fill="#008080"/>
<rect x="517.4" y="490.8" width="6.6" height="6.6" fill="#008080"/>
<rect x="520.5" y="489" width="6.6" height="6.6" fill="#008080"/>
<rect x="523.4" y="487.2" width="6.6" height="6.6" fill="#008080"/>
<rect x="526.2" y="485.4" width="6.6" height="6.6" fill="#008080"/>
<rect x="528.8" y="483.6" width="6.6" height="6.6" fill="#008080"/>
<rect x="531.3" y="481.9" width="6.6" height="6.6" fill="#008080"/>
<rect x="533.6" y="480.2" width="6.6" height="6.6" fill="#008080"/>
<rect x="535.9" y="478.6" width="6.6" height="6.6" fill="#008080"/>
<rect x="538" y="476.9" width="6.6" height="6.6" fill="#008080"/>
<rect x="540.1" y="475.3" width="6.6" height="6.6" fill="#008080"/>
<rect x="542" y="473.7" width="6.6" height="6.6" fill="#008080"/>
<rect x="543.9" y="472.1" width="6.6" height="6.6" fill="#008080"/>
<rect x="545.8" y="470.5" width="6.6" height="6.6" fill="#008080"/>
<rect x="547.5" y="469" width="6.6" height="6.6" fill="#008080"/>
<rect x="549.3" y="467.6" width="6.6" height="6.6" fill="#008080"/>
<path d="M552.6 470.9l1.6 -1.5l1.6 -1.4l1.6 -1.3l1.5 -1.3l1.5 -1.3l1.5 -1.2l1.4 -1.1l1.3 -1.1l1.4 -1l1.3 -0.9l1.3 -0.9l1.3 -0.8l1.2 -0.8l1.2 -0.7l1.2 -0.7l1.2 -0.6l1.1 -0.6l1.2 -0.6l1.1 -0.5l1.1 -0.5l1 -0.5l1.1 -0.5l1 -0.4l1.1 -0.4l1 -0.3l1 -0.4l1 -0.3l0.9 -0.3l1 -0.3l1.9 -0.5l1.8 -0.5l1.8 -0.3l1.8 -0.3l1.7 -0.3l1.7 -0.2l1.6 -0.2l1.7 -0.1l1.6 0l1.5 0l1.6 0l1.5 0l1.5 0.1l1.5 0.2l1.5 0.1l1.4 0.2l1.4 0.2l1.4 0.3l1.4 0.2l1.4 0.3l1.3 0.3l1.4 0.4l1.3 0.4l1.3 0.3l1.3 0.4l1.3 0.5l1.3 0.4l1.3 0.4l1.2 0.5l1.3 0.5l1.2 0.5l1.2 0.4l1.2 0.5l1.2 0.6l1.2 0.5l1.2 0.5l1.2 0.5l1.2 0.6l1.2 0.5l1.1 0.6l1.2 0.6l1.1 0.5l1.2 0.6l1.1 0.6l1.1 0.6l1.2 0.6l1.1 0.6l1.1 0.6l1.1 0.6l1.1 0.6l1.1 0.6l1.1 0.6l1.1 0.6l1.1 0.6l1.1 0.6l1 0.6l1.1 0.5l1.1 0.6l1 0.6l1.1 0.6l1.1 0.5l1 0.6l1 0.5" fill="none" stroke="#008080" stroke-width="7.6" stroke-linejoin="round" stroke-linecap="round"/>
<path d="M417.9 502.9l27.2 -7l16.1 -7.1l11.4 -6.2l8.9 -5.2l7.4 -4.6l6.2 -4l5.5 -3.6l4.8 -3.3l4.3 -3l4 -2.8l3.6 -2.5l3.4 -2.3l3.1 -2.1l2.9 -2l2.8 -1.8l2.6 -1.7l2.5 -1.5l2.3 -1.5l2.3 -1.3l2.1 -1.3l2.1 -1.1l1.9 -1.1l1.9 -1l1.9 -0.9l1.7 -0.9l1.8 -0.8l1.6 -0.8l1.6 -0.6l1.6 -0.7l1.5 -0.6l1.5 -0.5l1.5 -0.5l1.4 -0.5l1.3 -0.4l1.4 -0.4l1.3 -0.3l1.3 -0.3l1.3 -0.3l1.2 -0.2l1.2 -0.2l1.2 -0.2l1.2 -0.2l1.1 -0.1l1.2 -0.1l1.1 -0.1l1.1 -0.1l1 0l1.1 0l1 0l1.1 0l1 0l2 0.1l1.9 0.1l1.9 0.2l1.8 0.2l1.8 0.2l1.8 0.3l1.7 0.3l1.7 0.3l1.6 0.4l1.7 0.4l1.6 0.4l1.5 0.4l1.6 0.4l1.5 0.4l1.5 0.5l1.5 0.4l1.5 0.5l1.4 0.5l1.4 0.6l1.4 0.5l1.4 0.5l1.4 0.6l1.3 0.6l1.4 0.6l1.3 0.6l1.3 0.6l1.3 0.6l1.3 0.6l1.3 0.7l1.3 0.7l1.2 0.6l1.3 0.7l1.2 0.7l1.2 0.7l1.2 0.8l1.2 0.7l1.2 0.7l1.2 0.8l1.2 0.8l1.2 0.7l1.2 0.8l1.1 0.8l1.2 0.8l1.1 0.8l1.2 0.8l1.1 0.9l1.1 0.8l1.2 0.9l1.1 0.8l1.1 0.9l1.1 0.8l1.1 0.9l1.1 0.9l1.1 0.9l1.1 0.9l1.1 0.9l1.1 0.9l1 0.9l1.1 1l1.1 0.9l1 1l1.1 1l1.1 1l1 1l1 0.9" fill="none" stroke="#008080" stroke-width="2.9" stroke-linejoin="round"/>
<path d="M414.9 499.9l6 6M414.9 505.9l6 -6" stroke="#008080" stroke-width="1.6"/>
<path d="M442.1 492.9l6 6M442.1 498.9l6 -6" stroke="#008080" stroke-width="1.6"/>
<path d="M458.2 485.8l6 6M458.2 491.8l6 -6" stroke="#008080" stroke-width="1.6"/>
<path d="M469.6 479.6l6 6M469.6 485.6l6 -6" stroke="#008080" stroke-width="1.6"/>
<path d="M478.5 474.4l6 6M478.5 480.4l6 -6" stroke="#008080" stroke-width="1.6"/>
<path d="M485.9 469.8l6 6M485.9 475.8l6 -6" stroke="#008080" stroke-width="1.6"/>
<path d="M492.1 465.8l6 6M492.1 471.8l6 -6" stroke="#008080" stroke-width="1.6"/>
<path d="M497.6 462.2l6 6M497.6 468.2l6 -6" stroke="#008080" stroke-width="1.6"/>
<path d="M502.4 458.9l6 6M502.4 464.9l6 -6" stroke="#008080" stroke-width="1.6"/>
<path d="M506.7 455.9l6 6M506.7 461.9l6 -6" stroke="#008080" stroke-width="1.6"/>
<path d="M510.7 453.1l6 6M510.7 459.1l6 -6" stroke="#008080" stroke-width="1.6"/>
<path d="M514.3 450.6l6 6M514.3 456.6l6 -6" stroke="#008080" stroke-width="1.6"/>
<path d="M517.7 448.3l6 6M517.7 454.3l6 -6" stroke="#008080" stroke-width="1.6"/>
<path d="M520.8 446.2l6 6M520.8 452.2l6 -6" stroke="#008080" stroke-width="1.6"/>
<path d="M523.7 444.2l6 6M523.7 450.2l6 -6" stroke="#008080" stroke-width="1.6"/>
<path d="M526.5 442.4l6 6M526.5 448.4l6 -6" stroke="#008080" stroke-width="1.6"/>
<path d="M529.1 440.7l6 6M529.1 446.7l6 -6" stroke="#008080" stroke-width="1.6"/>
<path d="M531.6 439.2l6 6M531.6 445.2l6 -6" stroke="#008080" stroke-width="1.6"/>
<path d="M533.9 437.7l6 6M533.9 443.7l6 -6" stroke="#008080" stroke-width="1.6"/>
<path d="M536.2 436.4l6 6M536.2 442.4l6 -6" stroke="#008080" stroke-width="1.6"/>
<path d="M538.3 435.1l6 6M538.3 441.1l6 -6" stroke="#008080" stroke-width="1.6"/>
<path d="M540.4 434l6 6M540.4 440l6 -6" stroke="#008080" stroke-width="1.6"/>
<path d="M542.3 432.9l6 6M542.3 438.9l6 -6" stroke="#008080" stroke-width="1.6"/>
<path d="M544.2 431.9l6 6M544.2 437.9l6 -6" stroke="#008080" stroke-width="1.6"/>
<path d="M546.1 431l6 6M546.1 437l6 -6" stroke="#008080" stroke-width="1.6"/>
<path d="M547.8 430.1l6 6M547.8 436.1l6 -6" stroke="#008080" stroke-width="1.6"/>
<path d="M549.6 429.3l6 6M549.6 435.3l6 -6" stroke="#008080" stroke-width="1.6"/>
<path d="M551.2 428.5l6 6M551.2 434.5l6 -6" stroke="#008080" stroke-width="1.6"/>
<path d="M552.8 427.9l6 6M552.8 433.9l6 -6" stroke="#008080" stroke-width="1.6"/>
<path d="M554.4 427.2l6 6M554.4 433.2l6 -6" stroke="#008080" stroke-width="1.6"/>
<path d="M555.9 426.6l6 6M555.9 432.6l6 -6" stroke="#008080" stroke-width="1.6"/>
<path d="M557.4 426.1l6 6M557.4 432.1l6 -6" stroke="#008080" stroke-width="1.6"/>
<path d="M558.9 425.6l6 6M558.9 431.6l6 -6" stroke="#008080" stroke-width="1.6"/>
<path d="M560.3 425.1l6 6M560.3 431.1l6 -6" stroke="#008080" stroke-width="1.6"/>
<path d="M561.6 424.7l6 6M561.6 430.7l6 -6" stroke="#008080" stroke-width="1.6"/>
<path d="M563 424.3l6 6M563 430.3l6 -6" stroke="#008080" stroke-width="1.6"/>
<path d="M564.3 424l6 6M564.3 430l6 -6" stroke="#008080" stroke-width="1.6"/>
<path d="M565.6 423.7l6 6M565.6 429.7l6 -6" stroke="#008080" stroke-width="1.6"/>
<path d="M566.9 423.4l6 6M566.9 429.4l6 -6" stroke="#008080" stroke-width="1.6"/>
<path d="M568.1 423.2l6 6M568.1 429.2l6 -6" stroke="#008080" stroke-width="1.6"/>
<path d="M569.3 423l6 6M569.3 429l6 -6" stroke="#008080" stroke-width="1.6"/>
<path d="M570.5 422.8l6 6M570.5 428.8l6 -6" stroke="#008080" stroke-width="1.6"/>
<path d="M571.7 422.6l6 6M571.7 428.6l6 -6" stroke="#008080" stroke-width="1.6"/>
<path d="M572.8 422.5l6 6M572.8 428.5l6 -6" stroke="#008080" stroke-width="1.6"/>
<path d="M574 422.4l6 6M574 428.4l6 -6" stroke="#008080" stroke-width="1.6"/>
<path d="M575.1 422.3l6 6M575.1 428.3l6 -6" stroke="#008080" stroke-width="1.6"/>
<path d="M576.2 422.2l6 6M576.2 428.2l6 -6" stroke="#008080" stroke-width="1.6"/>
<path d="M577.2 422.2l6 6M577.2 428.2l6 -6" stroke="#008080" stroke-width="1.6"/>
<path d="M578.3 422.2l6 6M578.3 428.2l6 -6" stroke="#008080" stroke-width="1.6"/>
<path d="M579.3 422.2l6 6M579.3 428.2l6 -6" stroke="#008080" stroke-width="1.6"/>
<path d="M580.4 422.2l6 6M580.4 428.2l6 -6" stroke="#008080" stroke-width="1.6"/>
<path d="M581.4 422.2l6 6M581.4 428.2l6 -6" stroke="#008080" stroke-width="1.6"/>
<path d="M582.4 422.2l6 6M582.4 428.2l6 -6" stroke="#008080" stroke-width="1.6"/>
<path d="M583.4 422.3l6 6M583.4 428.3l6 -6" stroke="#008080" stroke-width="1.6"/>
<path d="M584.3 422.3l6 6M584.3 428.3l6 -6" stroke="#008080" stroke-width="1.6"/>
<path d="M585.3 422.4l6 6M585.3 428.4l6 -6" stroke="#008080" stroke-width="1.6"/>
<path d="M586.2 422.5l6 6M586.2 428.5l6 -6" stroke="#008080" stroke-width="1.6"/>
<path d="M587.2 422.6l6 6M587.2 428.6l6 -6" stroke="#008080" stroke-width="1.6"/>
<path d="M588.1 422.7l6 6M588.1 428.7l6 -6" stroke="#008080" stroke-width="1.6"/>
<path d="M589 422.8l6 6M589 428.8l6 -6" stroke="#008080" stroke-width="1.6"/>
<path d="M589.9 422.9l6 6M589.9 428.9l6 -6" stroke="#008080" stroke-width="1.6"/>
<path d="M590.8 423l6 6M590.8 429l6 -6" stroke="#008080" stroke-width="1.6"/>
<path d="M591.7 423.2l6 6M591.7 429.2l6 -6" stroke="#008080" stroke-width="1.6"/>
<path d="M592.6 423.3l6 6M592.6 429.3l6 -6" stroke="#008080" stroke-width="1.6"/>
<path d="M593.4 423.5l6 6M593.4 429.5l6 -6" stroke="#008080" stroke-width="1.6"/>
<path d="M594.3 423.6l6 6M594.3 429.6l6 -6" stroke="#008080" stroke-width="1.6"/>
<path d="M595.1 423.8l6 6M595.1 429.8l6 -6" stroke="#008080" stroke-width="1.6"/>
<path d="M596 423.9l6 6M596 429.9l6 -6" stroke="#008080" stroke-width="1.6"/>
<path d="M596.8 424.1l6 6M596.8 430.1l6 -6" stroke="#008080" stroke-width="1.6"/>
<path d="M597.6 424.3l6 6M597.6 430.3l6 -6" stroke="#008080" stroke-width="1.6"/>
<path d="M598.5 424.5l6 6M598.5 430.5l6 -6" stroke="#008080" stroke-width="1.6"/>
<path d="M599.3 424.7l6 6M599.3 430.7l6 -6" stroke="#008080" stroke-width="1.6"/>
<path d="M600.1 424.9l6 6M600.1 430.9l6 -6" stroke="#008080" stroke-width="1.6"/>
<path d="M603.1 427.9l1.6 0.4l1.5 0.4l1.6 0.4l1.5 0.4l1.5 0.5l1.4 0.5l1.5 0.5l1.4 0.5l1.4 0.5l1.4 0.6l1.4 0.5l1.4 0.6l1.3 0.6l1.3 0.6l1.4 0.6l1.3 0.6l1.3 0.6l1.3 0.7l1.2 0.6l1.3 0.7l1.2 0.7l1.3 0.7l1.2 0.7l1.2 0.7l1.2 0.7l1.3 0.8l1.1 0.7l1.2 0.8l1.2 0.7l1.2 0.8l1.2 0.8l1.1 0.8l1.2 0.8l1.1 0.8l1.1 0.9l1.2 0.8l1.1 0.8l1.1 0.9l1.1 0.8l1.2 0.9l1.1 0.9l1.1 0.8l1.1 0.9l1.1 0.9l1 0.9l1.1 0.9l1.1 1l1.1 0.9l1 1l1.1 0.9l1.1 1l1 1l1.1 1l1 1l0.5 0.4" fill="none" stroke="#008080" stroke-width="7.0" stroke-linejoin="round" stroke-linecap="round"/>
<path d="M417.9 498.6l27.2 -16.9l16.1 -17.8l11.4 -16.4l8.9 -14.8l7.4 -13.6l6.2 -12.8l5.5 -12.3l4.8 -11.6l4.3 -10.1l4 -8.2l3.6 -6.8l3.4 -5.6l3.1 -4.7l2.9 -3.8l2.8 -3l2.6 -2.3l2.5 -1.7l2.3 -1.2l2.3 -0.6l2.1 -0.2l2.1 0.1l1.9 0.4l1.9 0.6l1.9 0.8l1.7 1.1l1.8 1.1l1.6 1.3l1.6 1.4l1.6 1.4l1.5 1.6l1.5 1.6l1.5 1.6l1.4 1.7l1.3 1.7l1.4 1.7l1.3 1.7l1.3 1.7l1.3 1.7l1.2 1.7l1.2 1.7l1.2 1.7l1.2 1.6l1.1 1.7l1.2 1.6l1.1 1.5l1.1 1.6l1 1.5l1.1 1.4l1 1.4l1.1 1.4l1 1.4l1 1.3l1 1.2l0.9 1.3l1 1.2l0.9 1.1l1 1.2l0.9 1.1l0.9 1l0.9 1.1l0.9 1l0.9 1l0.9 1l0.8 0.9l0.9 0.9l0.8 0.9l0.9 0.9l0.8 0.9l0.8 0.8l0.9 0.9l0.8 0.8l0.8 0.8l0.8 0.8l0.8 0.8l0.7 0.7l0.8 0.8l0.8 0.7l0.8 0.7l0.7 0.7l0.8 0.7l0.7 0.7l0.8 0.7l0.7 0.7l0.7 0.7l1.5 1.3l1.4 1.3l1.4 1.3l1.4 1.1l1.4 1.1l1.4 0.9l1.3 0.9l1.3 0.9l1.4 1l1.3 0.9l1.3 1l1.3 1l1.2 1.1l1.3 1.1l1.2 1.1l1.3 1.1l1.2 1.1l1.2 1.1l1.2 1.2l1.3 1.2l1.1 1.2l1.2 1.3l1.2 1.3l1.2 1.3l1.2 1.3l1.1 1.3l1.2 1.4l1.1 1.4l1.1 1.3l1.2 1.4l1.1 1.4l1.1 1.4l1.1 1.4l1.2 1.4l1.1 1.3l1.1 1.4l1.1 1.3l1.1 1.3l1 1.2l1.1 1.2l1.1 1.2l1.1 1.2l1 1l1.1 1.1l1.1 0.9l1 1l1.1 0.8l1 0.8l0.5 0.3" fill="none" stroke="#ff0000" stroke-width="2.9" stroke-linejoin="round"/>
<circle cx="417.9" cy="498.6" r="3.6" fill="#ff0000"/>
<circle cx="445.1" cy="481.7" r="3.6" fill="#ff0000"/>
<circle cx="461.2" cy="463.9" r="3.6" fill="#ff0000"/>
<circle cx="472.6" cy="447.5" r="3.6" fill="#ff0000"/>
<circle cx="481.5" cy="432.7" r="3.6" fill="#ff0000"/>
<circle cx="488.9" cy="419.1" r="3.6" fill="#ff0000"/>
<circle cx="495.1" cy="406.3" r="3.6" fill="#ff0000"/>
<circle cx="500.6" cy="394" r="3.6" fill="#ff0000"/>
<circle cx="505.4" cy="382.4" r="3.6" fill="#ff0000"/>
<circle cx="509.7" cy="372.3" r="3.6" fill="#ff0000"/>
<circle cx="513.7" cy="364.1" r="3.6" fill="#ff0000"/>
<circle cx="517.3" cy="357.3" r="3.6" fill="#ff0000"/>
<circle cx="520.7" cy="351.7" r="3.6" fill="#ff0000"/>
<circle cx="523.8" cy="347" r="3.6" fill="#ff0000"/>
<circle cx="526.7" cy="343.2" r="3.6" fill="#ff0000"/>
<circle cx="529.5" cy="340.2" r="3.6" fill="#ff0000"/>
<circle cx="532.1" cy="337.9" r="3.6" fill="#ff0000"/>
<circle cx="534.6" cy="336.2" r="3.6" fill="#ff0000"/>
<circle cx="536.9" cy="335" r="3.6" fill="#ff0000"/>
<circle cx="539.2" cy="334.4" r="3.6" fill="#ff0000"/>
<circle cx="541.3" cy="334.2" r="3.6" fill="#ff0000"/>
<circle cx="543.4" cy="334.3" r="3.6" fill="#ff0000"/>
<circle cx="545.3" cy="334.7" r="3.6" fill="#ff0000"/>
<circle cx="547.2" cy="335.3" r="3.6" fill="#ff0000"/>
<circle cx="549.1" cy="336.1" r="3.6" fill="#ff0000"/>
<circle cx="550.8" cy="337.2" r="3.6" fill="#ff0000"/>
<circle cx="552.6" cy="338.3" r="3.6" fill="#ff0000"/>
<path d="M552.6 338.3l1.6 1.3l1.6 1.4l1.6 1.4l1.5 1.6l1.5 1.6l1.5 1.6l1.4 1.7l1.3 1.7l1.4 1.7l1.3 1.7l1.3 1.7l1.3 1.7l1.2 1.7l1.2 1.7l1.2 1.7l1.2 1.6l1.1 1.7l1.2 1.6l1.1 1.5l1.1 1.6l1 1.5l1.1 1.4l1 1.4l1.1 1.4l1 1.4l1 1.3l1 1.2l0.9 1.3l1 1.2l0.9 1.1l1 1.2l0.9 1.1l0.9 1l0.9 1.1l0.9 1l0.9 1l0.9 1l0.8 0.9l0.9 0.9l0.8 0.9l0.9 0.9l0.8 0.9l0.8 0.8l0.9 0.9l0.8 0.8l0.8 0.8l0.8 0.8l0.8 0.8l0.7 0.7l0.8 0.8l0.8 0.7l0.8 0.7l0.7 0.7l0.8 0.7l0.7 0.7l0.8 0.7l0.7 0.7l0.7 0.7l1.5 1.3l1.4 1.3l1.4 1.3l1.4 1.1l1.4 1.1l1.4 0.9l1.3 0.9l1.3 0.9l1.4 1l1.3 0.9l1.3 1l1.3 1l1.2 1.1l1.3 1.1l1.2 1.1l1.3 1.1l1.2 1.1l1.2 1.1l1.2 1.2l1.3 1.2l1.1 1.2l1.2 1.3l1.2 1.3l1.2 1.3l1.2 1.3l1.1 1.3l1.2 1.4l1.1 1.4l1.1 1.3l1.2 1.4l1.1 1.4l1.1 1.4l1.1 1.4l1.2 1.4l1.1 1.3l1.1 1.4l1.1 1.3l1.1 1.3l1 1.2l1.1 1.2l1.1 1.2l1.1 1.2l1 1l1.1 1.1l1.1 0.9l1 1l1.1 0.8l1 0.8l0.5 0.3" fill="none" stroke="#ff0000" stroke-width="7.8" stroke-linejoin="round" stroke-linecap="round"/>
<path d="M417.9 513.6l27.2 -1l16.1 -0.9l11.4 -1.1l8.9 -1.3l7.4 -1.3l6.2 -1.4l5.5 -1.5l4.8 -1.7l4.3 -1.6l4 -1.7l3.6 -1.7l3.4 -1.7l3.1 -1.7l2.9 -1.7l2.8 -1.6l2.6 -1.7l2.5 -1.6l2.3 -1.6l2.3 -1.6l2.1 -1.5l2.1 -1.6l1.9 -1.5l1.9 -1.5l1.9 -1.5l1.7 -1.4l1.8 -1.4l1.6 -1.4l1.6 -1.4l1.6 -1.3l1.5 -1.3l1.5 -1.3l1.5 -1.2l1.4 -1.1l1.3 -1.1l1.4 -1l1.3 -0.9l1.3 -0.9l1.3 -0.8l1.2 -0.8l1.2 -0.7l1.2 -0.7l1.2 -0.6l1.1 -0.6l1.2 -0.6l1.1 -0.5l1.1 -0.5l1 -0.5l1.1 -0.5l1 -0.4l1.1 -0.4l1 -0.3l1 -0.4l1 -0.3l0.9 -0.3l1 -0.3l1.9 -0.5l1.8 -0.5l1.8 -0.3l1.8 -0.3l1.7 -0.3l1.7 -0.2l1.6 -0.2l1.7 -0.1l1.6 0l1.5 0l1.6 0l1.5 0l1.5 0.1l1.5 0.2l1.5 0.1l1.4 0.2l1.4 0.2l1.4 0.3l1.4 0.2l1.4 0.3l1.3 0.3l1.4 0.4l1.3 0.4l1.3 0.3l1.3 0.4l1.3 0.5l1.3 0.4l1.3 0.4l1.2 0.5l1.3 0.5l1.2 0.5l1.2 0.4l1.2 0.5l1.2 0.6l1.2 0.5l1.2 0.5l1.2 0.5l1.2 0.5l1.2 0.6l1.1 0.5l1.2 0.5l1.1 0.5l1.2 0.5l1.1 0.5l1.1 0.5l1.2 0.5l1.1 0.5l1.1 0.5l1.1 0.5l1.1 0.5l1.1 0.5l1.1 0.5l1.1 0.4l1.1 0.5l1.1 0.4l1 0.5l1.1 0.4l1.1 0.5l1 0.4l1.1 0.4l1.1 0.4l1 0.5l1 0.3" fill="none" stroke="#ff0000" stroke-width="2.9" stroke-linejoin="round"/>
<rect x="414.6" y="510.3" width="6.6" height="6.6" fill="#ff0000"/>
<rect x="441.8" y="509.3" width="6.6" height="6.6" fill="#ff0000"/>
<rect x="457.9" y="508.4" width="6.6" height="6.6" fill="#ff0000"/>
<rect x="469.3" y="507.3" width="6.6" height="6.6" fill="#ff0000"/>
<rect x="478.2" y="506" width="6.6" height="6.6" fill="#ff0000"/>
<rect x="485.6" y="504.7" width="6.6" height="6.6" fill="#ff0000"/>
<rect x="491.8" y="503.3" width="6.6" height="6.6" fill="#ff0000"/>
<rect x="497.3" y="501.8" width="6.6" height="6.6" fill="#ff0000"/>
<rect x="502.1" y="500.1" width="6.6" height="6.6" fill="#ff0000"/>
<rect x="506.4" y="498.5" width="6.6" height="6.6" fill="#ff0000"/>
<rect x="510.4" y="496.8" width="6.6" height="6.6" fill="#ff0000"/>
<rect x="514" y="495.1" width="6.6" height="6.6" fill="#ff0000"/>
<rect x="517.4" y="493.4" width="6.6" height="6.6" fill="#ff0000"/>
<rect x="520.5" y="491.7" width="6.6" height="6.6" fill="#ff0000"/>
<rect x="523.4" y="490" width="6.6" height="6.6" fill="#ff0000"/>
<rect x="526.2" y="488.4" width="6.6" height="6.6" fill="#ff0000"/>
<rect x="528.8" y="486.7" width="6.6" height="6.6" fill="#ff0000"/>
<rect x="531.3" y="485.1" width="6.6" height="6.6" fill="#ff0000"/>
<rect x="533.6" y="483.5" width="6.6" height="6.6" fill="#ff0000"/>
<rect x="535.9" y="481.9" width="6.6" height="6.6" fill="#ff0000"/>
<rect x="538" y="480.4" width="6.6" height="6.6" fill="#ff0000"/>
<rect x="540.1" y="478.8" width="6.6" height="6.6" fill="#ff0000"/>
<rect x="542" y="477.3" width="6.6" height="6.6" fill="#ff0000"/>
<rect x="543.9" y="475.8" width="6.6" height="6.6" fill="#ff0000"/>
<rect x="545.8" y="474.3" width="6.6" height="6.6" fill="#ff0000"/>
<rect x="547.5" y="472.9" width="6.6" height="6.6" fill="#ff0000"/>
<rect x="549.3" y="471.5" width="6.6" height="6.6" fill="#ff0000"/>
<path d="M552.6 474.8l1.6 -1.4l1.6 -1.4l1.6 -1.3l1.5 -1.3l1.5 -1.3l1.5 -1.2l1.4 -1.1l1.3 -1.1l1.4 -1l1.3 -0.9l1.3 -0.9l1.3 -0.8l1.2 -0.8l1.2 -0.7l1.2 -0.7l1.2 -0.6l1.1 -0.6l1.2 -0.6l1.1 -0.5l1.1 -0.5l1 -0.5l1.1 -0.5l1 -0.4l1.1 -0.4l1 -0.3l1 -0.4l1 -0.3l0.9 -0.3l1 -0.3l1.9 -0.5l1.8 -0.5l1.8 -0.3l1.8 -0.3l1.7 -0.3l1.7 -0.2l1.6 -0.2l1.7 -0.1l1.6 0l1.5 0l1.6 0l1.5 0l1.5 0.1l1.5 0.2l1.5 0.1l1.4 0.2l1.4 0.2l1.4 0.3l1.4 0.2l1.4 0.3l1.3 0.3l1.4 0.4l1.3 0.4l1.3 0.3l1.3 0.4l1.3 0.5l1.3 0.4l1.3 0.4l1.2 0.5l1.3 0.5l1.2 0.5l1.2 0.4l1.2 0.5l1.2 0.6l1.2 0.5l1.2 0.5l1.2 0.5l1.2 0.5l1.2 0.6l1.1 0.5l1.2 0.5l1.1 0.5l1.2 0.5l1.1 0.5l1.1 0.5l1.2 0.5l1.1 0.5l1.1 0.5l1.1 0.5l1.1 0.5l1.1 0.5l1.1 0.5l1.1 0.4l1.1 0.5l1.1 0.4l1 0.5l1.1 0.4l1.1 0.5l1 0.4l1.1 0.4l1.1 0.4l1 0.5l1 0.3" fill="none" stroke="#ff0000" stroke-width="7.6" stroke-linejoin="round" stroke-linecap="round"/>
<path d="M417.9 505l27.2 -6.1l16.1 -6.6l11.4 -5.8l8.9 -5.1l7.4 -4.5l6.2 -4l5.5 -3.6l4.8 -3.3l4.3 -3l4 -2.7l3.6 -2.5l3.4 -2.3l3.1 -2.1l2.9 -2l2.8 -1.8l2.6 -1.6l2.5 -1.6l2.3 -1.4l2.3 -1.4l2.1 -1.2l2.1 -1.2l1.9 -1l1.9 -1l1.9 -1l1.7 -0.8l1.8 -0.8l1.6 -0.8l1.6 -0.7l1.6 -0.6l1.5 -0.6l1.5 -0.6l1.5 -0.5l1.4 -0.4l1.3 -0.5l1.4 -0.4l1.3 -0.3l1.3 -0.3l1.3 -0.3l1.2 -0.3l1.2 -0.2l1.2 -0.2l1.2 -0.2l1.1 -0.1l1.2 -0.1l1.1 -0.1l1.1 -0.1l1 0l1.1 0l1 0l1.1 0l1 0l1 0.1l1.9 0.1l1.9 0.3l1.9 0.2l1.8 0.3l1.8 0.4l1.7 0.4l1.7 0.4l1.7 0.4l1.7 0.5l1.6 0.5l1.6 0.6l1.5 0.6l1.6 0.6l1.5 0.6l1.5 0.6l1.4 0.7l1.5 0.6l1.4 0.5l1.4 0.6l1.4 0.6l1.4 0.6l1.4 0.7l1.3 0.6l1.3 0.6l1.4 0.6l1.3 0.7l1.3 0.6l1.3 0.7l1.2 0.6l1.3 0.7l1.2 0.6l1.3 0.7l1.2 0.6l1.2 0.6l1.2 0.6l1.3 0.7l1.1 0.6l1.2 0.6l1.2 0.7l1.2 0.6l1.2 0.7l1.1 0.7l1.2 0.7l1.1 0.7l1.1 0.7l1.2 0.7l1.1 0.7l1.1 0.7l1.1 0.7l1.2 0.7l1.1 0.7l1.1 0.7l1.1 0.8l1.1 0.7l1 0.7l1.1 0.8l1.1 0.7l1.1 0.7l1 0.8l1.1 0.7l1.1 0.8l1 0.7l1.1 0.8l1 0.7l0.5 0.4" fill="none" stroke="#ff0000" stroke-width="2.9" stroke-linejoin="round"/>
<path d="M414.9 502l6 6M414.9 508l6 -6" stroke="#ff0000" stroke-width="1.6"/>
<path d="M442.1 495.9l6 6M442.1 501.9l6 -6" stroke="#ff0000" stroke-width="1.6"/>
<path d="M458.2 489.3l6 6M458.2 495.3l6 -6" stroke="#ff0000" stroke-width="1.6"/>
<path d="M469.6 483.5l6 6M469.6 489.5l6 -6" stroke="#ff0000" stroke-width="1.6"/>
<path d="M478.5 478.4l6 6M478.5 484.4l6 -6" stroke="#ff0000" stroke-width="1.6"/>
<path d="M485.9 473.9l6 6M485.9 479.9l6 -6" stroke="#ff0000" stroke-width="1.6"/>
<path d="M492.1 469.9l6 6M492.1 475.9l6 -6" stroke="#ff0000" stroke-width="1.6"/>
<path d="M497.6 466.3l6 6M497.6 472.3l6 -6" stroke="#ff0000" stroke-width="1.6"/>
<path d="M502.4 463l6 6M502.4 469l6 -6" stroke="#ff0000" stroke-width="1.6"/>
<path d="M506.7 460l6 6M506.7 466l6 -6" stroke="#ff0000" stroke-width="1.6"/>
<path d="M510.7 457.3l6 6M510.7 463.3l6 -6" stroke="#ff0000" stroke-width="1.6"/>
<path d="M514.3 454.8l6 6M514.3 460.8l6 -6" stroke="#ff0000" stroke-width="1.6"/>
<path d="M517.7 452.5l6 6M517.7 458.5l6 -6" stroke="#ff0000" stroke-width="1.6"/>
<path d="M520.8 450.4l6 6M520.8 456.4l6 -6" stroke="#ff0000" stroke-width="1.6"/>
<path d="M523.7 448.4l6 6M523.7 454.4l6 -6" stroke="#ff0000" stroke-width="1.6"/>
<path d="M526.5 446.6l6 6M526.5 452.6l6 -6" stroke="#ff0000" stroke-width="1.6"/>
<path d="M529.1 445l6 6M529.1 451l6 -6" stroke="#ff0000" stroke-width="1.6"/>
<path d="M531.6 443.4l6 6M531.6 449.4l6 -6" stroke="#ff0000" stroke-width="1.6"/>
<path d="M533.9 442l6 6M533.9 448l6 -6" stroke="#ff0000" stroke-width="1.6"/>
<path d="M536.2 440.6l6 6M536.2 446.6l6 -6" stroke="#ff0000" stroke-width="1.6"/>
<path d="M538.3 439.4l6 6M538.3 445.4l6 -6" stroke="#ff0000" stroke-width="1.6"/>
<path d="M540.4 438.2l6 6M540.4 444.2l6 -6" stroke="#ff0000" stroke-width="1.6"/>
<path d="M542.3 437.2l6 6M542.3 443.2l6 -6" stroke="#ff0000" stroke-width="1.6"/>
<path d="M544.2 436.2l6 6M544.2 442.2l6 -6" stroke="#ff0000" stroke-width="1.6"/>
<path d="M546.1 435.2l6 6M546.1 441.2l6 -6" stroke="#ff0000" stroke-width="1.6"/>
<path d="M547.8 434.4l6 6M547.8 440.4l6 -6" stroke="#ff0000" stroke-width="1.6"/>
<path d="M549.6 433.6l6 6M549.6 439.6l6 -6" stroke="#ff0000" stroke-width="1.6"/>
<path d="M551.2 432.8l6 6M551.2 438.8l6 -6" stroke="#ff0000" stroke-width="1.6"/>
<path d="M552.8 432.1l6 6M552.8 438.1l6 -6" stroke="#ff0000" stroke-width="1.6"/>
<path d="M554.4 431.5l6 6M554.4 437.5l6 -6" stroke="#ff0000" stroke-width="1.6"/>
<path d="M555.9 430.9l6 6M555.9 436.9l6 -6" stroke="#ff0000" stroke-width="1.6"/>
<path d="M557.4 430.3l6 6M557.4 436.3l6 -6" stroke="#ff0000" stroke-width="1.6"/>
<path d="M558.9 429.8l6 6M558.9 435.8l6 -6" stroke="#ff0000" stroke-width="1.6"/>
<path d="M560.3 429.4l6 6M560.3 435.4l6 -6" stroke="#ff0000" stroke-width="1.6"/>
<path d="M561.6 428.9l6 6M561.6 434.9l6 -6" stroke="#ff0000" stroke-width="1.6"/>
<path d="M563 428.5l6 6M563 434.5l6 -6" stroke="#ff0000" stroke-width="1.6"/>
<path d="M564.3 428.2l6 6M564.3 434.2l6 -6" stroke="#ff0000" stroke-width="1.6"/>
<path d="M565.6 427.9l6 6M565.6 433.9l6 -6" stroke="#ff0000" stroke-width="1.6"/>
<path d="M566.9 427.6l6 6M566.9 433.6l6 -6" stroke="#ff0000" stroke-width="1.6"/>
<path d="M568.1 427.3l6 6M568.1 433.3l6 -6" stroke="#ff0000" stroke-width="1.6"/>
<path d="M569.3 427.1l6 6M569.3 433.1l6 -6" stroke="#ff0000" stroke-width="1.6"/>
<path d="M570.5 426.9l6 6M570.5 432.9l6 -6" stroke="#ff0000" stroke-width="1.6"/>
<path d="M571.7 426.7l6 6M571.7 432.7l6 -6" stroke="#ff0000" stroke-width="1.6"/>
<path d="M572.8 426.6l6 6M572.8 432.6l6 -6" stroke="#ff0000" stroke-width="1.6"/>
<path d="M574 426.5l6 6M574 432.5l6 -6" stroke="#ff0000" stroke-width="1.6"/>
<path d="M575.1 426.4l6 6M575.1 432.4l6 -6" stroke="#ff0000" stroke-width="1.6"/>
<path d="M576.2 426.3l6 6M576.2 432.3l6 -6" stroke="#ff0000" stroke-width="1.6"/>
<path d="M577.2 426.3l6 6M577.2 432.3l6 -6" stroke="#ff0000" stroke-width="1.6"/>
<path d="M578.3 426.3l6 6M578.3 432.3l6 -6" stroke="#ff0000" stroke-width="1.6"/>
<path d="M579.3 426.3l6 6M579.3 432.3l6 -6" stroke="#ff0000" stroke-width="1.6"/>
<path d="M580.4 426.3l6 6M580.4 432.3l6 -6" stroke="#ff0000" stroke-width="1.6"/>
<path d="M581.4 426.3l6 6M581.4 432.3l6 -6" stroke="#ff0000" stroke-width="1.6"/>
<path d="M582.4 426.4l6 6M582.4 432.4l6 -6" stroke="#ff0000" stroke-width="1.6"/>
<path d="M583.4 426.5l6 6M583.4 432.5l6 -6" stroke="#ff0000" stroke-width="1.6"/>
<path d="M584.3 426.5l6 6M584.3 432.5l6 -6" stroke="#ff0000" stroke-width="1.6"/>
<path d="M585.3 426.7l6 6M585.3 432.7l6 -6" stroke="#ff0000" stroke-width="1.6"/>
<path d="M586.2 426.8l6 6M586.2 432.8l6 -6" stroke="#ff0000" stroke-width="1.6"/>
<path d="M587.2 426.9l6 6M587.2 432.9l6 -6" stroke="#ff0000" stroke-width="1.6"/>
<path d="M588.1 427l6 6M588.1 433l6 -6" stroke="#ff0000" stroke-width="1.6"/>
<path d="M589 427.2l6 6M589 433.2l6 -6" stroke="#ff0000" stroke-width="1.6"/>
<path d="M589.9 427.3l6 6M589.9 433.3l6 -6" stroke="#ff0000" stroke-width="1.6"/>
<path d="M590.8 427.5l6 6M590.8 433.5l6 -6" stroke="#ff0000" stroke-width="1.6"/>
<path d="M591.7 427.7l6 6M591.7 433.7l6 -6" stroke="#ff0000" stroke-width="1.6"/>
<path d="M592.6 427.9l6 6M592.6 433.9l6 -6" stroke="#ff0000" stroke-width="1.6"/>
<path d="M593.4 428.1l6 6M593.4 434.1l6 -6" stroke="#ff0000" stroke-width="1.6"/>
<path d="M594.3 428.3l6 6M594.3 434.3l6 -6" stroke="#ff0000" stroke-width="1.6"/>
<path d="M595.1 428.5l6 6M595.1 434.5l6 -6" stroke="#ff0000" stroke-width="1.6"/>
<path d="M596 428.7l6 6M596 434.7l6 -6" stroke="#ff0000" stroke-width="1.6"/>
<path d="M596.8 428.9l6 6M596.8 434.9l6 -6" stroke="#ff0000" stroke-width="1.6"/>
<path d="M597.6 429.1l6 6M597.6 435.1l6 -6" stroke="#ff0000" stroke-width="1.6"/>
<path d="M598.5 429.4l6 6M598.5 435.4l6 -6" stroke="#ff0000" stroke-width="1.6"/>
<path d="M599.3 429.6l6 6M599.3 435.6l6 -6" stroke="#ff0000" stroke-width="1.6"/>
<path d="M600.1 429.9l6 6M600.1 435.9l6 -6" stroke="#ff0000" stroke-width="1.6"/>
<path d="M603.1 432.9l1.6 0.6l1.5 0.6l1.6 0.6l1.5 0.6l1.5 0.6l1.4 0.7l1.5 0.6l1.4 0.5l1.4 0.6l1.4 0.6l1.4 0.6l1.4 0.7l1.3 0.6l1.3 0.6l1.4 0.6l1.3 0.7l1.3 0.6l1.3 0.7l1.2 0.6l1.3 0.7l1.2 0.6l1.3 0.7l1.2 0.6l1.2 0.6l1.2 0.6l1.3 0.7l1.1 0.6l1.2 0.6l1.2 0.7l1.2 0.6l1.2 0.7l1.1 0.7l1.2 0.7l1.1 0.7l1.1 0.7l1.2 0.7l1.1 0.7l1.1 0.7l1.1 0.7l1.2 0.7l1.1 0.7l1.1 0.7l1.1 0.8l1.1 0.7l1 0.7l1.1 0.8l1.1 0.7l1.1 0.7l1 0.8l1.1 0.7l1.1 0.8l1 0.7l1.1 0.8l1 0.7l0.5 0.4" fill="none" stroke="#ff0000" stroke-width="7.0" stroke-linejoin="round" stroke-linecap="round"/>
<path d="M417.9 499.1l27.2 -16.5l16.1 -17.8l11.4 -16.3l8.9 -14.8l7.4 -13.6l6.2 -12.8l5.5 -12.3l4.8 -11.7l4.3 -10.1l4 -8.3l3.6 -6.9l3.4 -5.7l3.1 -4.8l2.9 -3.9l2.8 -3.1l2.6 -2.4l2.5 -1.8l2.3 -1.2l2.3 -0.7l2.1 -0.3l2.1 0.1l1.9 0.3l1.9 0.6l1.9 0.8l1.7 1l1.8 1.1l1.6 1.3l1.6 1.3l1.6 1.4l1.5 1.5l1.5 1.6l1.5 1.5l1.4 1.6l1.3 1.7l1.4 1.6l1.3 1.7l1.3 1.6l1.3 1.7l1.2 1.6l1.2 1.6l1.2 1.6l1.2 1.6l1.1 1.6l1.2 1.5l1.1 1.5l1.1 1.5l1 1.4l1.1 1.5l1 1.3l1.1 1.4l1 1.3l1 1.2l1 1.3l0.9 1.1l1 1.2l0.9 1.1l1 1.1l0.9 1.1l0.9 1l0.9 1l0.9 1l0.9 0.9l0.9 0.9l0.8 0.9l0.9 0.9l0.8 0.9l0.9 0.8l0.8 0.8l0.8 0.8l0.9 0.8l0.8 0.7l0.8 0.8l0.8 0.7l0.8 0.7l0.7 0.6l0.8 0.7l0.8 0.7l1.5 1.2l1.5 1.2l1.5 1.2l1.5 1.1l1.4 1l1.4 1l1.4 1l1.4 0.9l1.4 0.9l1.3 1l1.4 0.9l1.3 0.9l1.3 0.9l1.3 1l1.3 1l1.3 1.1l1.3 1.1l1.2 1.1l1.3 1.2l1.2 1.2l1.2 1.3l1.2 1.3l1.2 1.3l1.2 1.4l1.2 1.4l1.2 1.4l1.2 1.4l1.2 1.5l1.1 1.5l1.2 1.5l1.1 1.5l1.2 1.6l1.1 1.5l1.1 1.6l1.2 1.5l1.1 1.5l1.1 1.6l1.1 1.5l1.1 1.4l1.1 1.5l1.1 1.4l1.1 1.4l1.1 1.3l1.1 1.3l1 1.3l1.1 1.2l1.1 1.1l1 1.1l1.1 1l1.1 1l1 0.9l1 0.8" fill="none" stroke="#000" stroke-width="3.2" stroke-linejoin="round" stroke-linecap="square"/>
<path d="M417.9 514.1l27.2 -0.8l16.1 -0.8l11.4 -1.1l8.9 -1.5l7.4 -1.5l6.2 -1.7l5.5 -1.7l4.8 -1.7l4.3 -1.8l4 -1.8l3.6 -1.8l3.4 -1.9l3.1 -1.8l2.9 -1.8l2.8 -1.7l2.6 -1.8l2.5 -1.7l2.3 -1.7l2.3 -1.6l2.1 -1.7l2.1 -1.6l1.9 -1.6l1.9 -1.6l1.9 -1.6l1.7 -1.5l1.8 -1.4l1.6 -1.5l1.6 -1.4l1.6 -1.3l1.5 -1.3l1.5 -1.3l1.5 -1.2l1.4 -1.1l1.3 -1.1l1.4 -1l1.3 -0.9l1.3 -0.9l1.3 -0.8l1.2 -0.8l1.2 -0.7l1.2 -0.7l1.2 -0.6l1.1 -0.6l1.2 -0.6l1.1 -0.5l1.1 -0.5l1 -0.5l1.1 -0.5l1 -0.4l1.1 -0.4l1 -0.3l1 -0.4l1 -0.3l0.9 -0.3l1 -0.3l1.9 -0.5l1.8 -0.5l1.8 -0.3l1.8 -0.3l1.7 -0.3l1.7 -0.2l1.6 -0.2l1.7 -0.1l1.6 0l1.5 0l1.6 0l1.5 0l1.5 0.1l1.5 0.2l1.5 0.1l1.4 0.2l1.4 0.2l1.4 0.3l1.4 0.2l1.4 0.3l1.3 0.3l1.4 0.4l1.3 0.4l1.3 0.3l1.3 0.4l1.3 0.5l1.3 0.4l1.3 0.4l1.2 0.5l1.3 0.5l1.2 0.5l1.2 0.4l1.2 0.5l1.2 0.6l1.2 0.5l1.2 0.5l1.2 0.5l1.2 0.6l1.2 0.5l1.1 0.5l1.2 0.6l1.1 0.5l1.2 0.6l1.1 0.5l1.1 0.6l1.2 0.5l1.1 0.6l1.1 0.5l1.1 0.6l1.1 0.5l1.1 0.5l1.1 0.6l1.1 0.5l1.1 0.5l1.1 0.6l1 0.5l1.1 0.5l1.1 0.5l1 0.5l1.1 0.5l1.1 0.5l1 0.5l1 0.4" fill="none" stroke="#000" stroke-width="3.2" stroke-linejoin="round" stroke-linecap="square"/>
<path d="M417.9 503.9l27.2 -6.5l16.1 -6.9l11.4 -5.9l8.9 -5.2l7.4 -4.5l6.2 -4l5.5 -3.6l4.8 -3.3l4.3 -3l4 -2.7l3.6 -2.5l3.4 -2.3l3.1 -2.1l2.9 -2l2.8 -1.8l2.6 -1.6l2.5 -1.6l2.3 -1.4l2.3 -1.4l2.1 -1.2l2.1 -1.2l1.9 -1l1.9 -1l1.9 -1l1.7 -0.8l1.8 -0.8l1.6 -0.8l1.6 -0.6l1.6 -0.7l1.5 -0.6l1.5 -0.5l1.5 -0.5l1.4 -0.5l1.3 -0.4l1.4 -0.4l1.3 -0.3l1.3 -0.3l1.3 -0.3l1.2 -0.2l1.2 -0.2l1.2 -0.2l1.2 -0.2l1.1 -0.1l1.2 -0.1l1.1 -0.1l1.1 -0.1l1 0l1.1 0l1 0l1.1 0l1 0l2 0.1l1.9 0.1l1.9 0.2l1.8 0.2l1.8 0.2l1.8 0.3l1.7 0.3l1.7 0.3l1.6 0.4l1.7 0.4l1.6 0.3l1.5 0.5l1.6 0.4l1.5 0.4l1.5 0.5l1.5 0.4l1.5 0.5l1.4 0.5l1.4 0.5l1.4 0.5l1.4 0.6l1.4 0.5l1.3 0.6l1.4 0.5l1.3 0.6l1.3 0.6l1.3 0.6l1.3 0.7l1.3 0.6l1.3 0.7l1.2 0.6l1.3 0.7l1.2 0.7l1.2 0.7l1.2 0.7l1.2 0.7l1.2 0.8l1.2 0.7l1.2 0.7l1.2 0.8l1.2 0.8l1.1 0.7l1.2 0.8l1.1 0.8l1.2 0.8l1.1 0.8l1.1 0.8l1.2 0.8l1.1 0.8l1.1 0.9l1.1 0.8l1.1 0.8l1.1 0.9l1.1 0.8l1.1 0.9l1.1 0.9l1.1 0.8l1 0.9l1.1 0.9l1.1 0.8l1 0.9l1.1 0.9l1.1 0.9l1 0.9l1 0.8" fill="none" stroke="#000" stroke-width="3.2" stroke-linejoin="round" stroke-linecap="square"/>
</g>
<rect x="54.9" y="13.8" width="278" height="203.7" fill="none" stroke="#000" stroke-width="1.25"/>
<rect x="405.5" y="13.8" width="278.1" height="203.6" fill="none" stroke="#000" stroke-width="1.25"/>
<line x1="58.3" y1="217.5" x2="58.3" y2="220.5" stroke="#000" stroke-width="1.0"/>
<line x1="65.4" y1="217.5" x2="65.4" y2="220.5" stroke="#000" stroke-width="1.0"/>
<line x1="71.4" y1="217.5" x2="71.4" y2="220.5" stroke="#000" stroke-width="1.0"/>
<line x1="76.7" y1="217.5" x2="76.7" y2="220.5" stroke="#000" stroke-width="1.0"/>
<line x1="81.2" y1="217.5" x2="81.2" y2="220.5" stroke="#000" stroke-width="1.0"/>
<line x1="85.3" y1="217.5" x2="85.3" y2="223" stroke="#000" stroke-width="1.25"/>
<line x1="112.4" y1="217.5" x2="112.4" y2="220.5" stroke="#000" stroke-width="1.0"/>
<line x1="128.2" y1="217.5" x2="128.2" y2="220.5" stroke="#000" stroke-width="1.0"/>
<line x1="139.4" y1="217.5" x2="139.4" y2="220.5" stroke="#000" stroke-width="1.0"/>
<line x1="148.1" y1="217.5" x2="148.1" y2="220.5" stroke="#000" stroke-width="1.0"/>
<line x1="155.2" y1="217.5" x2="155.2" y2="220.5" stroke="#000" stroke-width="1.0"/>
<line x1="161.2" y1="217.5" x2="161.2" y2="220.5" stroke="#000" stroke-width="1.0"/>
<line x1="166.4" y1="217.5" x2="166.4" y2="220.5" stroke="#000" stroke-width="1.0"/>
<line x1="171" y1="217.5" x2="171" y2="220.5" stroke="#000" stroke-width="1.0"/>
<line x1="175.1" y1="217.5" x2="175.1" y2="223" stroke="#000" stroke-width="1.25"/>
<line x1="202.1" y1="217.5" x2="202.1" y2="220.5" stroke="#000" stroke-width="1.0"/>
<line x1="217.9" y1="217.5" x2="217.9" y2="220.5" stroke="#000" stroke-width="1.0"/>
<line x1="229.1" y1="217.5" x2="229.1" y2="220.5" stroke="#000" stroke-width="1.0"/>
<line x1="237.8" y1="217.5" x2="237.8" y2="220.5" stroke="#000" stroke-width="1.0"/>
<line x1="244.9" y1="217.5" x2="244.9" y2="220.5" stroke="#000" stroke-width="1.0"/>
<line x1="250.9" y1="217.5" x2="250.9" y2="220.5" stroke="#000" stroke-width="1.0"/>
<line x1="256.2" y1="217.5" x2="256.2" y2="220.5" stroke="#000" stroke-width="1.0"/>
<line x1="260.7" y1="217.5" x2="260.7" y2="220.5" stroke="#000" stroke-width="1.0"/>
<line x1="264.9" y1="217.5" x2="264.9" y2="223" stroke="#000" stroke-width="1.25"/>
<line x1="291.9" y1="217.5" x2="291.9" y2="220.5" stroke="#000" stroke-width="1.0"/>
<line x1="307.7" y1="217.5" x2="307.7" y2="220.5" stroke="#000" stroke-width="1.0"/>
<line x1="318.9" y1="217.5" x2="318.9" y2="220.5" stroke="#000" stroke-width="1.0"/>
<line x1="327.6" y1="217.5" x2="327.6" y2="220.5" stroke="#000" stroke-width="1.0"/>
<line x1="409.2" y1="217.4" x2="409.2" y2="220.4" stroke="#000" stroke-width="1.0"/>
<line x1="416.3" y1="217.4" x2="416.3" y2="220.4" stroke="#000" stroke-width="1.0"/>
<line x1="422.3" y1="217.4" x2="422.3" y2="220.4" stroke="#000" stroke-width="1.0"/>
<line x1="427.5" y1="217.4" x2="427.5" y2="220.4" stroke="#000" stroke-width="1.0"/>
<line x1="432.1" y1="217.4" x2="432.1" y2="220.4" stroke="#000" stroke-width="1.0"/>
<line x1="436.2" y1="217.4" x2="436.2" y2="222.9" stroke="#000" stroke-width="1.25"/>
<line x1="463.2" y1="217.4" x2="463.2" y2="220.4" stroke="#000" stroke-width="1.0"/>
<line x1="479" y1="217.4" x2="479" y2="220.4" stroke="#000" stroke-width="1.0"/>
<line x1="490.2" y1="217.4" x2="490.2" y2="220.4" stroke="#000" stroke-width="1.0"/>
<line x1="498.9" y1="217.4" x2="498.9" y2="220.4" stroke="#000" stroke-width="1.0"/>
<line x1="506" y1="217.4" x2="506" y2="220.4" stroke="#000" stroke-width="1.0"/>
<line x1="512" y1="217.4" x2="512" y2="220.4" stroke="#000" stroke-width="1.0"/>
<line x1="517.3" y1="217.4" x2="517.3" y2="220.4" stroke="#000" stroke-width="1.0"/>
<line x1="521.8" y1="217.4" x2="521.8" y2="220.4" stroke="#000" stroke-width="1.0"/>
<line x1="526" y1="217.4" x2="526" y2="222.9" stroke="#000" stroke-width="1.25"/>
<line x1="553" y1="217.4" x2="553" y2="220.4" stroke="#000" stroke-width="1.0"/>
<line x1="568.8" y1="217.4" x2="568.8" y2="220.4" stroke="#000" stroke-width="1.0"/>
<line x1="580" y1="217.4" x2="580" y2="220.4" stroke="#000" stroke-width="1.0"/>
<line x1="588.7" y1="217.4" x2="588.7" y2="220.4" stroke="#000" stroke-width="1.0"/>
<line x1="595.8" y1="217.4" x2="595.8" y2="220.4" stroke="#000" stroke-width="1.0"/>
<line x1="601.8" y1="217.4" x2="601.8" y2="220.4" stroke="#000" stroke-width="1.0"/>
<line x1="607" y1="217.4" x2="607" y2="220.4" stroke="#000" stroke-width="1.0"/>
<line x1="611.6" y1="217.4" x2="611.6" y2="220.4" stroke="#000" stroke-width="1.0"/>
<line x1="615.7" y1="217.4" x2="615.7" y2="222.9" stroke="#000" stroke-width="1.25"/>
<line x1="642.7" y1="217.4" x2="642.7" y2="220.4" stroke="#000" stroke-width="1.0"/>
<line x1="658.5" y1="217.4" x2="658.5" y2="220.4" stroke="#000" stroke-width="1.0"/>
<line x1="669.7" y1="217.4" x2="669.7" y2="220.4" stroke="#000" stroke-width="1.0"/>
<line x1="678.4" y1="217.4" x2="678.4" y2="220.4" stroke="#000" stroke-width="1.0"/>
<line x1="49.4" y1="217.5" x2="54.9" y2="217.5" stroke="#000" stroke-width="1.25"/>
<text x="42.3" y="224.1" text-anchor="end" class="tk">0</text>
<line x1="49.4" y1="173.2" x2="54.9" y2="173.2" stroke="#000" stroke-width="1.25"/>
<text x="42.3" y="179.8" text-anchor="end" class="tk">5</text>
<line x1="49.4" y1="129" x2="54.9" y2="129" stroke="#000" stroke-width="1.25"/>
<text x="42.3" y="135.6" text-anchor="end" class="tk">10</text>
<line x1="49.4" y1="84.7" x2="54.9" y2="84.7" stroke="#000" stroke-width="1.25"/>
<text x="42.3" y="91.3" text-anchor="end" class="tk">15</text>
<line x1="49.4" y1="40.4" x2="54.9" y2="40.4" stroke="#000" stroke-width="1.25"/>
<text x="42.3" y="47" text-anchor="end" class="tk">20</text>
<line x1="400" y1="217.4" x2="405.5" y2="217.4" stroke="#000" stroke-width="1.25"/>
<text x="392.9" y="224" text-anchor="end" class="tk">0</text>
<line x1="400" y1="149.6" x2="405.5" y2="149.6" stroke="#000" stroke-width="1.25"/>
<text x="392.9" y="156.2" text-anchor="end" class="tk">1</text>
<line x1="400" y1="81.7" x2="405.5" y2="81.7" stroke="#000" stroke-width="1.25"/>
<text x="392.9" y="88.3" text-anchor="end" class="tk">2</text>
<line x1="400" y1="13.9" x2="405.5" y2="13.9" stroke="#000" stroke-width="1.25"/>
<text x="392.9" y="20.5" text-anchor="end" class="tk">3</text>
<text x="89.2" y="247.3" class="tk" text-anchor="end">10</text>
<text x="89.2" y="240.4" class="sup">0</text>
<text x="179" y="247.3" class="tk" text-anchor="end">10</text>
<text x="179" y="240.4" class="sup">1</text>
<text x="268.8" y="247.3" class="tk" text-anchor="end">10</text>
<text x="268.8" y="240.4" class="sup">2</text>
<text x="440.1" y="247.3" class="tk" text-anchor="end">10</text>
<text x="440.1" y="240.4" class="sup">0</text>
<text x="529.9" y="247.3" class="tk" text-anchor="end">10</text>
<text x="529.9" y="240.4" class="sup">1</text>
<text x="619.6" y="247.3" class="tk" text-anchor="end">10</text>
<text x="619.6" y="240.4" class="sup">2</text>
<text x="185.1" y="269.5" class="lab it">y</text>
<path d="M194 259.8h8M198 255.8v8" stroke="#111" stroke-width="0.95"/>
<text x="535.8" y="269.5" class="lab it">y</text>
<path d="M544.6 259.8h8M548.6 255.8v8" stroke="#111" stroke-width="0.95"/>
<text transform="translate(16.2 128.5) rotate(-90)" class="lab it">U</text>
<path d="M5.6 110.2h8M9.6 106.2v8" stroke="#111" stroke-width="0.95"/>
<rect x="54.9" y="311.4" width="278" height="203.6" fill="none" stroke="#000" stroke-width="1.25"/>
<rect x="405.5" y="311.4" width="278.1" height="203.6" fill="none" stroke="#000" stroke-width="1.25"/>
<line x1="58.3" y1="515" x2="58.3" y2="518" stroke="#000" stroke-width="1.0"/>
<line x1="65.4" y1="515" x2="65.4" y2="518" stroke="#000" stroke-width="1.0"/>
<line x1="71.4" y1="515" x2="71.4" y2="518" stroke="#000" stroke-width="1.0"/>
<line x1="76.7" y1="515" x2="76.7" y2="518" stroke="#000" stroke-width="1.0"/>
<line x1="81.2" y1="515" x2="81.2" y2="518" stroke="#000" stroke-width="1.0"/>
<line x1="85.3" y1="515" x2="85.3" y2="520.5" stroke="#000" stroke-width="1.25"/>
<line x1="112.4" y1="515" x2="112.4" y2="518" stroke="#000" stroke-width="1.0"/>
<line x1="128.2" y1="515" x2="128.2" y2="518" stroke="#000" stroke-width="1.0"/>
<line x1="139.4" y1="515" x2="139.4" y2="518" stroke="#000" stroke-width="1.0"/>
<line x1="148.1" y1="515" x2="148.1" y2="518" stroke="#000" stroke-width="1.0"/>
<line x1="155.2" y1="515" x2="155.2" y2="518" stroke="#000" stroke-width="1.0"/>
<line x1="161.2" y1="515" x2="161.2" y2="518" stroke="#000" stroke-width="1.0"/>
<line x1="166.4" y1="515" x2="166.4" y2="518" stroke="#000" stroke-width="1.0"/>
<line x1="171" y1="515" x2="171" y2="518" stroke="#000" stroke-width="1.0"/>
<line x1="175.1" y1="515" x2="175.1" y2="520.5" stroke="#000" stroke-width="1.25"/>
<line x1="202.1" y1="515" x2="202.1" y2="518" stroke="#000" stroke-width="1.0"/>
<line x1="217.9" y1="515" x2="217.9" y2="518" stroke="#000" stroke-width="1.0"/>
<line x1="229.1" y1="515" x2="229.1" y2="518" stroke="#000" stroke-width="1.0"/>
<line x1="237.8" y1="515" x2="237.8" y2="518" stroke="#000" stroke-width="1.0"/>
<line x1="244.9" y1="515" x2="244.9" y2="518" stroke="#000" stroke-width="1.0"/>
<line x1="250.9" y1="515" x2="250.9" y2="518" stroke="#000" stroke-width="1.0"/>
<line x1="256.2" y1="515" x2="256.2" y2="518" stroke="#000" stroke-width="1.0"/>
<line x1="260.7" y1="515" x2="260.7" y2="518" stroke="#000" stroke-width="1.0"/>
<line x1="264.9" y1="515" x2="264.9" y2="520.5" stroke="#000" stroke-width="1.25"/>
<line x1="291.9" y1="515" x2="291.9" y2="518" stroke="#000" stroke-width="1.0"/>
<line x1="307.7" y1="515" x2="307.7" y2="518" stroke="#000" stroke-width="1.0"/>
<line x1="318.9" y1="515" x2="318.9" y2="518" stroke="#000" stroke-width="1.0"/>
<line x1="327.6" y1="515" x2="327.6" y2="518" stroke="#000" stroke-width="1.0"/>
<line x1="409.2" y1="515" x2="409.2" y2="518" stroke="#000" stroke-width="1.0"/>
<line x1="416.3" y1="515" x2="416.3" y2="518" stroke="#000" stroke-width="1.0"/>
<line x1="422.3" y1="515" x2="422.3" y2="518" stroke="#000" stroke-width="1.0"/>
<line x1="427.5" y1="515" x2="427.5" y2="518" stroke="#000" stroke-width="1.0"/>
<line x1="432.1" y1="515" x2="432.1" y2="518" stroke="#000" stroke-width="1.0"/>
<line x1="436.2" y1="515" x2="436.2" y2="520.5" stroke="#000" stroke-width="1.25"/>
<line x1="463.2" y1="515" x2="463.2" y2="518" stroke="#000" stroke-width="1.0"/>
<line x1="479" y1="515" x2="479" y2="518" stroke="#000" stroke-width="1.0"/>
<line x1="490.2" y1="515" x2="490.2" y2="518" stroke="#000" stroke-width="1.0"/>
<line x1="498.9" y1="515" x2="498.9" y2="518" stroke="#000" stroke-width="1.0"/>
<line x1="506" y1="515" x2="506" y2="518" stroke="#000" stroke-width="1.0"/>
<line x1="512" y1="515" x2="512" y2="518" stroke="#000" stroke-width="1.0"/>
<line x1="517.3" y1="515" x2="517.3" y2="518" stroke="#000" stroke-width="1.0"/>
<line x1="521.8" y1="515" x2="521.8" y2="518" stroke="#000" stroke-width="1.0"/>
<line x1="526" y1="515" x2="526" y2="520.5" stroke="#000" stroke-width="1.25"/>
<line x1="553" y1="515" x2="553" y2="518" stroke="#000" stroke-width="1.0"/>
<line x1="568.8" y1="515" x2="568.8" y2="518" stroke="#000" stroke-width="1.0"/>
<line x1="580" y1="515" x2="580" y2="518" stroke="#000" stroke-width="1.0"/>
<line x1="588.7" y1="515" x2="588.7" y2="518" stroke="#000" stroke-width="1.0"/>
<line x1="595.8" y1="515" x2="595.8" y2="518" stroke="#000" stroke-width="1.0"/>
<line x1="601.8" y1="515" x2="601.8" y2="518" stroke="#000" stroke-width="1.0"/>
<line x1="607" y1="515" x2="607" y2="518" stroke="#000" stroke-width="1.0"/>
<line x1="611.6" y1="515" x2="611.6" y2="518" stroke="#000" stroke-width="1.0"/>
<line x1="615.7" y1="515" x2="615.7" y2="520.5" stroke="#000" stroke-width="1.25"/>
<line x1="642.7" y1="515" x2="642.7" y2="518" stroke="#000" stroke-width="1.0"/>
<line x1="658.5" y1="515" x2="658.5" y2="518" stroke="#000" stroke-width="1.0"/>
<line x1="669.7" y1="515" x2="669.7" y2="518" stroke="#000" stroke-width="1.0"/>
<line x1="678.4" y1="515" x2="678.4" y2="518" stroke="#000" stroke-width="1.0"/>
<line x1="49.4" y1="515" x2="54.9" y2="515" stroke="#000" stroke-width="1.25"/>
<text x="42.3" y="521.6" text-anchor="end" class="tk">0</text>
<line x1="49.4" y1="470.7" x2="54.9" y2="470.7" stroke="#000" stroke-width="1.25"/>
<text x="42.3" y="477.3" text-anchor="end" class="tk">5</text>
<line x1="49.4" y1="426.5" x2="54.9" y2="426.5" stroke="#000" stroke-width="1.25"/>
<text x="42.3" y="433.1" text-anchor="end" class="tk">10</text>
<line x1="49.4" y1="382.2" x2="54.9" y2="382.2" stroke="#000" stroke-width="1.25"/>
<text x="42.3" y="388.8" text-anchor="end" class="tk">15</text>
<line x1="49.4" y1="337.9" x2="54.9" y2="337.9" stroke="#000" stroke-width="1.25"/>
<text x="42.3" y="344.5" text-anchor="end" class="tk">20</text>
<line x1="400" y1="515" x2="405.5" y2="515" stroke="#000" stroke-width="1.25"/>
<text x="392.9" y="521.6" text-anchor="end" class="tk">0</text>
<line x1="400" y1="447.1" x2="405.5" y2="447.1" stroke="#000" stroke-width="1.25"/>
<text x="392.9" y="453.7" text-anchor="end" class="tk">1</text>
<line x1="400" y1="379.2" x2="405.5" y2="379.2" stroke="#000" stroke-width="1.25"/>
<text x="392.9" y="385.8" text-anchor="end" class="tk">2</text>
<line x1="400" y1="311.4" x2="405.5" y2="311.4" stroke="#000" stroke-width="1.25"/>
<text x="392.9" y="318" text-anchor="end" class="tk">3</text>
<text x="89.2" y="544.8" class="tk" text-anchor="end">10</text>
<text x="89.2" y="537.9" class="sup">0</text>
<text x="179" y="544.8" class="tk" text-anchor="end">10</text>
<text x="179" y="537.9" class="sup">1</text>
<text x="268.8" y="544.8" class="tk" text-anchor="end">10</text>
<text x="268.8" y="537.9" class="sup">2</text>
<text x="440.1" y="544.8" class="tk" text-anchor="end">10</text>
<text x="440.1" y="537.9" class="sup">0</text>
<text x="529.9" y="544.8" class="tk" text-anchor="end">10</text>
<text x="529.9" y="537.9" class="sup">1</text>
<text x="619.6" y="544.8" class="tk" text-anchor="end">10</text>
<text x="619.6" y="537.9" class="sup">2</text>
<text x="185.1" y="567" class="lab it">y</text>
<path d="M194 557.3h8M198 553.3v8" stroke="#111" stroke-width="0.95"/>
<text x="535.8" y="567" class="lab it">y</text>
<path d="M544.6 557.3h8M548.6 553.3v8" stroke="#111" stroke-width="0.95"/>
<text transform="translate(16.2 426) rotate(-90)" class="lab it">U</text>
<path d="M5.6 407.7h8M9.6 403.7v8" stroke="#111" stroke-width="0.95"/>
<text x="-0.6" y="13.9" class="pp">(</text><text x="6" y="13.9" class="pl">a</text><text x="14.3" y="13.9" class="pp">)</text>
<text x="350.2" y="13.9" class="pp">(</text><text x="356.8" y="13.9" class="pl">b</text><text x="366" y="13.9" class="pp">)</text>
<text x="-0.6" y="315.4" class="pp">(</text><text x="6" y="315.4" class="pl">c</text><text x="13.3" y="315.4" class="pp">)</text>
<text x="350.2" y="315.6" class="pp">(</text><text x="356.8" y="315.6" class="pl">d</text><text x="366" y="315.6" class="pp">)</text>
<line x1="67" y1="34.2" x2="102" y2="34.2" stroke="#000" stroke-width="3.1"/>
<text x="112.8" y="39.8" class="lg" textLength="71.3" lengthAdjust="spacingAndGlyphs">PCH-DNS</text>
<line x1="67" y1="57.4" x2="102" y2="57.4" stroke="#0000ff" stroke-width="3.1"/><circle cx="84.5" cy="57.4" r="3.6" fill="#0000ff"/>
<text x="113.1" y="63" class="lg it">x</text>
<path d="M126.6 57.5h10.9M126.6 60.4h10.9" stroke="#111" stroke-width="0.95"/>
<text x="142.0" y="63" class="lg">0<tspan class="it" dx="0.8">h</tspan></text>
<line x1="67" y1="80.4" x2="102" y2="80.4" stroke="#008000" stroke-width="3.1"/><circle cx="84.5" cy="80.4" r="3.6" fill="#008000"/>
<text x="113.1" y="86" class="lg it">x</text>
<path d="M126.6 80.5h10.9M126.6 83.4h10.9" stroke="#111" stroke-width="0.95"/>
<text x="142.0" y="86" class="lg">0.7<tspan class="it" dx="0.8">h</tspan></text>
<line x1="67" y1="103.4" x2="102" y2="103.4" stroke="#9400d3" stroke-width="3.1"/><circle cx="84.5" cy="103.4" r="3.6" fill="#9400d3"/>
<text x="113.1" y="109" class="lg it">x</text>
<path d="M126.6 103.5h10.9M126.6 106.4h10.9" stroke="#111" stroke-width="0.95"/>
<text x="142.0" y="109" class="lg">1.5<tspan class="it" dx="0.8">h</tspan></text>
<line x1="418" y1="35.5" x2="453" y2="35.5" stroke="#9400d3" stroke-width="3.1"/><circle cx="435.5" cy="35.5" r="3.6" fill="#9400d3"/>
<text x="463.6" y="38" class="lg it">u</text>
<text x="472.8" y="41.5" class="sub it" textLength="22" lengthAdjust="spacingAndGlyphs">rms</text>
<path d="M473 29.2h8M477 25.2v8" stroke="#111" stroke-width="0.95"/>
<line x1="418" y1="60" x2="453" y2="60" stroke="#9400d3" stroke-width="3.1"/><rect x="432.2" y="56.7" width="6.6" height="6.6" fill="#9400d3"/>
<text x="463.6" y="62.5" class="lg it">v</text>
<text x="472.6" y="66" class="sub it" textLength="22" lengthAdjust="spacingAndGlyphs">rms</text>
<path d="M472.8 53.7h8M476.8 49.7v8" stroke="#111" stroke-width="0.95"/>
<line x1="418" y1="84.5" x2="453" y2="84.5" stroke="#9400d3" stroke-width="3.1"/><path d="M432.5 81.5l6 6M432.5 87.5l6 -6" stroke="#9400d3" stroke-width="1.6"/>
<text x="463.6" y="87" class="lg it">w</text>
<text x="474.5" y="90.5" class="sub it" textLength="22" lengthAdjust="spacingAndGlyphs">rms</text>
<path d="M474.7 78.2h8M478.7 74.2v8" stroke="#111" stroke-width="0.95"/>
<line x1="67" y1="331.7" x2="102" y2="331.7" stroke="#000" stroke-width="3.1"/>
<text x="112.8" y="337.3" class="lg" textLength="71.3" lengthAdjust="spacingAndGlyphs">PCH-DNS</text>
<line x1="67" y1="354.9" x2="102" y2="354.9" stroke="#0000ff" stroke-width="3.1"/><circle cx="84.5" cy="354.9" r="3.6" fill="#0000ff"/>
<text x="113.1" y="360.5" class="lg it">x</text>
<path d="M126.6 355h10.9M126.6 357.8h10.9" stroke="#111" stroke-width="0.95"/>
<text x="142.0" y="360.5" class="lg">0<tspan class="it" dx="0.8">h</tspan></text>
<line x1="67" y1="377.9" x2="102" y2="377.9" stroke="#008080" stroke-width="3.1"/><circle cx="84.5" cy="377.9" r="3.6" fill="#008080"/>
<text x="113.1" y="383.5" class="lg it">x</text>
<path d="M126.6 378h10.9M126.6 380.8h10.9" stroke="#111" stroke-width="0.95"/>
<text x="142.0" y="383.5" class="lg">6<tspan class="it" dx="0.8">h</tspan></text>
<line x1="67" y1="400.9" x2="102" y2="400.9" stroke="#ff0000" stroke-width="3.1"/><circle cx="84.5" cy="400.9" r="3.6" fill="#ff0000"/>
<text x="113.1" y="406.5" class="lg it">x</text>
<path d="M126.6 401h10.9M126.6 403.8h10.9" stroke="#111" stroke-width="0.95"/>
<text x="142.0" y="406.5" class="lg">12<tspan class="it" dx="0.8">h</tspan></text>
<line x1="418" y1="333" x2="453" y2="333" stroke="#ff0000" stroke-width="3.1"/><circle cx="435.5" cy="333" r="3.6" fill="#ff0000"/>
<text x="463.6" y="335.5" class="lg it">u</text>
<text x="472.8" y="339" class="sub it" textLength="22" lengthAdjust="spacingAndGlyphs">rms</text>
<path d="M473 326.7h8M477 322.7v8" stroke="#111" stroke-width="0.95"/>
<line x1="418" y1="357.5" x2="453" y2="357.5" stroke="#ff0000" stroke-width="3.1"/><rect x="432.2" y="354.2" width="6.6" height="6.6" fill="#ff0000"/>
<text x="463.6" y="360" class="lg it">v</text>
<text x="472.6" y="363.5" class="sub it" textLength="22" lengthAdjust="spacingAndGlyphs">rms</text>
<path d="M472.8 351.2h8M476.8 347.2v8" stroke="#111" stroke-width="0.95"/>
<line x1="418" y1="382" x2="453" y2="382" stroke="#ff0000" stroke-width="3.1"/><path d="M432.5 379l6 6M432.5 385l6 -6" stroke="#ff0000" stroke-width="1.6"/>
<text x="463.6" y="384.5" class="lg it">w</text>
<text x="474.5" y="388" class="sub it" textLength="22" lengthAdjust="spacingAndGlyphs">rms</text>
<path d="M474.7 375.7h8M478.7 371.7v8" stroke="#111" stroke-width="0.95"/>
</svg>
</body></html>
